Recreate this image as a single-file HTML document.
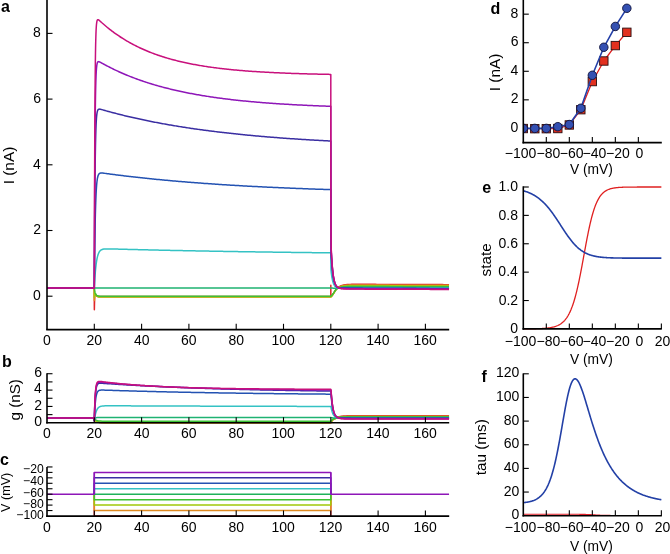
<!DOCTYPE html>
<html><head><meta charset="utf-8"><style>
html,body{margin:0;padding:0;background:#fff;width:670px;height:554px;overflow:hidden}
svg{display:block;will-change:transform}
text{font-family:"Liberation Sans", sans-serif;fill:#000}
</style></head><body>
<svg width="670" height="554" viewBox="0 0 670 554">
<rect width="670" height="554" fill="#fff"/>
<polyline points="47,287.99 94.3,287.99 94.3,287.99 94.32,306.18 94.35,309.67 94.37,309.4 94.42,306.94 94.49,303.47 94.61,299.46 94.72,296.98 94.84,295.5 94.96,294.66 95.07,294.23 95.19,294.06 95.31,294.04 95.43,294.12 95.54,294.26 95.66,294.42 95.78,294.6 95.89,294.77 96.01,294.94 96.13,295.09 96.24,295.24 96.36,295.37 96.48,295.5 96.6,295.61 96.71,295.71 96.83,295.8 96.95,295.88 97.06,295.95 97.18,296.02 97.3,296.08 97.42,296.13 97.53,296.18 97.65,296.22 97.77,296.26 97.88,296.3 98,296.33 98.12,296.36 98.23,296.38 98.35,296.4 98.47,296.42 98.59,296.44 98.7,296.46 98.82,296.47 98.94,296.48 99.05,296.5 99.17,296.51 99.29,296.51 99.41,296.52 99.52,296.53 99.64,296.54 99.76,296.54 99.87,296.55 99.99,296.55 100.11,296.56 100.22,296.56 100.34,296.56 100.46,296.57 100.58,296.57 100.69,296.57 100.81,296.58 100.93,296.58 101.04,296.58 101.16,296.58 101.28,296.58 101.4,296.58 101.63,296.59 102.78,296.59 103.93,296.59 105.09,296.59 106.24,296.59 107.39,296.59 108.54,296.59 109.69,296.59 110.84,296.59 112,296.59 113.15,296.59 114.3,296.59 115.45,296.59 116.6,296.59 117.75,296.59 118.91,296.59 120.06,296.59 121.21,296.59 122.36,296.59 123.51,296.59 124.66,296.59 125.82,296.59 126.97,296.59 128.12,296.59 129.27,296.59 130.42,296.59 131.57,296.59 132.72,296.59 133.88,296.59 135.03,296.59 136.18,296.59 137.33,296.59 138.48,296.59 139.63,296.59 140.79,296.59 141.94,296.59 143.09,296.59 144.24,296.59 145.39,296.59 146.54,296.59 147.7,296.59 148.85,296.59 150,296.59 151.15,296.59 152.3,296.59 153.45,296.59 154.61,296.59 155.76,296.59 156.91,296.59 158.06,296.59 159.21,296.59 160.36,296.59 161.51,296.59 162.67,296.59 163.82,296.59 164.97,296.59 166.12,296.59 167.27,296.59 168.42,296.59 169.58,296.59 170.73,296.59 171.88,296.59 173.03,296.59 174.18,296.59 175.33,296.59 176.49,296.59 177.64,296.59 178.79,296.59 179.94,296.59 181.09,296.59 182.24,296.59 183.4,296.59 184.55,296.59 185.7,296.59 186.85,296.59 188,296.59 189.15,296.59 190.3,296.59 191.46,296.59 192.61,296.59 193.76,296.59 194.91,296.59 196.06,296.59 197.21,296.59 198.37,296.59 199.52,296.59 200.67,296.59 201.82,296.59 202.97,296.59 204.12,296.59 205.28,296.59 206.43,296.59 207.58,296.59 208.73,296.59 209.88,296.59 211.03,296.59 212.19,296.59 213.34,296.59 214.49,296.59 215.64,296.59 216.79,296.59 217.94,296.59 219.09,296.59 220.25,296.59 221.4,296.59 222.55,296.59 223.7,296.59 224.85,296.59 226,296.59 227.16,296.59 228.31,296.59 229.46,296.59 230.61,296.59 231.76,296.59 232.91,296.59 234.07,296.59 235.22,296.59 236.37,296.59 237.52,296.59 238.67,296.59 239.82,296.59 240.98,296.59 242.13,296.59 243.28,296.59 244.43,296.59 245.58,296.59 246.73,296.59 247.88,296.59 249.04,296.59 250.19,296.59 251.34,296.59 252.49,296.59 253.64,296.59 254.79,296.59 255.95,296.59 257.1,296.59 258.25,296.59 259.4,296.59 260.55,296.59 261.7,296.59 262.86,296.59 264.01,296.59 265.16,296.59 266.31,296.59 267.46,296.59 268.61,296.59 269.77,296.59 270.92,296.59 272.07,296.59 273.22,296.59 274.37,296.59 275.52,296.59 276.67,296.59 277.83,296.59 278.98,296.59 280.13,296.59 281.28,296.59 282.43,296.59 283.58,296.59 284.74,296.59 285.89,296.59 287.04,296.59 288.19,296.59 289.34,296.59 290.49,296.59 291.65,296.59 292.8,296.59 293.95,296.59 295.1,296.59 296.25,296.59 297.4,296.59 298.56,296.59 299.71,296.59 300.86,296.59 302.01,296.59 303.16,296.59 304.31,296.59 305.46,296.59 306.62,296.59 307.77,296.59 308.92,296.59 310.07,296.59 311.22,296.59 312.37,296.59 313.53,296.59 314.68,296.59 315.83,296.59 316.98,296.59 318.13,296.59 319.28,296.59 320.44,296.59 321.59,296.59 322.74,296.59 323.89,296.59 325.04,296.59 326.19,296.59 327.35,296.59 328.5,296.59 329.65,296.59 330.8,296.59 330.8,296.59 330.82,285.36 330.85,296.56 330.87,296.55 330.92,296.52 331.04,296.43 331.15,296.33 331.27,296.23 331.39,296.12 331.51,296.01 331.63,295.88 331.75,295.76 331.86,295.62 331.98,295.48 332.1,295.34 332.22,295.19 332.34,295.03 332.46,294.87 332.57,294.71 332.69,294.54 332.81,294.37 332.93,294.2 333.05,294.02 333.17,293.84 333.28,293.66 333.4,293.48 333.52,293.3 333.64,293.11 333.76,292.92 333.87,292.74 333.99,292.55 334.11,292.36 334.23,292.18 334.35,291.99 334.47,291.8 334.58,291.62 334.7,291.44 334.82,291.26 334.94,291.08 335.06,290.9 335.18,290.73 335.29,290.56 335.41,290.39 335.53,290.23 335.65,290.07 335.77,289.91 335.88,289.76 336,289.62 336.12,289.48 336.24,289.34 336.36,289.21 336.48,289.09 336.59,288.98 336.71,288.87 336.83,288.76 336.95,288.67 337.07,288.58 337.19,288.5 337.3,288.37 337.42,288.25 337.54,288.12 337.66,288 337.78,287.89 337.9,287.78 338.01,287.67 338.13,287.56 338.25,287.46 338.37,287.36 338.49,287.26 338.6,287.17 338.72,287.08 338.84,286.99 338.96,286.91 339.08,286.83 339.2,286.75 339.31,286.67 339.43,286.6 339.55,286.52 339.67,286.45 339.79,286.39 339.91,286.32 340.02,286.26 340.14,286.2 340.26,286.14 340.38,286.08 340.5,286.02 340.61,285.97 340.73,285.91 340.85,285.86 340.97,285.81 341.09,285.77 341.21,285.72 341.32,285.67 341.44,285.63 341.56,285.59 341.68,285.55 341.8,285.51 341.92,285.47 342.03,285.43 342.15,285.4 342.27,285.36 342.39,285.33 342.51,285.29 342.62,285.26 342.74,285.23 342.86,285.2 342.98,285.17 343.1,285.14 343.22,285.12 343.33,285.09 343.45,285.07 343.57,285.04 343.69,285.02 343.81,284.99 343.93,284.97 344.04,284.95 344.16,284.93 344.28,284.91 344.4,284.89 344.52,284.87 344.64,284.85 344.75,284.83 344.87,284.81 344.99,284.8 345.11,284.78 345.23,284.77 345.34,284.75 345.46,284.74 345.58,284.72 345.7,284.71 345.82,284.69 345.94,284.68 346.05,284.67 346.17,284.66 346.29,284.64 346.41,284.63 346.53,284.62 346.65,284.61 346.76,284.6 346.88,284.59 347,284.58 347.12,284.57 347.24,284.56 347.36,284.55 347.47,284.55 347.59,284.54 347.71,284.53 347.83,284.52 347.95,284.51 348.06,284.51 348.18,284.5 348.3,284.49 348.42,284.49 348.54,284.48 348.66,284.47 348.77,284.47 348.89,284.46 349.01,284.46 349.13,284.45 349.25,284.45 349.37,284.44 349.48,284.44 349.6,284.43 349.72,284.43 350.19,284.41 351.87,284.37 353.54,284.34 355.22,284.33 356.9,284.32 358.57,284.32 360.25,284.32 361.92,284.32 363.6,284.33 365.27,284.33 366.95,284.34 368.62,284.34 370.3,284.35 371.98,284.36 373.65,284.36 375.33,284.37 377,284.38 378.68,284.38 380.35,284.39 382.03,284.39 383.7,284.4 385.38,284.41 387.05,284.41 388.73,284.42 390.41,284.43 392.08,284.43 393.76,284.44 395.43,284.45 397.11,284.45 398.78,284.46 400.46,284.47 402.13,284.47 403.81,284.48 405.49,284.48 407.16,284.49 408.84,284.5 410.51,284.5 412.19,284.51 413.86,284.52 415.54,284.52 417.21,284.53 418.89,284.54 420.57,284.54 422.24,284.55 423.92,284.55 425.59,284.56 427.27,284.57 428.94,284.57 430.62,284.58 432.29,284.59 433.97,284.59 435.65,284.6 437.32,284.61 439,284.61 440.67,284.62 442.35,284.62 444.02,284.63 445.7,284.64 447.37,284.64 449.05,284.65" fill="none" stroke="#e0262a" stroke-width="1.5" stroke-linejoin="round" />
<polyline points="47,287.99 94.3,287.99 94.3,287.99 94.32,298.4 94.35,300.47 94.37,300.4 94.42,299.18 94.49,297.45 94.61,295.54 94.72,294.46 94.84,293.92 94.96,293.7 95.07,293.69 95.19,293.8 95.31,293.98 95.43,294.2 95.54,294.43 95.66,294.66 95.78,294.88 95.89,295.08 96.01,295.27 96.13,295.45 96.24,295.61 96.36,295.76 96.48,295.89 96.6,296.01 96.71,296.12 96.83,296.21 96.95,296.3 97.06,296.38 97.18,296.45 97.3,296.51 97.42,296.57 97.53,296.62 97.65,296.66 97.77,296.71 97.88,296.74 98,296.77 98.12,296.8 98.23,296.83 98.35,296.85 98.47,296.87 98.59,296.89 98.7,296.91 98.82,296.92 98.94,296.94 99.05,296.95 99.17,296.96 99.29,296.97 99.41,296.98 99.52,296.99 99.64,296.99 99.76,297 99.87,297.01 99.99,297.01 100.11,297.02 100.22,297.02 100.34,297.02 100.46,297.03 100.58,297.03 100.69,297.03 100.81,297.03 100.93,297.04 101.04,297.04 101.16,297.04 101.28,297.04 101.4,297.04 101.63,297.04 102.78,297.05 103.93,297.05 105.09,297.05 106.24,297.05 107.39,297.05 108.54,297.05 109.69,297.05 110.84,297.05 112,297.05 113.15,297.05 114.3,297.05 115.45,297.05 116.6,297.05 117.75,297.05 118.91,297.05 120.06,297.05 121.21,297.05 122.36,297.05 123.51,297.05 124.66,297.05 125.82,297.05 126.97,297.05 128.12,297.05 129.27,297.05 130.42,297.05 131.57,297.05 132.72,297.05 133.88,297.05 135.03,297.05 136.18,297.05 137.33,297.05 138.48,297.05 139.63,297.05 140.79,297.05 141.94,297.05 143.09,297.05 144.24,297.05 145.39,297.05 146.54,297.05 147.7,297.05 148.85,297.05 150,297.05 151.15,297.05 152.3,297.05 153.45,297.05 154.61,297.05 155.76,297.05 156.91,297.05 158.06,297.05 159.21,297.05 160.36,297.05 161.51,297.05 162.67,297.05 163.82,297.05 164.97,297.05 166.12,297.05 167.27,297.05 168.42,297.05 169.58,297.05 170.73,297.05 171.88,297.05 173.03,297.05 174.18,297.05 175.33,297.05 176.49,297.05 177.64,297.05 178.79,297.05 179.94,297.05 181.09,297.05 182.24,297.05 183.4,297.05 184.55,297.05 185.7,297.05 186.85,297.05 188,297.05 189.15,297.05 190.3,297.05 191.46,297.05 192.61,297.05 193.76,297.05 194.91,297.05 196.06,297.05 197.21,297.05 198.37,297.05 199.52,297.05 200.67,297.05 201.82,297.05 202.97,297.05 204.12,297.05 205.28,297.05 206.43,297.05 207.58,297.05 208.73,297.05 209.88,297.05 211.03,297.05 212.19,297.05 213.34,297.05 214.49,297.05 215.64,297.05 216.79,297.05 217.94,297.05 219.09,297.05 220.25,297.05 221.4,297.05 222.55,297.05 223.7,297.05 224.85,297.05 226,297.05 227.16,297.05 228.31,297.05 229.46,297.05 230.61,297.05 231.76,297.05 232.91,297.05 234.07,297.05 235.22,297.05 236.37,297.05 237.52,297.05 238.67,297.05 239.82,297.05 240.98,297.05 242.13,297.05 243.28,297.05 244.43,297.05 245.58,297.05 246.73,297.05 247.88,297.05 249.04,297.05 250.19,297.05 251.34,297.05 252.49,297.05 253.64,297.05 254.79,297.05 255.95,297.05 257.1,297.05 258.25,297.05 259.4,297.05 260.55,297.05 261.7,297.05 262.86,297.05 264.01,297.05 265.16,297.05 266.31,297.05 267.46,297.05 268.61,297.05 269.77,297.05 270.92,297.05 272.07,297.05 273.22,297.05 274.37,297.05 275.52,297.05 276.67,297.05 277.83,297.05 278.98,297.05 280.13,297.05 281.28,297.05 282.43,297.05 283.58,297.05 284.74,297.05 285.89,297.05 287.04,297.05 288.19,297.05 289.34,297.05 290.49,297.05 291.65,297.05 292.8,297.05 293.95,297.05 295.1,297.05 296.25,297.05 297.4,297.05 298.56,297.05 299.71,297.05 300.86,297.05 302.01,297.05 303.16,297.05 304.31,297.05 305.46,297.05 306.62,297.05 307.77,297.05 308.92,297.05 310.07,297.05 311.22,297.05 312.37,297.05 313.53,297.05 314.68,297.05 315.83,297.05 316.98,297.05 318.13,297.05 319.28,297.05 320.44,297.05 321.59,297.05 322.74,297.05 323.89,297.05 325.04,297.05 326.19,297.05 327.35,297.05 328.5,297.05 329.65,297.05 330.8,297.05 330.8,297.05 330.82,297.04 330.85,297.02 330.87,297.01 330.92,296.97 331.04,296.88 331.15,296.78 331.27,296.67 331.39,296.56 331.51,296.43 331.63,296.3 331.75,296.17 331.86,296.03 331.98,295.88 332.1,295.72 332.22,295.57 332.34,295.4 332.46,295.23 332.57,295.06 332.69,294.89 332.81,294.71 332.93,294.52 333.05,294.34 333.17,294.15 333.28,293.96 333.4,293.76 333.52,293.57 333.64,293.37 333.76,293.17 333.87,292.98 333.99,292.78 334.11,292.58 334.23,292.38 334.35,292.19 334.47,291.99 334.58,291.8 334.7,291.6 334.82,291.41 334.94,291.22 335.06,291.04 335.18,290.85 335.29,290.67 335.41,290.5 335.53,290.32 335.65,290.16 335.77,289.99 335.88,289.83 336,289.68 336.12,289.53 336.24,289.39 336.36,289.25 336.48,289.13 336.59,289 336.71,288.89 336.83,288.78 336.95,288.68 337.07,288.59 337.19,288.5 337.3,288.39 337.42,288.29 337.54,288.19 337.66,288.09 337.78,287.99 337.9,287.9 338.01,287.8 338.13,287.72 338.25,287.63 338.37,287.55 338.49,287.47 338.6,287.39 338.72,287.32 338.84,287.24 338.96,287.17 339.08,287.1 339.2,287.04 339.31,286.97 339.43,286.91 339.55,286.85 339.67,286.79 339.79,286.73 339.91,286.68 340.02,286.63 340.14,286.57 340.26,286.52 340.38,286.48 340.5,286.43 340.61,286.38 340.73,286.34 340.85,286.3 340.97,286.26 341.09,286.22 341.21,286.18 341.32,286.14 341.44,286.1 341.56,286.07 341.68,286.03 341.8,286 341.92,285.97 342.03,285.94 342.15,285.91 342.27,285.88 342.39,285.85 342.51,285.82 342.62,285.8 342.74,285.77 342.86,285.74 342.98,285.72 343.1,285.7 343.22,285.67 343.33,285.65 343.45,285.63 343.57,285.61 343.69,285.59 343.81,285.57 343.93,285.55 344.04,285.53 344.16,285.52 344.28,285.5 344.4,285.48 344.52,285.47 344.64,285.45 344.75,285.44 344.87,285.42 344.99,285.41 345.11,285.4 345.23,285.38 345.34,285.37 345.46,285.36 345.58,285.35 345.7,285.33 345.82,285.32 345.94,285.31 346.05,285.3 346.17,285.29 346.29,285.28 346.41,285.27 346.53,285.26 346.65,285.25 346.76,285.25 346.88,285.24 347,285.23 347.12,285.22 347.24,285.21 347.36,285.21 347.47,285.2 347.59,285.19 347.71,285.19 347.83,285.18 347.95,285.17 348.06,285.17 348.18,285.16 348.3,285.16 348.42,285.15 348.54,285.15 348.66,285.14 348.77,285.14 348.89,285.13 349.01,285.13 349.13,285.12 349.25,285.12 349.37,285.11 349.48,285.11 349.6,285.11 349.72,285.1 350.19,285.09 351.87,285.05 353.54,285.03 355.22,285.02 356.9,285.02 358.57,285.02 360.25,285.02 361.92,285.02 363.6,285.03 365.27,285.03 366.95,285.04 368.62,285.04 370.3,285.05 371.98,285.06 373.65,285.06 375.33,285.07 377,285.08 378.68,285.08 380.35,285.09 382.03,285.09 383.7,285.1 385.38,285.11 387.05,285.11 388.73,285.12 390.41,285.13 392.08,285.13 393.76,285.14 395.43,285.15 397.11,285.15 398.78,285.16 400.46,285.17 402.13,285.17 403.81,285.18 405.49,285.18 407.16,285.19 408.84,285.2 410.51,285.2 412.19,285.21 413.86,285.22 415.54,285.22 417.21,285.23 418.89,285.24 420.57,285.24 422.24,285.25 423.92,285.25 425.59,285.26 427.27,285.27 428.94,285.27 430.62,285.28 432.29,285.29 433.97,285.29 435.65,285.3 437.32,285.31 439,285.31 440.67,285.32 442.35,285.32 444.02,285.33 445.7,285.34 447.37,285.34 449.05,285.35" fill="none" stroke="#e08a22" stroke-width="1.5" stroke-linejoin="round" />
<polyline points="47,287.99 94.3,287.99 94.3,287.99 94.32,295.91 94.35,297.51 94.37,297.51 94.42,296.66 94.49,295.47 94.61,294.2 94.72,293.55 94.84,293.27 94.96,293.24 95.07,293.34 95.19,293.53 95.31,293.76 95.43,294 95.54,294.25 95.66,294.48 95.78,294.71 95.89,294.92 96.01,295.11 96.13,295.28 96.24,295.44 96.36,295.59 96.48,295.72 96.6,295.84 96.71,295.94 96.83,296.04 96.95,296.12 97.06,296.2 97.18,296.27 97.3,296.33 97.42,296.38 97.53,296.43 97.65,296.48 97.77,296.52 97.88,296.55 98,296.58 98.12,296.61 98.23,296.64 98.35,296.66 98.47,296.68 98.59,296.7 98.7,296.72 98.82,296.73 98.94,296.74 99.05,296.76 99.17,296.77 99.29,296.78 99.41,296.78 99.52,296.79 99.64,296.8 99.76,296.8 99.87,296.81 99.99,296.81 100.11,296.82 100.22,296.82 100.34,296.83 100.46,296.83 100.58,296.83 100.69,296.84 100.81,296.84 100.93,296.84 101.04,296.84 101.16,296.84 101.28,296.84 101.4,296.85 101.63,296.85 102.78,296.85 103.93,296.86 105.09,296.86 106.24,296.86 107.39,296.86 108.54,296.86 109.69,296.86 110.84,296.86 112,296.86 113.15,296.86 114.3,296.86 115.45,296.86 116.6,296.86 117.75,296.86 118.91,296.86 120.06,296.86 121.21,296.86 122.36,296.86 123.51,296.86 124.66,296.86 125.82,296.86 126.97,296.86 128.12,296.86 129.27,296.86 130.42,296.86 131.57,296.86 132.72,296.86 133.88,296.86 135.03,296.86 136.18,296.86 137.33,296.86 138.48,296.86 139.63,296.86 140.79,296.86 141.94,296.86 143.09,296.86 144.24,296.86 145.39,296.86 146.54,296.86 147.7,296.86 148.85,296.86 150,296.86 151.15,296.86 152.3,296.86 153.45,296.86 154.61,296.86 155.76,296.86 156.91,296.86 158.06,296.86 159.21,296.86 160.36,296.86 161.51,296.86 162.67,296.86 163.82,296.86 164.97,296.86 166.12,296.86 167.27,296.86 168.42,296.86 169.58,296.86 170.73,296.86 171.88,296.86 173.03,296.86 174.18,296.86 175.33,296.86 176.49,296.86 177.64,296.86 178.79,296.86 179.94,296.86 181.09,296.86 182.24,296.86 183.4,296.86 184.55,296.86 185.7,296.86 186.85,296.86 188,296.86 189.15,296.86 190.3,296.86 191.46,296.86 192.61,296.86 193.76,296.86 194.91,296.86 196.06,296.86 197.21,296.86 198.37,296.86 199.52,296.86 200.67,296.86 201.82,296.86 202.97,296.86 204.12,296.86 205.28,296.86 206.43,296.86 207.58,296.86 208.73,296.86 209.88,296.86 211.03,296.86 212.19,296.86 213.34,296.86 214.49,296.86 215.64,296.86 216.79,296.86 217.94,296.86 219.09,296.86 220.25,296.86 221.4,296.86 222.55,296.86 223.7,296.86 224.85,296.86 226,296.86 227.16,296.86 228.31,296.86 229.46,296.86 230.61,296.86 231.76,296.86 232.91,296.86 234.07,296.86 235.22,296.86 236.37,296.86 237.52,296.86 238.67,296.86 239.82,296.86 240.98,296.86 242.13,296.86 243.28,296.86 244.43,296.86 245.58,296.86 246.73,296.86 247.88,296.86 249.04,296.86 250.19,296.86 251.34,296.86 252.49,296.86 253.64,296.86 254.79,296.86 255.95,296.86 257.1,296.86 258.25,296.86 259.4,296.86 260.55,296.86 261.7,296.86 262.86,296.86 264.01,296.86 265.16,296.86 266.31,296.86 267.46,296.86 268.61,296.86 269.77,296.86 270.92,296.86 272.07,296.86 273.22,296.86 274.37,296.86 275.52,296.86 276.67,296.86 277.83,296.86 278.98,296.86 280.13,296.86 281.28,296.86 282.43,296.86 283.58,296.86 284.74,296.86 285.89,296.86 287.04,296.86 288.19,296.86 289.34,296.86 290.49,296.86 291.65,296.86 292.8,296.86 293.95,296.86 295.1,296.86 296.25,296.86 297.4,296.86 298.56,296.86 299.71,296.86 300.86,296.86 302.01,296.86 303.16,296.86 304.31,296.86 305.46,296.86 306.62,296.86 307.77,296.86 308.92,296.86 310.07,296.86 311.22,296.86 312.37,296.86 313.53,296.86 314.68,296.86 315.83,296.86 316.98,296.86 318.13,296.86 319.28,296.86 320.44,296.86 321.59,296.86 322.74,296.86 323.89,296.86 325.04,296.86 326.19,296.86 327.35,296.86 328.5,296.86 329.65,296.86 330.8,296.86 330.8,296.86 330.82,296.84 330.85,296.83 330.87,296.81 330.92,296.78 331.04,296.69 331.15,296.59 331.27,296.48 331.39,296.37 331.51,296.25 331.63,296.12 331.75,295.99 331.86,295.85 331.98,295.71 332.1,295.56 332.22,295.4 332.34,295.24 332.46,295.08 332.57,294.91 332.69,294.74 332.81,294.56 332.93,294.38 333.05,294.2 333.17,294.02 333.28,293.83 333.4,293.64 333.52,293.45 333.64,293.26 333.76,293.07 333.87,292.87 333.99,292.68 334.11,292.49 334.23,292.29 334.35,292.1 334.47,291.91 334.58,291.72 334.7,291.53 334.82,291.34 334.94,291.16 335.06,290.98 335.18,290.8 335.29,290.62 335.41,290.45 335.53,290.28 335.65,290.12 335.77,289.96 335.88,289.8 336,289.65 336.12,289.51 336.24,289.37 336.36,289.24 336.48,289.11 336.59,288.99 336.71,288.88 336.83,288.77 336.95,288.68 337.07,288.59 337.19,288.5 337.3,288.42 337.42,288.33 337.54,288.25 337.66,288.17 337.78,288.09 337.9,288.01 338.01,287.94 338.13,287.87 338.25,287.8 338.37,287.74 338.49,287.67 338.6,287.61 338.72,287.55 338.84,287.49 338.96,287.43 339.08,287.38 339.2,287.33 339.31,287.27 339.43,287.22 339.55,287.17 339.67,287.13 339.79,287.08 339.91,287.04 340.02,287 340.14,286.95 340.26,286.91 340.38,286.88 340.5,286.84 340.61,286.8 340.73,286.77 340.85,286.73 340.97,286.7 341.09,286.67 341.21,286.63 341.32,286.6 341.44,286.58 341.56,286.55 341.68,286.52 341.8,286.49 341.92,286.47 342.03,286.44 342.15,286.42 342.27,286.4 342.39,286.37 342.51,286.35 342.62,286.33 342.74,286.31 342.86,286.29 342.98,286.27 343.1,286.25 343.22,286.23 343.33,286.21 343.45,286.2 343.57,286.18 343.69,286.17 343.81,286.15 343.93,286.14 344.04,286.12 344.16,286.11 344.28,286.09 344.4,286.08 344.52,286.07 344.64,286.05 344.75,286.04 344.87,286.03 344.99,286.02 345.11,286.01 345.23,286 345.34,285.99 345.46,285.98 345.58,285.97 345.7,285.96 345.82,285.95 345.94,285.94 346.05,285.93 346.17,285.93 346.29,285.92 346.41,285.91 346.53,285.9 346.65,285.9 346.76,285.89 346.88,285.88 347,285.88 347.12,285.87 347.24,285.86 347.36,285.86 347.47,285.85 347.59,285.85 347.71,285.84 347.83,285.84 347.95,285.83 348.06,285.83 348.18,285.82 348.3,285.82 348.42,285.82 348.54,285.81 348.66,285.81 348.77,285.8 348.89,285.8 349.01,285.8 349.13,285.79 349.25,285.79 349.37,285.79 349.48,285.78 349.6,285.78 349.72,285.78 350.19,285.77 351.87,285.74 353.54,285.72 355.22,285.72 356.9,285.72 358.57,285.72 360.25,285.72 361.92,285.72 363.6,285.73 365.27,285.73 366.95,285.74 368.62,285.74 370.3,285.75 371.98,285.76 373.65,285.76 375.33,285.77 377,285.78 378.68,285.78 380.35,285.79 382.03,285.79 383.7,285.8 385.38,285.81 387.05,285.81 388.73,285.82 390.41,285.83 392.08,285.83 393.76,285.84 395.43,285.85 397.11,285.85 398.78,285.86 400.46,285.87 402.13,285.87 403.81,285.88 405.49,285.88 407.16,285.89 408.84,285.9 410.51,285.9 412.19,285.91 413.86,285.92 415.54,285.92 417.21,285.93 418.89,285.94 420.57,285.94 422.24,285.95 423.92,285.95 425.59,285.96 427.27,285.97 428.94,285.97 430.62,285.98 432.29,285.99 433.97,285.99 435.65,286 437.32,286.01 439,286.01 440.67,286.02 442.35,286.02 444.02,286.03 445.7,286.04 447.37,286.04 449.05,286.05" fill="none" stroke="#a2c80a" stroke-width="1.5" stroke-linejoin="round" />
<polyline points="47,287.99 94.3,287.99 94.3,287.99 94.32,288.17 94.35,288.34 94.37,288.52 94.42,288.85 94.49,289.33 94.61,290.04 94.72,290.68 94.84,291.26 94.96,291.77 95.07,292.23 95.19,292.65 95.31,293.02 95.43,293.35 95.54,293.65 95.66,293.91 95.78,294.15 95.89,294.36 96.01,294.55 96.13,294.73 96.24,294.88 96.36,295.02 96.48,295.14 96.6,295.25 96.71,295.35 96.83,295.44 96.95,295.52 97.06,295.59 97.18,295.65 97.3,295.71 97.42,295.76 97.53,295.81 97.65,295.85 97.77,295.88 97.88,295.92 98,295.95 98.12,295.97 98.23,296 98.35,296.02 98.47,296.04 98.59,296.05 98.7,296.07 98.82,296.08 98.94,296.09 99.05,296.11 99.17,296.12 99.29,296.12 99.41,296.13 99.52,296.14 99.64,296.15 99.76,296.15 99.87,296.16 99.99,296.16 100.11,296.16 100.22,296.17 100.34,296.17 100.46,296.17 100.58,296.18 100.69,296.18 100.81,296.18 100.93,296.18 101.04,296.19 101.16,296.19 101.28,296.19 101.4,296.19 101.63,296.19 102.78,296.2 103.93,296.2 105.09,296.2 106.24,296.2 107.39,296.2 108.54,296.2 109.69,296.2 110.84,296.2 112,296.2 113.15,296.2 114.3,296.2 115.45,296.2 116.6,296.2 117.75,296.2 118.91,296.2 120.06,296.2 121.21,296.2 122.36,296.2 123.51,296.2 124.66,296.2 125.82,296.2 126.97,296.2 128.12,296.2 129.27,296.2 130.42,296.2 131.57,296.2 132.72,296.2 133.88,296.2 135.03,296.2 136.18,296.2 137.33,296.2 138.48,296.2 139.63,296.2 140.79,296.2 141.94,296.2 143.09,296.2 144.24,296.2 145.39,296.2 146.54,296.2 147.7,296.2 148.85,296.2 150,296.2 151.15,296.2 152.3,296.2 153.45,296.2 154.61,296.2 155.76,296.2 156.91,296.2 158.06,296.2 159.21,296.2 160.36,296.2 161.51,296.2 162.67,296.2 163.82,296.2 164.97,296.2 166.12,296.2 167.27,296.2 168.42,296.2 169.58,296.2 170.73,296.2 171.88,296.2 173.03,296.2 174.18,296.2 175.33,296.2 176.49,296.2 177.64,296.2 178.79,296.2 179.94,296.2 181.09,296.2 182.24,296.2 183.4,296.2 184.55,296.2 185.7,296.2 186.85,296.2 188,296.2 189.15,296.2 190.3,296.2 191.46,296.2 192.61,296.2 193.76,296.2 194.91,296.2 196.06,296.2 197.21,296.2 198.37,296.2 199.52,296.2 200.67,296.2 201.82,296.2 202.97,296.2 204.12,296.2 205.28,296.2 206.43,296.2 207.58,296.2 208.73,296.2 209.88,296.2 211.03,296.2 212.19,296.2 213.34,296.2 214.49,296.2 215.64,296.2 216.79,296.2 217.94,296.2 219.09,296.2 220.25,296.2 221.4,296.2 222.55,296.2 223.7,296.2 224.85,296.2 226,296.2 227.16,296.2 228.31,296.2 229.46,296.2 230.61,296.2 231.76,296.2 232.91,296.2 234.07,296.2 235.22,296.2 236.37,296.2 237.52,296.2 238.67,296.2 239.82,296.2 240.98,296.2 242.13,296.2 243.28,296.2 244.43,296.2 245.58,296.2 246.73,296.2 247.88,296.2 249.04,296.2 250.19,296.2 251.34,296.2 252.49,296.2 253.64,296.2 254.79,296.2 255.95,296.2 257.1,296.2 258.25,296.2 259.4,296.2 260.55,296.2 261.7,296.2 262.86,296.2 264.01,296.2 265.16,296.2 266.31,296.2 267.46,296.2 268.61,296.2 269.77,296.2 270.92,296.2 272.07,296.2 273.22,296.2 274.37,296.2 275.52,296.2 276.67,296.2 277.83,296.2 278.98,296.2 280.13,296.2 281.28,296.2 282.43,296.2 283.58,296.2 284.74,296.2 285.89,296.2 287.04,296.2 288.19,296.2 289.34,296.2 290.49,296.2 291.65,296.2 292.8,296.2 293.95,296.2 295.1,296.2 296.25,296.2 297.4,296.2 298.56,296.2 299.71,296.2 300.86,296.2 302.01,296.2 303.16,296.2 304.31,296.2 305.46,296.2 306.62,296.2 307.77,296.2 308.92,296.2 310.07,296.2 311.22,296.2 312.37,296.2 313.53,296.2 314.68,296.2 315.83,296.2 316.98,296.2 318.13,296.2 319.28,296.2 320.44,296.2 321.59,296.2 322.74,296.2 323.89,296.2 325.04,296.2 326.19,296.2 327.35,296.2 328.5,296.2 329.65,296.2 330.8,296.2 330.8,296.2 330.82,296.19 330.85,296.17 330.87,296.16 330.92,296.13 331.04,296.04 331.15,295.95 331.27,295.86 331.39,295.75 331.51,295.64 331.63,295.53 331.75,295.4 331.86,295.27 331.98,295.14 332.1,295 332.22,294.86 332.34,294.71 332.46,294.56 332.57,294.41 332.69,294.25 332.81,294.09 332.93,293.92 333.05,293.75 333.17,293.58 333.28,293.41 333.4,293.24 333.52,293.06 333.64,292.89 333.76,292.71 333.87,292.53 333.99,292.35 334.11,292.17 334.23,292 334.35,291.82 334.47,291.64 334.58,291.47 334.7,291.29 334.82,291.12 334.94,290.95 335.06,290.78 335.18,290.62 335.29,290.46 335.41,290.3 335.53,290.14 335.65,289.99 335.77,289.84 335.88,289.7 336,289.56 336.12,289.43 336.24,289.3 336.36,289.18 336.48,289.06 336.59,288.95 336.71,288.85 336.83,288.75 336.95,288.66 337.07,288.58 337.19,288.5 337.3,288.44 337.42,288.38 337.54,288.32 337.66,288.26 337.78,288.21 337.9,288.15 338.01,288.1 338.13,288.05 338.25,288 338.37,287.95 338.49,287.9 338.6,287.86 338.72,287.82 338.84,287.77 338.96,287.73 339.08,287.69 339.2,287.65 339.31,287.62 339.43,287.58 339.55,287.55 339.67,287.51 339.79,287.48 339.91,287.45 340.02,287.42 340.14,287.39 340.26,287.36 340.38,287.33 340.5,287.3 340.61,287.28 340.73,287.25 340.85,287.23 340.97,287.2 341.09,287.18 341.21,287.16 341.32,287.14 341.44,287.12 341.56,287.1 341.68,287.08 341.8,287.06 341.92,287.04 342.03,287.02 342.15,287 342.27,286.99 342.39,286.97 342.51,286.95 342.62,286.94 342.74,286.92 342.86,286.91 342.98,286.9 343.1,286.88 343.22,286.87 343.33,286.86 343.45,286.85 343.57,286.83 343.69,286.82 343.81,286.81 343.93,286.8 344.04,286.79 344.16,286.78 344.28,286.77 344.4,286.76 344.52,286.75 344.64,286.74 344.75,286.73 344.87,286.73 344.99,286.72 345.11,286.71 345.23,286.7 345.34,286.7 345.46,286.69 345.58,286.68 345.7,286.68 345.82,286.67 345.94,286.66 346.05,286.66 346.17,286.65 346.29,286.65 346.41,286.64 346.53,286.64 346.65,286.63 346.76,286.63 346.88,286.62 347,286.62 347.12,286.61 347.24,286.61 347.36,286.6 347.47,286.6 347.59,286.6 347.71,286.59 347.83,286.59 347.95,286.59 348.06,286.58 348.18,286.58 348.3,286.58 348.42,286.57 348.54,286.57 348.66,286.57 348.77,286.57 348.89,286.56 349.01,286.56 349.13,286.56 349.25,286.56 349.37,286.55 349.48,286.55 349.6,286.55 349.72,286.55 350.19,286.54 351.87,286.52 353.54,286.51 355.22,286.51 356.9,286.51 358.57,286.51 360.25,286.52 361.92,286.52 363.6,286.53 365.27,286.53 366.95,286.54 368.62,286.54 370.3,286.55 371.98,286.56 373.65,286.56 375.33,286.57 377,286.58 378.68,286.58 380.35,286.59 382.03,286.59 383.7,286.6 385.38,286.61 387.05,286.61 388.73,286.62 390.41,286.63 392.08,286.63 393.76,286.64 395.43,286.65 397.11,286.65 398.78,286.66 400.46,286.67 402.13,286.67 403.81,286.68 405.49,286.68 407.16,286.69 408.84,286.7 410.51,286.7 412.19,286.71 413.86,286.72 415.54,286.72 417.21,286.73 418.89,286.74 420.57,286.74 422.24,286.75 423.92,286.75 425.59,286.76 427.27,286.77 428.94,286.77 430.62,286.78 432.29,286.79 433.97,286.79 435.65,286.8 437.32,286.81 439,286.81 440.67,286.82 442.35,286.82 444.02,286.83 445.7,286.84 447.37,286.84 449.05,286.85" fill="none" stroke="#3cc234" stroke-width="1.5" stroke-linejoin="round" />
<polyline points="47,287.99 94.3,287.99 94.3,287.99 94.42,287.99 94.54,287.99 94.65,287.99 94.77,287.99 94.89,287.99 95.01,287.99 95.13,287.99 95.25,287.99 95.36,287.99 95.48,287.99 95.6,287.99 95.72,287.99 95.84,287.99 95.96,287.99 96.07,287.99 96.19,287.99 96.31,287.99 96.43,287.99 96.55,287.99 96.67,287.99 96.78,287.99 96.9,287.99 97.02,287.99 97.14,287.99 97.26,287.99 97.37,287.99 97.49,287.99 97.61,287.99 97.73,287.99 97.85,287.99 97.97,287.99 98.08,287.99 98.2,287.99 98.32,287.99 98.44,287.99 98.56,287.99 98.68,287.99 98.79,287.99 98.91,287.99 99.03,287.99 99.15,287.99 99.27,287.99 99.38,287.99 99.5,287.99 99.62,287.99 99.74,287.99 99.86,287.99 99.98,287.99 100.09,287.99 100.21,287.99 100.33,287.99 100.45,287.99 100.57,287.99 100.69,287.99 100.8,287.99 100.92,287.99 101.04,287.99 101.16,287.99 101.28,287.99 101.4,287.99 101.63,287.99 102.78,287.99 103.93,287.99 105.09,287.99 106.24,287.99 107.39,287.99 108.54,287.99 109.69,287.99 110.84,287.99 112,287.99 113.15,287.99 114.3,287.99 115.45,287.99 116.6,287.99 117.75,287.99 118.91,287.99 120.06,287.99 121.21,287.99 122.36,287.99 123.51,287.99 124.66,287.99 125.82,287.99 126.97,287.99 128.12,287.99 129.27,287.99 130.42,287.99 131.57,287.99 132.72,287.99 133.88,287.99 135.03,287.99 136.18,287.99 137.33,287.99 138.48,287.99 139.63,287.99 140.79,287.99 141.94,287.99 143.09,287.99 144.24,287.99 145.39,287.99 146.54,287.99 147.7,287.99 148.85,287.99 150,287.99 151.15,287.99 152.3,287.99 153.45,287.99 154.61,287.99 155.76,287.99 156.91,287.99 158.06,287.99 159.21,287.99 160.36,287.99 161.51,287.99 162.67,287.99 163.82,287.99 164.97,287.99 166.12,287.99 167.27,287.99 168.42,287.99 169.58,287.99 170.73,287.99 171.88,287.99 173.03,287.99 174.18,287.99 175.33,287.99 176.49,287.99 177.64,287.99 178.79,287.99 179.94,287.99 181.09,287.99 182.24,287.99 183.4,287.99 184.55,287.99 185.7,287.99 186.85,287.99 188,287.99 189.15,287.99 190.3,287.99 191.46,287.99 192.61,287.99 193.76,287.99 194.91,287.99 196.06,287.99 197.21,287.99 198.37,287.99 199.52,287.99 200.67,287.99 201.82,287.99 202.97,287.99 204.12,287.99 205.28,287.99 206.43,287.99 207.58,287.99 208.73,287.99 209.88,287.99 211.03,287.99 212.19,287.99 213.34,287.99 214.49,287.99 215.64,287.99 216.79,287.99 217.94,287.99 219.09,287.99 220.25,287.99 221.4,287.99 222.55,287.99 223.7,287.99 224.85,287.99 226,287.99 227.16,287.99 228.31,287.99 229.46,287.99 230.61,287.99 231.76,287.99 232.91,287.99 234.07,287.99 235.22,287.99 236.37,287.99 237.52,287.99 238.67,287.99 239.82,287.99 240.98,287.99 242.13,287.99 243.28,287.99 244.43,287.99 245.58,287.99 246.73,287.99 247.88,287.99 249.04,287.99 250.19,287.99 251.34,287.99 252.49,287.99 253.64,287.99 254.79,287.99 255.95,287.99 257.1,287.99 258.25,287.99 259.4,287.99 260.55,287.99 261.7,287.99 262.86,287.99 264.01,287.99 265.16,287.99 266.31,287.99 267.46,287.99 268.61,287.99 269.77,287.99 270.92,287.99 272.07,287.99 273.22,287.99 274.37,287.99 275.52,287.99 276.67,287.99 277.83,287.99 278.98,287.99 280.13,287.99 281.28,287.99 282.43,287.99 283.58,287.99 284.74,287.99 285.89,287.99 287.04,287.99 288.19,287.99 289.34,287.99 290.49,287.99 291.65,287.99 292.8,287.99 293.95,287.99 295.1,287.99 296.25,287.99 297.4,287.99 298.56,287.99 299.71,287.99 300.86,287.99 302.01,287.99 303.16,287.99 304.31,287.99 305.46,287.99 306.62,287.99 307.77,287.99 308.92,287.99 310.07,287.99 311.22,287.99 312.37,287.99 313.53,287.99 314.68,287.99 315.83,287.99 316.98,287.99 318.13,287.99 319.28,287.99 320.44,287.99 321.59,287.99 322.74,287.99 323.89,287.99 325.04,287.99 326.19,287.99 327.35,287.99 328.5,287.99 329.65,287.99 330.8,287.99 330.8,287.99 330.82,287.99 330.85,287.99 330.87,287.99 330.92,287.99 331.04,288 331.15,288 331.27,288.01 331.39,288.02 331.51,288.03 331.63,288.03 331.75,288.04 331.86,288.05 331.98,288.06 332.1,288.07 332.22,288.08 332.34,288.09 332.46,288.1 332.57,288.11 332.69,288.12 332.81,288.13 332.93,288.14 333.05,288.15 333.17,288.16 333.28,288.18 333.4,288.19 333.52,288.2 333.64,288.21 333.76,288.22 333.87,288.23 333.99,288.25 334.11,288.26 334.23,288.27 334.35,288.28 334.47,288.29 334.58,288.3 334.7,288.32 334.82,288.33 334.94,288.34 335.06,288.35 335.18,288.36 335.29,288.37 335.41,288.38 335.53,288.39 335.65,288.4 335.77,288.41 335.88,288.42 336,288.43 336.12,288.44 336.24,288.45 336.36,288.46 336.48,288.47 336.59,288.47 336.71,288.48 336.83,288.49 336.95,288.49 337.07,288.5 337.19,288.5 337.3,288.46 337.42,288.42 337.54,288.38 337.66,288.34 337.78,288.31 337.9,288.27 338.01,288.24 338.13,288.2 338.25,288.17 338.37,288.14 338.49,288.11 338.6,288.08 338.72,288.05 338.84,288.02 338.96,287.99 339.08,287.97 339.2,287.94 339.31,287.92 339.43,287.9 339.55,287.87 339.67,287.85 339.79,287.83 339.91,287.81 340.02,287.79 340.14,287.77 340.26,287.75 340.38,287.73 340.5,287.71 340.61,287.7 340.73,287.68 340.85,287.66 340.97,287.65 341.09,287.63 341.21,287.62 341.32,287.6 341.44,287.59 341.56,287.58 341.68,287.56 341.8,287.55 341.92,287.54 342.03,287.53 342.15,287.51 342.27,287.5 342.39,287.49 342.51,287.48 342.62,287.47 342.74,287.46 342.86,287.45 342.98,287.44 343.1,287.44 343.22,287.43 343.33,287.42 343.45,287.41 343.57,287.4 343.69,287.4 343.81,287.39 343.93,287.38 344.04,287.38 344.16,287.37 344.28,287.36 344.4,287.36 344.52,287.35 344.64,287.35 344.75,287.34 344.87,287.33 344.99,287.33 345.11,287.32 345.23,287.32 345.34,287.32 345.46,287.31 345.58,287.31 345.7,287.3 345.82,287.3 345.94,287.29 346.05,287.29 346.17,287.29 346.29,287.28 346.41,287.28 346.53,287.28 346.65,287.27 346.76,287.27 346.88,287.27 347,287.26 347.12,287.26 347.24,287.26 347.36,287.26 347.47,287.25 347.59,287.25 347.71,287.25 347.83,287.25 347.95,287.25 348.06,287.24 348.18,287.24 348.3,287.24 348.42,287.24 348.54,287.24 348.66,287.23 348.77,287.23 348.89,287.23 349.01,287.23 349.13,287.23 349.25,287.23 349.37,287.23 349.48,287.22 349.6,287.22 349.72,287.22 350.19,287.22 351.87,287.21 353.54,287.2 355.22,287.2 356.9,287.21 358.57,287.21 360.25,287.22 361.92,287.22 363.6,287.23 365.27,287.23 366.95,287.24 368.62,287.24 370.3,287.25 371.98,287.26 373.65,287.26 375.33,287.27 377,287.28 378.68,287.28 380.35,287.29 382.03,287.29 383.7,287.3 385.38,287.31 387.05,287.31 388.73,287.32 390.41,287.33 392.08,287.33 393.76,287.34 395.43,287.35 397.11,287.35 398.78,287.36 400.46,287.37 402.13,287.37 403.81,287.38 405.49,287.38 407.16,287.39 408.84,287.4 410.51,287.4 412.19,287.41 413.86,287.42 415.54,287.42 417.21,287.43 418.89,287.44 420.57,287.44 422.24,287.45 423.92,287.45 425.59,287.46 427.27,287.47 428.94,287.47 430.62,287.48 432.29,287.49 433.97,287.49 435.65,287.5 437.32,287.51 439,287.51 440.67,287.52 442.35,287.52 444.02,287.53 445.7,287.54 447.37,287.54 449.05,287.55" fill="none" stroke="#1fb272" stroke-width="1.5" stroke-linejoin="round" />
<polyline points="47,287.99 94.3,287.99 94.3,287.99 94.42,285.73 94.54,283.6 94.65,281.6 94.77,279.7 94.89,277.92 95.01,276.24 95.13,274.66 95.25,273.16 95.36,271.75 95.48,270.43 95.6,269.18 95.72,268 95.84,266.89 95.96,265.84 96.07,264.85 96.19,263.92 96.31,263.04 96.43,262.21 96.55,261.44 96.67,260.7 96.78,260.01 96.9,259.35 97.02,258.74 97.14,258.16 97.26,257.61 97.37,257.1 97.49,256.61 97.61,256.16 97.73,255.72 97.85,255.32 97.97,254.94 98.08,254.58 98.2,254.24 98.32,253.91 98.44,253.61 98.56,253.33 98.68,253.06 98.79,252.81 98.91,252.57 99.03,252.35 99.15,252.14 99.27,251.94 99.38,251.75 99.5,251.57 99.62,251.41 99.74,251.25 99.86,251.11 99.98,250.97 100.09,250.84 100.21,250.71 100.33,250.6 100.45,250.49 100.57,250.39 100.69,250.29 100.8,250.2 100.92,250.12 101.04,250.04 101.16,249.96 101.28,249.89 101.4,249.82 101.63,249.7 102.78,249.29 103.93,249.07 105.09,248.96 106.24,248.91 107.39,248.9 108.54,248.9 109.69,248.92 110.84,248.94 112,248.97 113.15,249 114.3,249.03 115.45,249.06 116.6,249.09 117.75,249.12 118.91,249.15 120.06,249.18 121.21,249.21 122.36,249.24 123.51,249.27 124.66,249.3 125.82,249.33 126.97,249.36 128.12,249.39 129.27,249.42 130.42,249.45 131.57,249.47 132.72,249.5 133.88,249.53 135.03,249.56 136.18,249.59 137.33,249.62 138.48,249.64 139.63,249.67 140.79,249.7 141.94,249.73 143.09,249.75 144.24,249.78 145.39,249.81 146.54,249.84 147.7,249.86 148.85,249.89 150,249.92 151.15,249.94 152.3,249.97 153.45,250 154.61,250.02 155.76,250.05 156.91,250.07 158.06,250.1 159.21,250.13 160.36,250.15 161.51,250.18 162.67,250.2 163.82,250.23 164.97,250.25 166.12,250.28 167.27,250.3 168.42,250.33 169.58,250.35 170.73,250.38 171.88,250.4 173.03,250.42 174.18,250.45 175.33,250.47 176.49,250.5 177.64,250.52 178.79,250.54 179.94,250.57 181.09,250.59 182.24,250.61 183.4,250.64 184.55,250.66 185.7,250.68 186.85,250.71 188,250.73 189.15,250.75 190.3,250.77 191.46,250.8 192.61,250.82 193.76,250.84 194.91,250.86 196.06,250.88 197.21,250.91 198.37,250.93 199.52,250.95 200.67,250.97 201.82,250.99 202.97,251.01 204.12,251.03 205.28,251.06 206.43,251.08 207.58,251.1 208.73,251.12 209.88,251.14 211.03,251.16 212.19,251.18 213.34,251.2 214.49,251.22 215.64,251.24 216.79,251.26 217.94,251.28 219.09,251.3 220.25,251.32 221.4,251.34 222.55,251.36 223.7,251.38 224.85,251.4 226,251.42 227.16,251.44 228.31,251.46 229.46,251.48 230.61,251.5 231.76,251.51 232.91,251.53 234.07,251.55 235.22,251.57 236.37,251.59 237.52,251.61 238.67,251.63 239.82,251.64 240.98,251.66 242.13,251.68 243.28,251.7 244.43,251.72 245.58,251.73 246.73,251.75 247.88,251.77 249.04,251.79 250.19,251.8 251.34,251.82 252.49,251.84 253.64,251.86 254.79,251.87 255.95,251.89 257.1,251.91 258.25,251.92 259.4,251.94 260.55,251.96 261.7,251.97 262.86,251.99 264.01,252.01 265.16,252.02 266.31,252.04 267.46,252.06 268.61,252.07 269.77,252.09 270.92,252.1 272.07,252.12 273.22,252.14 274.37,252.15 275.52,252.17 276.67,252.18 277.83,252.2 278.98,252.21 280.13,252.23 281.28,252.25 282.43,252.26 283.58,252.28 284.74,252.29 285.89,252.31 287.04,252.32 288.19,252.34 289.34,252.35 290.49,252.37 291.65,252.38 292.8,252.39 293.95,252.41 295.1,252.42 296.25,252.44 297.4,252.45 298.56,252.47 299.71,252.48 300.86,252.49 302.01,252.51 303.16,252.52 304.31,252.54 305.46,252.55 306.62,252.56 307.77,252.58 308.92,252.59 310.07,252.6 311.22,252.62 312.37,252.63 313.53,252.65 314.68,252.66 315.83,252.67 316.98,252.68 318.13,252.7 319.28,252.71 320.44,252.72 321.59,252.74 322.74,252.75 323.89,252.76 325.04,252.78 326.19,252.79 327.35,252.8 328.5,252.81 329.65,252.83 330.8,252.84 330.8,252.84 330.82,257.42 330.85,260.77 330.87,263.24 330.92,266.46 331.04,269.96 331.15,271.49 331.27,272.6 331.39,273.58 331.51,274.48 331.63,275.33 331.75,276.13 331.86,276.88 331.98,277.58 332.1,278.24 332.22,278.86 332.34,279.45 332.46,280 332.57,280.51 332.69,280.99 332.81,281.45 332.93,281.88 333.05,282.28 333.17,282.65 333.28,283.01 333.4,283.34 333.52,283.65 333.64,283.95 333.76,284.22 333.87,284.48 333.99,284.72 334.11,284.95 334.23,285.17 334.35,285.37 334.47,285.56 334.58,285.74 334.7,285.91 334.82,286.06 334.94,286.21 335.06,286.35 335.18,286.48 335.29,286.6 335.41,286.72 335.53,286.83 335.65,286.93 335.77,287.02 335.88,287.11 336,287.2 336.12,287.28 336.24,287.35 336.36,287.42 336.48,287.49 336.59,287.55 336.71,287.61 336.83,287.66 336.95,287.71 337.07,287.76 337.19,287.81 337.3,287.82 337.42,287.84 337.54,287.85 337.66,287.86 337.78,287.87 337.9,287.88 338.01,287.88 338.13,287.89 338.25,287.9 338.37,287.9 338.49,287.9 338.6,287.91 338.72,287.91 338.84,287.91 338.96,287.91 339.08,287.91 339.2,287.91 339.31,287.91 339.43,287.91 339.55,287.9 339.67,287.9 339.79,287.9 339.91,287.9 340.02,287.9 340.14,287.89 340.26,287.89 340.38,287.89 340.5,287.88 340.61,287.88 340.73,287.88 340.85,287.87 340.97,287.87 341.09,287.86 341.21,287.86 341.32,287.86 341.44,287.85 341.56,287.85 341.68,287.85 341.8,287.84 341.92,287.84 342.03,287.83 342.15,287.83 342.27,287.83 342.39,287.82 342.51,287.82 342.62,287.81 342.74,287.81 342.86,287.81 342.98,287.8 343.1,287.8 343.22,287.8 343.33,287.79 343.45,287.79 343.57,287.79 343.69,287.78 343.81,287.78 343.93,287.78 344.04,287.78 344.16,287.77 344.28,287.77 344.4,287.77 344.52,287.76 344.64,287.76 344.75,287.76 344.87,287.76 344.99,287.75 345.11,287.75 345.23,287.75 345.34,287.75 345.46,287.75 345.58,287.74 345.7,287.74 345.82,287.74 345.94,287.74 346.05,287.74 346.17,287.73 346.29,287.73 346.41,287.73 346.53,287.73 346.65,287.73 346.76,287.73 346.88,287.72 347,287.72 347.12,287.72 347.24,287.72 347.36,287.72 347.47,287.72 347.59,287.72 347.71,287.72 347.83,287.72 347.95,287.71 348.06,287.71 348.18,287.71 348.3,287.71 348.42,287.71 348.54,287.71 348.66,287.71 348.77,287.71 348.89,287.71 349.01,287.71 349.13,287.71 349.25,287.71 349.37,287.7 349.48,287.7 349.6,287.7 349.72,287.7 350.19,287.7 351.87,287.7 353.54,287.7 355.22,287.7 356.9,287.7 358.57,287.71 360.25,287.71 361.92,287.72 363.6,287.73 365.27,287.73 366.95,287.74 368.62,287.74 370.3,287.75 371.98,287.76 373.65,287.76 375.33,287.77 377,287.78 378.68,287.78 380.35,287.79 382.03,287.79 383.7,287.8 385.38,287.81 387.05,287.81 388.73,287.82 390.41,287.83 392.08,287.83 393.76,287.84 395.43,287.85 397.11,287.85 398.78,287.86 400.46,287.87 402.13,287.87 403.81,287.88 405.49,287.88 407.16,287.89 408.84,287.9 410.51,287.9 412.19,287.91 413.86,287.92 415.54,287.92 417.21,287.93 418.89,287.94 420.57,287.94 422.24,287.95 423.92,287.95 425.59,287.96 427.27,287.97 428.94,287.97 430.62,287.98 432.29,287.99 433.97,287.99 435.65,288 437.32,288.01 439,288.01 440.67,288.02 442.35,288.02 444.02,288.03 445.7,288.04 447.37,288.04 449.05,288.05" fill="none" stroke="#34c2c4" stroke-width="1.5" stroke-linejoin="round" />
<polyline points="47,287.99 94.3,287.99 94.3,287.99 94.42,275.78 94.54,264.85 94.65,255.08 94.77,246.34 94.89,238.52 95.01,231.53 95.13,225.27 95.25,219.68 95.36,214.67 95.48,210.2 95.6,206.2 95.72,202.62 95.84,199.42 95.96,196.55 96.07,194 96.19,191.71 96.31,189.66 96.43,187.84 96.55,186.2 96.67,184.74 96.78,183.44 96.9,182.27 97.02,181.23 97.14,180.3 97.26,179.47 97.37,178.73 97.49,178.07 97.61,177.48 97.73,176.96 97.85,176.49 97.97,176.07 98.08,175.7 98.2,175.37 98.32,175.08 98.44,174.81 98.56,174.58 98.68,174.38 98.79,174.19 98.91,174.03 99.03,173.89 99.15,173.76 99.27,173.65 99.38,173.55 99.5,173.47 99.62,173.39 99.74,173.33 99.86,173.27 99.98,173.22 100.09,173.18 100.21,173.15 100.33,173.12 100.45,173.09 100.57,173.07 100.69,173.05 100.8,173.04 100.92,173.03 101.04,173.02 101.16,173.02 101.28,173.01 101.4,173.01 101.63,173.02 102.78,173.1 103.93,173.23 105.09,173.38 106.24,173.53 107.39,173.69 108.54,173.84 109.69,174 110.84,174.15 112,174.3 113.15,174.45 114.3,174.6 115.45,174.74 116.6,174.89 117.75,175.04 118.91,175.18 120.06,175.32 121.21,175.47 122.36,175.61 123.51,175.75 124.66,175.89 125.82,176.02 126.97,176.16 128.12,176.3 129.27,176.43 130.42,176.57 131.57,176.7 132.72,176.83 133.88,176.96 135.03,177.09 136.18,177.22 137.33,177.35 138.48,177.48 139.63,177.6 140.79,177.73 141.94,177.85 143.09,177.98 144.24,178.1 145.39,178.22 146.54,178.34 147.7,178.46 148.85,178.58 150,178.7 151.15,178.82 152.3,178.93 153.45,179.05 154.61,179.16 155.76,179.28 156.91,179.39 158.06,179.5 159.21,179.61 160.36,179.73 161.51,179.84 162.67,179.94 163.82,180.05 164.97,180.16 166.12,180.27 167.27,180.37 168.42,180.48 169.58,180.58 170.73,180.68 171.88,180.79 173.03,180.89 174.18,180.99 175.33,181.09 176.49,181.19 177.64,181.29 178.79,181.39 179.94,181.49 181.09,181.58 182.24,181.68 183.4,181.77 184.55,181.87 185.7,181.96 186.85,182.06 188,182.15 189.15,182.24 190.3,182.33 191.46,182.42 192.61,182.51 193.76,182.6 194.91,182.69 196.06,182.78 197.21,182.86 198.37,182.95 199.52,183.04 200.67,183.12 201.82,183.21 202.97,183.29 204.12,183.38 205.28,183.46 206.43,183.54 207.58,183.62 208.73,183.7 209.88,183.78 211.03,183.86 212.19,183.94 213.34,184.02 214.49,184.1 215.64,184.18 216.79,184.25 217.94,184.33 219.09,184.41 220.25,184.48 221.4,184.56 222.55,184.63 223.7,184.7 224.85,184.78 226,184.85 227.16,184.92 228.31,184.99 229.46,185.06 230.61,185.13 231.76,185.2 232.91,185.27 234.07,185.34 235.22,185.41 236.37,185.48 237.52,185.55 238.67,185.61 239.82,185.68 240.98,185.75 242.13,185.81 243.28,185.88 244.43,185.94 245.58,186 246.73,186.07 247.88,186.13 249.04,186.19 250.19,186.25 251.34,186.32 252.49,186.38 253.64,186.44 254.79,186.5 255.95,186.56 257.1,186.62 258.25,186.68 259.4,186.74 260.55,186.79 261.7,186.85 262.86,186.91 264.01,186.97 265.16,187.02 266.31,187.08 267.46,187.13 268.61,187.19 269.77,187.24 270.92,187.3 272.07,187.35 273.22,187.4 274.37,187.46 275.52,187.51 276.67,187.56 277.83,187.62 278.98,187.67 280.13,187.72 281.28,187.77 282.43,187.82 283.58,187.87 284.74,187.92 285.89,187.97 287.04,188.02 288.19,188.07 289.34,188.11 290.49,188.16 291.65,188.21 292.8,188.26 293.95,188.3 295.1,188.35 296.25,188.4 297.4,188.44 298.56,188.49 299.71,188.53 300.86,188.58 302.01,188.62 303.16,188.67 304.31,188.71 305.46,188.75 306.62,188.8 307.77,188.84 308.92,188.88 310.07,188.93 311.22,188.97 312.37,189.01 313.53,189.05 314.68,189.09 315.83,189.13 316.98,189.17 318.13,189.21 319.28,189.25 320.44,189.29 321.59,189.33 322.74,189.37 323.89,189.41 325.04,189.45 326.19,189.48 327.35,189.52 328.5,189.56 329.65,189.6 330.8,189.63 330.8,189.63 330.82,206.79 330.85,219.22 330.87,228.26 330.92,239.73 331.04,251.02 331.15,254.86 331.27,257.2 331.39,259.15 331.51,260.94 331.63,262.61 331.75,264.18 331.86,265.65 331.98,267.03 332.1,268.33 332.22,269.55 332.34,270.7 332.46,271.78 332.57,272.79 332.69,273.74 332.81,274.64 332.93,275.48 333.05,276.27 333.17,277.01 333.28,277.7 333.4,278.36 333.52,278.97 333.64,279.55 333.76,280.09 333.87,280.6 333.99,281.08 334.11,281.53 334.23,281.95 334.35,282.35 334.47,282.72 334.58,283.07 334.7,283.4 334.82,283.71 334.94,284 335.06,284.27 335.18,284.53 335.29,284.77 335.41,285 335.53,285.21 335.65,285.41 335.77,285.6 335.88,285.77 336,285.94 336.12,286.09 336.24,286.24 336.36,286.38 336.48,286.51 336.59,286.63 336.71,286.74 336.83,286.85 336.95,286.95 337.07,287.04 337.19,287.13 337.3,287.2 337.42,287.27 337.54,287.33 337.66,287.38 337.78,287.43 337.9,287.48 338.01,287.53 338.13,287.57 338.25,287.61 338.37,287.65 338.49,287.68 338.6,287.71 338.72,287.74 338.84,287.77 338.96,287.79 339.08,287.82 339.2,287.84 339.31,287.86 339.43,287.88 339.55,287.9 339.67,287.91 339.79,287.93 339.91,287.94 340.02,287.96 340.14,287.97 340.26,287.98 340.38,287.99 340.5,288 340.61,288.01 340.73,288.02 340.85,288.02 340.97,288.03 341.09,288.04 341.21,288.04 341.32,288.05 341.44,288.05 341.56,288.06 341.68,288.06 341.8,288.06 341.92,288.07 342.03,288.07 342.15,288.07 342.27,288.08 342.39,288.08 342.51,288.08 342.62,288.08 342.74,288.08 342.86,288.08 342.98,288.09 343.1,288.09 343.22,288.09 343.33,288.09 343.45,288.09 343.57,288.09 343.69,288.09 343.81,288.09 343.93,288.09 344.04,288.09 344.16,288.09 344.28,288.09 344.4,288.09 344.52,288.09 344.64,288.09 344.75,288.09 344.87,288.09 344.99,288.09 345.11,288.09 345.23,288.09 345.34,288.09 345.46,288.09 345.58,288.09 345.7,288.09 345.82,288.09 345.94,288.09 346.05,288.09 346.17,288.09 346.29,288.09 346.41,288.09 346.53,288.09 346.65,288.09 346.76,288.09 346.88,288.09 347,288.09 347.12,288.09 347.24,288.09 347.36,288.09 347.47,288.09 347.59,288.09 347.71,288.09 347.83,288.09 347.95,288.09 348.06,288.09 348.18,288.09 348.3,288.09 348.42,288.09 348.54,288.09 348.66,288.09 348.77,288.09 348.89,288.09 349.01,288.09 349.13,288.09 349.25,288.09 349.37,288.09 349.48,288.09 349.6,288.09 349.72,288.09 350.19,288.09 351.87,288.09 353.54,288.09 355.22,288.1 356.9,288.1 358.57,288.11 360.25,288.11 361.92,288.12 363.6,288.13 365.27,288.13 366.95,288.14 368.62,288.14 370.3,288.15 371.98,288.16 373.65,288.16 375.33,288.17 377,288.18 378.68,288.18 380.35,288.19 382.03,288.19 383.7,288.2 385.38,288.21 387.05,288.21 388.73,288.22 390.41,288.23 392.08,288.23 393.76,288.24 395.43,288.25 397.11,288.25 398.78,288.26 400.46,288.27 402.13,288.27 403.81,288.28 405.49,288.28 407.16,288.29 408.84,288.3 410.51,288.3 412.19,288.31 413.86,288.32 415.54,288.32 417.21,288.33 418.89,288.34 420.57,288.34 422.24,288.35 423.92,288.35 425.59,288.36 427.27,288.37 428.94,288.37 430.62,288.38 432.29,288.39 433.97,288.39 435.65,288.4 437.32,288.41 439,288.41 440.67,288.42 442.35,288.42 444.02,288.43 445.7,288.44 447.37,288.44 449.05,288.45" fill="none" stroke="#2352b2" stroke-width="1.5" stroke-linejoin="round" />
<polyline points="47,287.99 94.3,287.99 94.3,287.99 94.42,261.87 94.54,239.54 94.65,220.44 94.77,204.12 94.89,190.17 95.01,178.24 95.13,168.05 95.25,159.33 95.36,151.89 95.48,145.52 95.6,140.09 95.72,135.44 95.84,131.48 95.96,128.09 96.07,125.2 96.19,122.73 96.31,120.63 96.43,118.83 96.55,117.3 96.67,116 96.78,114.89 96.9,113.95 97.02,113.15 97.14,112.47 97.26,111.89 97.37,111.4 97.49,110.99 97.61,110.64 97.73,110.35 97.85,110.1 97.97,109.9 98.08,109.73 98.2,109.59 98.32,109.47 98.44,109.38 98.56,109.31 98.68,109.25 98.79,109.2 98.91,109.17 99.03,109.14 99.15,109.13 99.27,109.12 99.38,109.12 99.5,109.12 99.62,109.13 99.74,109.14 99.86,109.16 99.98,109.17 100.09,109.2 100.21,109.22 100.33,109.24 100.45,109.27 100.57,109.29 100.69,109.32 100.8,109.35 100.92,109.38 101.04,109.41 101.16,109.44 101.28,109.47 101.4,109.5 101.63,109.57 102.78,109.89 103.93,110.22 105.09,110.54 106.24,110.86 107.39,111.18 108.54,111.5 109.69,111.81 110.84,112.12 112,112.43 113.15,112.74 114.3,113.04 115.45,113.34 116.6,113.64 117.75,113.93 118.91,114.23 120.06,114.52 121.21,114.81 122.36,115.09 123.51,115.37 124.66,115.65 125.82,115.93 126.97,116.21 128.12,116.48 129.27,116.75 130.42,117.02 131.57,117.29 132.72,117.55 133.88,117.81 135.03,118.07 136.18,118.33 137.33,118.58 138.48,118.84 139.63,119.09 140.79,119.34 141.94,119.58 143.09,119.83 144.24,120.07 145.39,120.31 146.54,120.55 147.7,120.78 148.85,121.02 150,121.25 151.15,121.48 152.3,121.71 153.45,121.93 154.61,122.16 155.76,122.38 156.91,122.6 158.06,122.82 159.21,123.03 160.36,123.25 161.51,123.46 162.67,123.67 163.82,123.88 164.97,124.09 166.12,124.29 167.27,124.49 168.42,124.7 169.58,124.9 170.73,125.09 171.88,125.29 173.03,125.49 174.18,125.68 175.33,125.87 176.49,126.06 177.64,126.25 178.79,126.44 179.94,126.62 181.09,126.8 182.24,126.99 183.4,127.17 184.55,127.34 185.7,127.52 186.85,127.7 188,127.87 189.15,128.04 190.3,128.22 191.46,128.39 192.61,128.55 193.76,128.72 194.91,128.89 196.06,129.05 197.21,129.21 198.37,129.37 199.52,129.53 200.67,129.69 201.82,129.85 202.97,130 204.12,130.16 205.28,130.31 206.43,130.46 207.58,130.61 208.73,130.76 209.88,130.91 211.03,131.06 212.19,131.2 213.34,131.34 214.49,131.49 215.64,131.63 216.79,131.77 217.94,131.91 219.09,132.05 220.25,132.18 221.4,132.32 222.55,132.45 223.7,132.59 224.85,132.72 226,132.85 227.16,132.98 228.31,133.11 229.46,133.23 230.61,133.36 231.76,133.49 232.91,133.61 234.07,133.73 235.22,133.86 236.37,133.98 237.52,134.1 238.67,134.22 239.82,134.33 240.98,134.45 242.13,134.57 243.28,134.68 244.43,134.79 245.58,134.91 246.73,135.02 247.88,135.13 249.04,135.24 250.19,135.35 251.34,135.46 252.49,135.56 253.64,135.67 254.79,135.78 255.95,135.88 257.1,135.98 258.25,136.09 259.4,136.19 260.55,136.29 261.7,136.39 262.86,136.49 264.01,136.59 265.16,136.68 266.31,136.78 267.46,136.88 268.61,136.97 269.77,137.07 270.92,137.16 272.07,137.25 273.22,137.34 274.37,137.43 275.52,137.52 276.67,137.61 277.83,137.7 278.98,137.79 280.13,137.88 281.28,137.96 282.43,138.05 283.58,138.13 284.74,138.22 285.89,138.3 287.04,138.38 288.19,138.47 289.34,138.55 290.49,138.63 291.65,138.71 292.8,138.79 293.95,138.87 295.1,138.94 296.25,139.02 297.4,139.1 298.56,139.17 299.71,139.25 300.86,139.32 302.01,139.4 303.16,139.47 304.31,139.54 305.46,139.61 306.62,139.69 307.77,139.76 308.92,139.83 310.07,139.9 311.22,139.96 312.37,140.03 313.53,140.1 314.68,140.17 315.83,140.23 316.98,140.3 318.13,140.37 319.28,140.43 320.44,140.5 321.59,140.56 322.74,140.62 323.89,140.68 325.04,140.75 326.19,140.81 327.35,140.87 328.5,140.93 329.65,140.99 330.8,141.05 330.8,141.05 330.82,170.29 330.85,191.39 330.87,206.67 330.92,225.87 331.04,244 331.15,249.4 331.27,252.28 331.39,254.57 331.51,256.64 331.63,258.58 331.75,260.39 331.86,262.09 331.98,263.69 332.1,265.19 332.22,266.61 332.34,267.93 332.46,269.18 332.57,270.35 332.69,271.45 332.81,272.48 332.93,273.45 333.05,274.36 333.17,275.22 333.28,276.02 333.4,276.78 333.52,277.49 333.64,278.16 333.76,278.78 333.87,279.37 333.99,279.92 334.11,280.44 334.23,280.93 334.35,281.39 334.47,281.82 334.58,282.23 334.7,282.61 334.82,282.96 334.94,283.3 335.06,283.61 335.18,283.91 335.29,284.19 335.41,284.45 335.53,284.7 335.65,284.93 335.77,285.14 335.88,285.35 336,285.54 336.12,285.72 336.24,285.89 336.36,286.05 336.48,286.2 336.59,286.34 336.71,286.47 336.83,286.59 336.95,286.71 337.07,286.82 337.19,286.92 337.3,287.01 337.42,287.1 337.54,287.18 337.66,287.25 337.78,287.32 337.9,287.39 338.01,287.45 338.13,287.51 338.25,287.56 338.37,287.61 338.49,287.66 338.6,287.7 338.72,287.75 338.84,287.79 338.96,287.82 339.08,287.86 339.2,287.89 339.31,287.92 339.43,287.95 339.55,287.98 339.67,288 339.79,288.02 339.91,288.05 340.02,288.07 340.14,288.09 340.26,288.1 340.38,288.12 340.5,288.14 340.61,288.15 340.73,288.17 340.85,288.18 340.97,288.19 341.09,288.2 341.21,288.21 341.32,288.22 341.44,288.23 341.56,288.24 341.68,288.25 341.8,288.26 341.92,288.26 342.03,288.27 342.15,288.28 342.27,288.28 342.39,288.29 342.51,288.29 342.62,288.3 342.74,288.3 342.86,288.31 342.98,288.31 343.1,288.31 343.22,288.32 343.33,288.32 343.45,288.32 343.57,288.33 343.69,288.33 343.81,288.33 343.93,288.34 344.04,288.34 344.16,288.34 344.28,288.34 344.4,288.34 344.52,288.35 344.64,288.35 344.75,288.35 344.87,288.35 344.99,288.35 345.11,288.35 345.23,288.35 345.34,288.35 345.46,288.36 345.58,288.36 345.7,288.36 345.82,288.36 345.94,288.36 346.05,288.36 346.17,288.36 346.29,288.36 346.41,288.36 346.53,288.36 346.65,288.36 346.76,288.37 346.88,288.37 347,288.37 347.12,288.37 347.24,288.37 347.36,288.37 347.47,288.37 347.59,288.37 347.71,288.37 347.83,288.37 347.95,288.37 348.06,288.37 348.18,288.37 348.3,288.37 348.42,288.37 348.54,288.37 348.66,288.37 348.77,288.37 348.89,288.37 349.01,288.37 349.13,288.37 349.25,288.37 349.37,288.38 349.48,288.38 349.6,288.38 349.72,288.38 350.19,288.38 351.87,288.38 353.54,288.39 355.22,288.39 356.9,288.4 358.57,288.41 360.25,288.41 361.92,288.42 363.6,288.42 365.27,288.43 366.95,288.44 368.62,288.44 370.3,288.45 371.98,288.46 373.65,288.46 375.33,288.47 377,288.48 378.68,288.48 380.35,288.49 382.03,288.49 383.7,288.5 385.38,288.51 387.05,288.51 388.73,288.52 390.41,288.53 392.08,288.53 393.76,288.54 395.43,288.55 397.11,288.55 398.78,288.56 400.46,288.57 402.13,288.57 403.81,288.58 405.49,288.58 407.16,288.59 408.84,288.6 410.51,288.6 412.19,288.61 413.86,288.62 415.54,288.62 417.21,288.63 418.89,288.64 420.57,288.64 422.24,288.65 423.92,288.65 425.59,288.66 427.27,288.67 428.94,288.67 430.62,288.68 432.29,288.69 433.97,288.69 435.65,288.7 437.32,288.71 439,288.71 440.67,288.72 442.35,288.72 444.02,288.73 445.7,288.74 447.37,288.74 449.05,288.75" fill="none" stroke="#3a2ea2" stroke-width="1.5" stroke-linejoin="round" />
<polyline points="47,287.99 94.3,287.99 94.3,287.99 94.42,250.51 94.54,219.18 94.65,192.99 94.77,171.1 94.89,152.81 95.01,137.53 95.13,124.77 95.25,114.1 95.36,105.2 95.48,97.76 95.6,91.55 95.72,86.38 95.84,82.06 95.96,78.46 96.07,75.46 96.19,72.96 96.31,70.89 96.43,69.16 96.55,67.73 96.67,66.55 96.78,65.57 96.9,64.76 97.02,64.1 97.14,63.56 97.26,63.11 97.37,62.75 97.49,62.46 97.61,62.23 97.73,62.05 97.85,61.91 97.97,61.8 98.08,61.73 98.2,61.67 98.32,61.64 98.44,61.62 98.56,61.62 98.68,61.63 98.79,61.65 98.91,61.67 99.03,61.7 99.15,61.74 99.27,61.79 99.38,61.83 99.5,61.89 99.62,61.94 99.74,61.99 99.86,62.05 99.98,62.11 100.09,62.17 100.21,62.23 100.33,62.29 100.45,62.36 100.57,62.42 100.69,62.48 100.8,62.55 100.92,62.61 101.04,62.68 101.16,62.74 101.28,62.81 101.4,62.87 101.63,63.01 102.78,63.64 103.93,64.27 105.09,64.89 106.24,65.5 107.39,66.11 108.54,66.7 109.69,67.29 110.84,67.87 112,68.44 113.15,69.01 114.3,69.56 115.45,70.11 116.6,70.65 117.75,71.18 118.91,71.71 120.06,72.23 121.21,72.74 122.36,73.24 123.51,73.74 124.66,74.23 125.82,74.71 126.97,75.19 128.12,75.66 129.27,76.12 130.42,76.58 131.57,77.03 132.72,77.48 133.88,77.92 135.03,78.35 136.18,78.78 137.33,79.2 138.48,79.61 139.63,80.02 140.79,80.42 141.94,80.82 143.09,81.21 144.24,81.6 145.39,81.98 146.54,82.36 147.7,82.73 148.85,83.1 150,83.46 151.15,83.81 152.3,84.16 153.45,84.51 154.61,84.85 155.76,85.19 156.91,85.52 158.06,85.85 159.21,86.17 160.36,86.49 161.51,86.8 162.67,87.11 163.82,87.42 164.97,87.72 166.12,88.02 167.27,88.31 168.42,88.6 169.58,88.89 170.73,89.17 171.88,89.44 173.03,89.72 174.18,89.99 175.33,90.25 176.49,90.51 177.64,90.77 178.79,91.03 179.94,91.28 181.09,91.53 182.24,91.77 183.4,92.01 184.55,92.25 185.7,92.49 186.85,92.72 188,92.94 189.15,93.17 190.3,93.39 191.46,93.61 192.61,93.83 193.76,94.04 194.91,94.25 196.06,94.46 197.21,94.66 198.37,94.86 199.52,95.06 200.67,95.26 201.82,95.45 202.97,95.64 204.12,95.83 205.28,96.01 206.43,96.19 207.58,96.37 208.73,96.55 209.88,96.73 211.03,96.9 212.19,97.07 213.34,97.24 214.49,97.4 215.64,97.57 216.79,97.73 217.94,97.89 219.09,98.04 220.25,98.2 221.4,98.35 222.55,98.5 223.7,98.65 224.85,98.8 226,98.94 227.16,99.08 228.31,99.22 229.46,99.36 230.61,99.5 231.76,99.63 232.91,99.76 234.07,99.89 235.22,100.02 236.37,100.15 237.52,100.28 238.67,100.4 239.82,100.52 240.98,100.64 242.13,100.76 243.28,100.88 244.43,100.99 245.58,101.11 246.73,101.22 247.88,101.33 249.04,101.44 250.19,101.55 251.34,101.65 252.49,101.76 253.64,101.86 254.79,101.96 255.95,102.06 257.1,102.16 258.25,102.26 259.4,102.36 260.55,102.45 261.7,102.54 262.86,102.64 264.01,102.73 265.16,102.82 266.31,102.91 267.46,102.99 268.61,103.08 269.77,103.16 270.92,103.25 272.07,103.33 273.22,103.41 274.37,103.49 275.52,103.57 276.67,103.65 277.83,103.73 278.98,103.8 280.13,103.88 281.28,103.95 282.43,104.02 283.58,104.1 284.74,104.17 285.89,104.24 287.04,104.31 288.19,104.37 289.34,104.44 290.49,104.51 291.65,104.57 292.8,104.64 293.95,104.7 295.1,104.76 296.25,104.82 297.4,104.89 298.56,104.95 299.71,105 300.86,105.06 302.01,105.12 303.16,105.18 304.31,105.23 305.46,105.29 306.62,105.34 307.77,105.4 308.92,105.45 310.07,105.5 311.22,105.55 312.37,105.6 313.53,105.65 314.68,105.7 315.83,105.75 316.98,105.8 318.13,105.85 319.28,105.89 320.44,105.94 321.59,105.99 322.74,106.03 323.89,106.07 325.04,106.12 326.19,106.16 327.35,106.2 328.5,106.25 329.65,106.29 330.8,106.33 330.8,106.33 330.82,144.96 330.85,172.81 330.87,192.92 330.92,218.08 331.04,241.37 331.15,247.82 331.27,250.96 331.39,253.36 331.51,255.51 331.63,257.52 331.75,259.39 331.86,261.16 331.98,262.81 332.1,264.37 332.22,265.83 332.34,267.2 332.46,268.49 332.57,269.71 332.69,270.84 332.81,271.91 332.93,272.92 333.05,273.86 333.17,274.75 333.28,275.58 333.4,276.36 333.52,277.1 333.64,277.79 333.76,278.44 333.87,279.05 333.99,279.62 334.11,280.16 334.23,280.66 334.35,281.14 334.47,281.58 334.58,282 334.7,282.4 334.82,282.77 334.94,283.11 335.06,283.44 335.18,283.75 335.29,284.04 335.41,284.31 335.53,284.56 335.65,284.8 335.77,285.02 335.88,285.24 336,285.43 336.12,285.62 336.24,285.8 336.36,285.96 336.48,286.11 336.59,286.26 336.71,286.4 336.83,286.52 336.95,286.64 337.07,286.76 337.19,286.86 337.3,286.97 337.42,287.06 337.54,287.16 337.66,287.24 337.78,287.32 337.9,287.4 338.01,287.47 338.13,287.54 338.25,287.6 338.37,287.66 338.49,287.72 338.6,287.77 338.72,287.82 338.84,287.87 338.96,287.91 339.08,287.96 339.2,287.99 339.31,288.03 339.43,288.07 339.55,288.1 339.67,288.13 339.79,288.16 339.91,288.19 340.02,288.21 340.14,288.24 340.26,288.26 340.38,288.28 340.5,288.3 340.61,288.32 340.73,288.34 340.85,288.36 340.97,288.37 341.09,288.39 341.21,288.4 341.32,288.42 341.44,288.43 341.56,288.44 341.68,288.45 341.8,288.46 341.92,288.47 342.03,288.48 342.15,288.49 342.27,288.5 342.39,288.51 342.51,288.52 342.62,288.52 342.74,288.53 342.86,288.54 342.98,288.54 343.1,288.55 343.22,288.56 343.33,288.56 343.45,288.57 343.57,288.57 343.69,288.57 343.81,288.58 343.93,288.58 344.04,288.59 344.16,288.59 344.28,288.59 344.4,288.6 344.52,288.6 344.64,288.6 344.75,288.61 344.87,288.61 344.99,288.61 345.11,288.61 345.23,288.62 345.34,288.62 345.46,288.62 345.58,288.62 345.7,288.63 345.82,288.63 345.94,288.63 346.05,288.63 346.17,288.63 346.29,288.63 346.41,288.64 346.53,288.64 346.65,288.64 346.76,288.64 346.88,288.64 347,288.64 347.12,288.64 347.24,288.65 347.36,288.65 347.47,288.65 347.59,288.65 347.71,288.65 347.83,288.65 347.95,288.65 348.06,288.65 348.18,288.65 348.3,288.66 348.42,288.66 348.54,288.66 348.66,288.66 348.77,288.66 348.89,288.66 349.01,288.66 349.13,288.66 349.25,288.66 349.37,288.66 349.48,288.66 349.6,288.66 349.72,288.67 350.19,288.67 351.87,288.68 353.54,288.68 355.22,288.69 356.9,288.7 358.57,288.71 360.25,288.71 361.92,288.72 363.6,288.72 365.27,288.73 366.95,288.74 368.62,288.74 370.3,288.75 371.98,288.76 373.65,288.76 375.33,288.77 377,288.78 378.68,288.78 380.35,288.79 382.03,288.79 383.7,288.8 385.38,288.81 387.05,288.81 388.73,288.82 390.41,288.83 392.08,288.83 393.76,288.84 395.43,288.85 397.11,288.85 398.78,288.86 400.46,288.87 402.13,288.87 403.81,288.88 405.49,288.88 407.16,288.89 408.84,288.9 410.51,288.9 412.19,288.91 413.86,288.92 415.54,288.92 417.21,288.93 418.89,288.94 420.57,288.94 422.24,288.95 423.92,288.95 425.59,288.96 427.27,288.97 428.94,288.97 430.62,288.98 432.29,288.99 433.97,288.99 435.65,289 437.32,289.01 439,289.01 440.67,289.02 442.35,289.02 444.02,289.03 445.7,289.04 447.37,289.04 449.05,289.05" fill="none" stroke="#8e16b8" stroke-width="1.5" stroke-linejoin="round" />
<polyline points="47,287.99 94.3,287.99 94.3,287.99 94.42,238.62 94.54,198.23 94.65,165.21 94.77,138.2 94.89,116.12 95.01,98.08 95.13,83.33 95.25,71.28 95.36,61.44 95.48,53.41 95.6,46.86 95.72,41.52 95.84,37.17 95.96,33.64 96.07,30.76 96.19,28.43 96.31,26.54 96.43,25.02 96.55,23.79 96.67,22.81 96.78,22.03 96.9,21.41 97.02,20.92 97.14,20.54 97.26,20.26 97.37,20.04 97.49,19.89 97.61,19.78 97.73,19.71 97.85,19.68 97.97,19.67 98.08,19.68 98.2,19.71 98.32,19.76 98.44,19.82 98.56,19.89 98.68,19.96 98.79,20.04 98.91,20.13 99.03,20.22 99.15,20.32 99.27,20.41 99.38,20.51 99.5,20.62 99.62,20.72 99.74,20.82 99.86,20.93 99.98,21.03 100.09,21.14 100.21,21.25 100.33,21.35 100.45,21.46 100.57,21.57 100.69,21.67 100.8,21.78 100.92,21.89 101.04,21.99 101.16,22.1 101.28,22.21 101.4,22.31 101.63,22.53 102.78,23.55 103.93,24.56 105.09,25.54 106.24,26.51 107.39,27.46 108.54,28.39 109.69,29.3 110.84,30.19 112,31.07 113.15,31.93 114.3,32.77 115.45,33.6 116.6,34.41 117.75,35.21 118.91,35.99 120.06,36.75 121.21,37.5 122.36,38.24 123.51,38.96 124.66,39.67 125.82,40.36 126.97,41.04 128.12,41.71 129.27,42.36 130.42,43 131.57,43.63 132.72,44.25 133.88,44.85 135.03,45.44 136.18,46.03 137.33,46.6 138.48,47.16 139.63,47.7 140.79,48.24 141.94,48.77 143.09,49.29 144.24,49.79 145.39,50.29 146.54,50.78 147.7,51.26 148.85,51.73 150,52.19 151.15,52.64 152.3,53.08 153.45,53.51 154.61,53.94 155.76,54.36 156.91,54.77 158.06,55.17 159.21,55.56 160.36,55.95 161.51,56.32 162.67,56.69 163.82,57.06 164.97,57.41 166.12,57.76 167.27,58.11 168.42,58.44 169.58,58.77 170.73,59.1 171.88,59.41 173.03,59.73 174.18,60.03 175.33,60.33 176.49,60.62 177.64,60.91 178.79,61.19 179.94,61.47 181.09,61.74 182.24,62.01 183.4,62.27 184.55,62.52 185.7,62.77 186.85,63.02 188,63.26 189.15,63.5 190.3,63.73 191.46,63.96 192.61,64.18 193.76,64.4 194.91,64.61 196.06,64.82 197.21,65.03 198.37,65.23 199.52,65.43 200.67,65.63 201.82,65.82 202.97,66 204.12,66.19 205.28,66.37 206.43,66.54 207.58,66.72 208.73,66.89 209.88,67.05 211.03,67.22 212.19,67.38 213.34,67.53 214.49,67.69 215.64,67.84 216.79,67.99 217.94,68.13 219.09,68.27 220.25,68.41 221.4,68.55 222.55,68.68 223.7,68.82 224.85,68.94 226,69.07 227.16,69.19 228.31,69.32 229.46,69.44 230.61,69.55 231.76,69.67 232.91,69.78 234.07,69.89 235.22,70 236.37,70.1 237.52,70.21 238.67,70.31 239.82,70.41 240.98,70.51 242.13,70.61 243.28,70.7 244.43,70.79 245.58,70.88 246.73,70.97 247.88,71.06 249.04,71.14 250.19,71.23 251.34,71.31 252.49,71.39 253.64,71.47 254.79,71.55 255.95,71.62 257.1,71.7 258.25,71.77 259.4,71.84 260.55,71.91 261.7,71.98 262.86,72.05 264.01,72.12 265.16,72.18 266.31,72.25 267.46,72.31 268.61,72.37 269.77,72.43 270.92,72.49 272.07,72.55 273.22,72.6 274.37,72.66 275.52,72.71 276.67,72.77 277.83,72.82 278.98,72.87 280.13,72.92 281.28,72.97 282.43,73.02 283.58,73.07 284.74,73.11 285.89,73.16 287.04,73.21 288.19,73.25 289.34,73.29 290.49,73.33 291.65,73.38 292.8,73.42 293.95,73.46 295.1,73.5 296.25,73.53 297.4,73.57 298.56,73.61 299.71,73.64 300.86,73.68 302.01,73.72 303.16,73.75 304.31,73.78 305.46,73.82 306.62,73.85 307.77,73.88 308.92,73.91 310.07,73.94 311.22,73.97 312.37,74 313.53,74.03 314.68,74.06 315.83,74.08 316.98,74.11 318.13,74.14 319.28,74.16 320.44,74.19 321.59,74.21 322.74,74.24 323.89,74.26 325.04,74.29 326.19,74.31 327.35,74.33 328.5,74.35 329.65,74.38 330.8,74.4 330.8,74.4 330.82,121.73 330.85,155.81 330.87,180.39 330.92,211.06 331.04,239.12 331.15,246.52 331.27,249.9 331.39,252.39 331.51,254.61 331.63,256.67 331.75,258.6 331.86,260.41 331.98,262.11 332.1,263.71 332.22,265.21 332.34,266.62 332.46,267.95 332.57,269.19 332.69,270.36 332.81,271.46 332.93,272.49 333.05,273.46 333.17,274.37 333.28,275.23 333.4,276.03 333.52,276.79 333.64,277.5 333.76,278.16 333.87,278.79 333.99,279.38 334.11,279.93 334.23,280.45 334.35,280.94 334.47,281.4 334.58,281.83 334.7,282.23 334.82,282.61 334.94,282.97 335.06,283.3 335.18,283.62 335.29,283.91 335.41,284.19 335.53,284.45 335.65,284.7 335.77,284.93 335.88,285.15 336,285.35 336.12,285.54 336.24,285.72 336.36,285.89 336.48,286.05 336.59,286.2 336.71,286.34 336.83,286.47 336.95,286.59 337.07,286.71 337.19,286.82 337.3,286.94 337.42,287.05 337.54,287.15 337.66,287.25 337.78,287.35 337.9,287.44 338.01,287.52 338.13,287.6 338.25,287.68 338.37,287.75 338.49,287.81 338.6,287.88 338.72,287.94 338.84,287.99 338.96,288.05 339.08,288.1 339.2,288.14 339.31,288.19 339.43,288.23 339.55,288.27 339.67,288.31 339.79,288.35 339.91,288.38 340.02,288.41 340.14,288.44 340.26,288.47 340.38,288.5 340.5,288.53 340.61,288.55 340.73,288.58 340.85,288.6 340.97,288.62 341.09,288.64 341.21,288.66 341.32,288.68 341.44,288.69 341.56,288.71 341.68,288.73 341.8,288.74 341.92,288.75 342.03,288.77 342.15,288.78 342.27,288.79 342.39,288.8 342.51,288.82 342.62,288.83 342.74,288.84 342.86,288.85 342.98,288.86 343.1,288.86 343.22,288.87 343.33,288.88 343.45,288.89 343.57,288.89 343.69,288.9 343.81,288.91 343.93,288.91 344.04,288.92 344.16,288.93 344.28,288.93 344.4,288.94 344.52,288.94 344.64,288.95 344.75,288.95 344.87,288.96 344.99,288.96 345.11,288.96 345.23,288.97 345.34,288.97 345.46,288.98 345.58,288.98 345.7,288.98 345.82,288.99 345.94,288.99 346.05,288.99 346.17,289 346.29,289 346.41,289 346.53,289 346.65,289.01 346.76,289.01 346.88,289.01 347,289.01 347.12,289.02 347.24,289.02 347.36,289.02 347.47,289.02 347.59,289.02 347.71,289.03 347.83,289.03 347.95,289.03 348.06,289.03 348.18,289.03 348.3,289.03 348.42,289.04 348.54,289.04 348.66,289.04 348.77,289.04 348.89,289.04 349.01,289.04 349.13,289.04 349.25,289.05 349.37,289.05 349.48,289.05 349.6,289.05 349.72,289.05 350.19,289.06 351.87,289.07 353.54,289.08 355.22,289.09 356.9,289.1 358.57,289.1 360.25,289.11 361.92,289.12 363.6,289.12 365.27,289.13 366.95,289.14 368.62,289.14 370.3,289.15 371.98,289.16 373.65,289.16 375.33,289.17 377,289.18 378.68,289.18 380.35,289.19 382.03,289.19 383.7,289.2 385.38,289.21 387.05,289.21 388.73,289.22 390.41,289.23 392.08,289.23 393.76,289.24 395.43,289.25 397.11,289.25 398.78,289.26 400.46,289.27 402.13,289.27 403.81,289.28 405.49,289.28 407.16,289.29 408.84,289.3 410.51,289.3 412.19,289.31 413.86,289.32 415.54,289.32 417.21,289.33 418.89,289.34 420.57,289.34 422.24,289.35 423.92,289.35 425.59,289.36 427.27,289.37 428.94,289.37 430.62,289.38 432.29,289.39 433.97,289.39 435.65,289.4 437.32,289.41 439,289.41 440.67,289.42 442.35,289.42 444.02,289.43 445.7,289.44 447.37,289.44 449.05,289.45" fill="none" stroke="#c8107c" stroke-width="1.5" stroke-linejoin="round" />
<line x1="47" y1="0" x2="47" y2="329.8" stroke="#000" stroke-width="1.6" stroke-linecap="butt"/>
<line x1="46.2" y1="329.6" x2="449.2" y2="329.6" stroke="#000" stroke-width="1.6" stroke-linecap="butt"/>
<line x1="47" y1="296.2" x2="52.5" y2="296.2" stroke="#000" stroke-width="1.1" stroke-linecap="butt"/>
<text x="33.06" y="300.02" font-size="14" font-weight="normal">0</text>
<line x1="47" y1="230.5" x2="52.5" y2="230.5" stroke="#000" stroke-width="1.1" stroke-linecap="butt"/>
<text x="33.22" y="234.39" font-size="14" font-weight="normal">2</text>
<line x1="47" y1="164.8" x2="52.5" y2="164.8" stroke="#000" stroke-width="1.1" stroke-linecap="butt"/>
<text x="32.92" y="168.62" font-size="14" font-weight="normal">4</text>
<line x1="47" y1="99.1" x2="52.5" y2="99.1" stroke="#000" stroke-width="1.1" stroke-linecap="butt"/>
<text x="33.13" y="102.92" font-size="14" font-weight="normal">6</text>
<line x1="47" y1="33.4" x2="52.5" y2="33.4" stroke="#000" stroke-width="1.1" stroke-linecap="butt"/>
<text x="33.12" y="37.22" font-size="14" font-weight="normal">8</text>
<text x="43.11" y="344.77" font-size="14" font-weight="normal">0</text>
<line x1="94.3" y1="329.6" x2="94.3" y2="323.8" stroke="#000" stroke-width="1.1" stroke-linecap="butt"/>
<text x="86.44" y="344.77" font-size="14" font-weight="normal">20</text>
<line x1="141.6" y1="329.6" x2="141.6" y2="323.8" stroke="#000" stroke-width="1.1" stroke-linecap="butt"/>
<text x="133.93" y="344.77" font-size="14" font-weight="normal">40</text>
<line x1="188.9" y1="329.6" x2="188.9" y2="323.8" stroke="#000" stroke-width="1.1" stroke-linecap="butt"/>
<text x="181.03" y="344.77" font-size="14" font-weight="normal">60</text>
<line x1="236.2" y1="329.6" x2="236.2" y2="323.8" stroke="#000" stroke-width="1.1" stroke-linecap="butt"/>
<text x="228.38" y="344.77" font-size="14" font-weight="normal">80</text>
<line x1="283.5" y1="329.6" x2="283.5" y2="323.8" stroke="#000" stroke-width="1.1" stroke-linecap="butt"/>
<text x="271.56" y="344.77" font-size="14" font-weight="normal">100</text>
<line x1="330.8" y1="329.6" x2="330.8" y2="323.8" stroke="#000" stroke-width="1.1" stroke-linecap="butt"/>
<text x="318.86" y="344.77" font-size="14" font-weight="normal">120</text>
<line x1="378.1" y1="329.6" x2="378.1" y2="323.8" stroke="#000" stroke-width="1.1" stroke-linecap="butt"/>
<text x="366.16" y="344.77" font-size="14" font-weight="normal">140</text>
<line x1="425.4" y1="329.6" x2="425.4" y2="323.8" stroke="#000" stroke-width="1.1" stroke-linecap="butt"/>
<text x="413.46" y="344.77" font-size="14" font-weight="normal">160</text>
<text x="0" y="0" font-size="15.4" font-weight="normal" transform="translate(13.89,184.36) rotate(-90)">I (nA)</text>
<text x="1.12" y="11.93" font-size="16" font-weight="bold">a</text>
<polyline points="47,418.06 94.3,418.06 94.3,418.06 94.42,418.38 94.54,418.68 94.65,418.95 94.77,419.21 94.89,419.46 95.01,419.68 95.13,419.89 95.25,420.09 95.36,420.27 95.48,420.44 95.6,420.59 95.72,420.74 95.84,420.88 95.96,421 96.07,421.12 96.19,421.23 96.31,421.33 96.43,421.43 96.55,421.52 96.67,421.6 96.78,421.68 96.9,421.75 97.02,421.82 97.14,421.88 97.26,421.94 97.37,421.99 97.49,422.04 97.61,422.09 97.73,422.13 97.85,422.17 97.97,422.21 98.08,422.24 98.2,422.28 98.32,422.31 98.44,422.34 98.56,422.36 98.68,422.39 98.79,422.41 98.91,422.43 99.03,422.45 99.15,422.47 99.27,422.49 99.38,422.5 99.5,422.52 99.62,422.53 99.74,422.54 99.86,422.56 99.98,422.57 100.09,422.58 100.21,422.59 100.33,422.6 100.45,422.6 100.57,422.61 100.69,422.62 100.8,422.63 100.92,422.63 101.04,422.64 101.16,422.64 101.28,422.65 101.4,422.65 101.63,422.66 102.78,422.69 103.93,422.7 105.09,422.71 106.24,422.71 107.39,422.72 108.54,422.72 109.69,422.72 110.84,422.72 112,422.72 113.15,422.72 114.3,422.72 115.45,422.72 116.6,422.72 117.75,422.72 118.91,422.72 120.06,422.72 121.21,422.72 122.36,422.72 123.51,422.72 124.66,422.72 125.82,422.72 126.97,422.72 128.12,422.72 129.27,422.72 130.42,422.72 131.57,422.72 132.72,422.72 133.88,422.72 135.03,422.72 136.18,422.72 137.33,422.72 138.48,422.72 139.63,422.72 140.79,422.72 141.94,422.72 143.09,422.72 144.24,422.72 145.39,422.72 146.54,422.72 147.7,422.72 148.85,422.72 150,422.72 151.15,422.72 152.3,422.72 153.45,422.72 154.61,422.72 155.76,422.72 156.91,422.72 158.06,422.72 159.21,422.72 160.36,422.72 161.51,422.72 162.67,422.72 163.82,422.72 164.97,422.72 166.12,422.72 167.27,422.72 168.42,422.72 169.58,422.72 170.73,422.72 171.88,422.72 173.03,422.72 174.18,422.72 175.33,422.72 176.49,422.72 177.64,422.72 178.79,422.72 179.94,422.72 181.09,422.72 182.24,422.72 183.4,422.72 184.55,422.72 185.7,422.72 186.85,422.72 188,422.72 189.15,422.72 190.3,422.72 191.46,422.72 192.61,422.72 193.76,422.72 194.91,422.72 196.06,422.72 197.21,422.72 198.37,422.72 199.52,422.72 200.67,422.72 201.82,422.72 202.97,422.72 204.12,422.72 205.28,422.72 206.43,422.72 207.58,422.72 208.73,422.72 209.88,422.72 211.03,422.72 212.19,422.72 213.34,422.72 214.49,422.72 215.64,422.72 216.79,422.72 217.94,422.72 219.09,422.72 220.25,422.72 221.4,422.72 222.55,422.72 223.7,422.72 224.85,422.72 226,422.72 227.16,422.72 228.31,422.72 229.46,422.72 230.61,422.72 231.76,422.72 232.91,422.72 234.07,422.72 235.22,422.72 236.37,422.72 237.52,422.72 238.67,422.72 239.82,422.72 240.98,422.72 242.13,422.72 243.28,422.72 244.43,422.72 245.58,422.72 246.73,422.72 247.88,422.72 249.04,422.72 250.19,422.72 251.34,422.72 252.49,422.72 253.64,422.72 254.79,422.72 255.95,422.72 257.1,422.72 258.25,422.72 259.4,422.72 260.55,422.72 261.7,422.72 262.86,422.72 264.01,422.72 265.16,422.72 266.31,422.72 267.46,422.72 268.61,422.72 269.77,422.72 270.92,422.72 272.07,422.72 273.22,422.72 274.37,422.72 275.52,422.72 276.67,422.72 277.83,422.72 278.98,422.72 280.13,422.72 281.28,422.72 282.43,422.72 283.58,422.72 284.74,422.72 285.89,422.72 287.04,422.72 288.19,422.72 289.34,422.72 290.49,422.72 291.65,422.72 292.8,422.72 293.95,422.72 295.1,422.72 296.25,422.72 297.4,422.72 298.56,422.72 299.71,422.72 300.86,422.72 302.01,422.72 303.16,422.72 304.31,422.72 305.46,422.72 306.62,422.72 307.77,422.72 308.92,422.72 310.07,422.72 311.22,422.72 312.37,422.72 313.53,422.72 314.68,422.72 315.83,422.72 316.98,422.72 318.13,422.72 319.28,422.72 320.44,422.72 321.59,422.72 322.74,422.72 323.89,422.72 325.04,422.72 326.19,422.72 327.35,422.72 328.5,422.72 329.65,422.72 330.8,422.72 330.8,422.72 331.04,422.6 331.27,422.07 331.51,421.6 331.75,421.18 331.98,420.81 332.22,420.49 332.46,420.2 332.69,419.95 332.93,419.73 333.17,419.53 333.4,419.36 333.64,419.21 333.87,419.07 334.11,418.95 334.35,418.85 334.58,418.75 334.82,418.67 335.06,418.6 335.29,418.53 335.53,418.48 335.77,418.29 336,418.12 336.24,417.95 336.48,417.81 336.71,417.67 336.95,417.54 337.19,417.42 337.42,417.31 337.66,417.21 337.9,417.11 338.13,417.02 338.37,416.94 338.6,416.86 338.84,416.79 339.08,416.73 339.31,416.67 339.55,416.61 339.79,416.55 340.02,416.5 340.26,416.46 340.5,416.41 340.73,416.37 340.97,416.33 341.21,416.3 341.44,416.26 341.68,416.23 341.92,416.2 342.15,416.18 342.39,416.15 342.62,416.13 342.86,416.1 343.1,416.08 343.33,416.06 343.57,416.04 343.81,416.03 344.04,416.01 344.28,416 344.52,415.98 344.75,415.97 344.99,415.96 345.46,415.93 347.58,415.86 349.69,415.82 351.81,415.8 353.92,415.78 356.03,415.78 358.15,415.77 360.26,415.77 362.38,415.77 364.49,415.77 366.6,415.77 368.72,415.77 370.83,415.77 372.95,415.77 375.06,415.77 377.17,415.77 379.29,415.77 381.4,415.77 383.52,415.77 385.63,415.77 387.74,415.77 389.86,415.77 391.97,415.77 394.09,415.77 396.2,415.77 398.31,415.77 400.43,415.77 402.54,415.77 404.66,415.77 406.77,415.77 408.88,415.77 411,415.77 413.11,415.77 415.23,415.77 417.34,415.77 419.45,415.77 421.57,415.77 423.68,415.77 425.8,415.77 427.91,415.77 430.02,415.77 432.14,415.77 434.25,415.77 436.37,415.77 438.48,415.77 440.59,415.77 442.71,415.77 444.82,415.77 446.94,415.77 449.05,415.77" fill="none" stroke="#e0262a" stroke-width="1.5" stroke-linejoin="round" />
<polyline points="47,418.06 94.3,418.06 94.3,418.06 94.42,418.37 94.54,418.67 94.65,418.94 94.77,419.19 94.89,419.43 95.01,419.65 95.13,419.86 95.25,420.05 95.36,420.23 95.48,420.39 95.6,420.55 95.72,420.69 95.84,420.83 95.96,420.95 96.07,421.07 96.19,421.18 96.31,421.28 96.43,421.37 96.55,421.46 96.67,421.54 96.78,421.61 96.9,421.68 97.02,421.75 97.14,421.81 97.26,421.87 97.37,421.92 97.49,421.97 97.61,422.02 97.73,422.06 97.85,422.1 97.97,422.14 98.08,422.17 98.2,422.2 98.32,422.23 98.44,422.26 98.56,422.29 98.68,422.31 98.79,422.33 98.91,422.35 99.03,422.37 99.15,422.39 99.27,422.41 99.38,422.42 99.5,422.44 99.62,422.45 99.74,422.47 99.86,422.48 99.98,422.49 100.09,422.5 100.21,422.51 100.33,422.52 100.45,422.52 100.57,422.53 100.69,422.54 100.8,422.55 100.92,422.55 101.04,422.56 101.16,422.56 101.28,422.57 101.4,422.57 101.63,422.58 102.78,422.61 103.93,422.62 105.09,422.63 106.24,422.63 107.39,422.63 108.54,422.64 109.69,422.64 110.84,422.64 112,422.64 113.15,422.64 114.3,422.64 115.45,422.64 116.6,422.64 117.75,422.64 118.91,422.64 120.06,422.64 121.21,422.64 122.36,422.64 123.51,422.64 124.66,422.64 125.82,422.64 126.97,422.64 128.12,422.64 129.27,422.64 130.42,422.64 131.57,422.64 132.72,422.64 133.88,422.64 135.03,422.64 136.18,422.64 137.33,422.64 138.48,422.64 139.63,422.64 140.79,422.64 141.94,422.64 143.09,422.64 144.24,422.64 145.39,422.64 146.54,422.64 147.7,422.64 148.85,422.64 150,422.64 151.15,422.64 152.3,422.64 153.45,422.64 154.61,422.64 155.76,422.64 156.91,422.64 158.06,422.64 159.21,422.64 160.36,422.64 161.51,422.64 162.67,422.64 163.82,422.64 164.97,422.64 166.12,422.64 167.27,422.64 168.42,422.64 169.58,422.64 170.73,422.64 171.88,422.64 173.03,422.64 174.18,422.64 175.33,422.64 176.49,422.64 177.64,422.64 178.79,422.64 179.94,422.64 181.09,422.64 182.24,422.64 183.4,422.64 184.55,422.64 185.7,422.64 186.85,422.64 188,422.64 189.15,422.64 190.3,422.64 191.46,422.64 192.61,422.64 193.76,422.64 194.91,422.64 196.06,422.64 197.21,422.64 198.37,422.64 199.52,422.64 200.67,422.64 201.82,422.64 202.97,422.64 204.12,422.64 205.28,422.64 206.43,422.64 207.58,422.64 208.73,422.64 209.88,422.64 211.03,422.64 212.19,422.64 213.34,422.64 214.49,422.64 215.64,422.64 216.79,422.64 217.94,422.64 219.09,422.64 220.25,422.64 221.4,422.64 222.55,422.64 223.7,422.64 224.85,422.64 226,422.64 227.16,422.64 228.31,422.64 229.46,422.64 230.61,422.64 231.76,422.64 232.91,422.64 234.07,422.64 235.22,422.64 236.37,422.64 237.52,422.64 238.67,422.64 239.82,422.64 240.98,422.64 242.13,422.64 243.28,422.64 244.43,422.64 245.58,422.64 246.73,422.64 247.88,422.64 249.04,422.64 250.19,422.64 251.34,422.64 252.49,422.64 253.64,422.64 254.79,422.64 255.95,422.64 257.1,422.64 258.25,422.64 259.4,422.64 260.55,422.64 261.7,422.64 262.86,422.64 264.01,422.64 265.16,422.64 266.31,422.64 267.46,422.64 268.61,422.64 269.77,422.64 270.92,422.64 272.07,422.64 273.22,422.64 274.37,422.64 275.52,422.64 276.67,422.64 277.83,422.64 278.98,422.64 280.13,422.64 281.28,422.64 282.43,422.64 283.58,422.64 284.74,422.64 285.89,422.64 287.04,422.64 288.19,422.64 289.34,422.64 290.49,422.64 291.65,422.64 292.8,422.64 293.95,422.64 295.1,422.64 296.25,422.64 297.4,422.64 298.56,422.64 299.71,422.64 300.86,422.64 302.01,422.64 303.16,422.64 304.31,422.64 305.46,422.64 306.62,422.64 307.77,422.64 308.92,422.64 310.07,422.64 311.22,422.64 312.37,422.64 313.53,422.64 314.68,422.64 315.83,422.64 316.98,422.64 318.13,422.64 319.28,422.64 320.44,422.64 321.59,422.64 322.74,422.64 323.89,422.64 325.04,422.64 326.19,422.64 327.35,422.64 328.5,422.64 329.65,422.64 330.8,422.64 330.8,422.64 331.04,422.52 331.27,422 331.51,421.54 331.75,421.13 331.98,420.77 332.22,420.45 332.46,420.17 332.69,419.92 332.93,419.7 333.17,419.51 333.4,419.34 333.64,419.19 333.87,419.05 334.11,418.94 334.35,418.83 334.58,418.74 334.82,418.66 335.06,418.59 335.29,418.53 335.53,418.47 335.77,418.31 336,418.17 336.24,418.03 336.48,417.91 336.71,417.8 336.95,417.69 337.19,417.59 337.42,417.5 337.66,417.42 337.9,417.34 338.13,417.27 338.37,417.2 338.6,417.14 338.84,417.08 339.08,417.02 339.31,416.97 339.55,416.93 339.79,416.88 340.02,416.84 340.26,416.81 340.5,416.77 340.73,416.74 340.97,416.71 341.21,416.68 341.44,416.65 341.68,416.63 341.92,416.6 342.15,416.58 342.39,416.56 342.62,416.54 342.86,416.52 343.1,416.51 343.33,416.49 343.57,416.48 343.81,416.46 344.04,416.45 344.28,416.44 344.52,416.43 344.75,416.42 344.99,416.41 345.46,416.39 347.58,416.33 349.69,416.3 351.81,416.28 353.92,416.27 356.03,416.26 358.15,416.26 360.26,416.26 362.38,416.26 364.49,416.26 366.6,416.26 368.72,416.26 370.83,416.26 372.95,416.26 375.06,416.26 377.17,416.26 379.29,416.26 381.4,416.26 383.52,416.26 385.63,416.26 387.74,416.26 389.86,416.26 391.97,416.26 394.09,416.26 396.2,416.26 398.31,416.26 400.43,416.26 402.54,416.26 404.66,416.26 406.77,416.26 408.88,416.26 411,416.26 413.11,416.26 415.23,416.26 417.34,416.26 419.45,416.26 421.57,416.26 423.68,416.26 425.8,416.26 427.91,416.26 430.02,416.26 432.14,416.26 434.25,416.26 436.37,416.26 438.48,416.26 440.59,416.26 442.71,416.26 444.82,416.26 446.94,416.26 449.05,416.26" fill="none" stroke="#e08a22" stroke-width="1.5" stroke-linejoin="round" />
<polyline points="47,418.06 94.3,418.06 94.3,418.06 94.42,418.35 94.54,418.63 94.65,418.89 94.77,419.13 94.89,419.36 95.01,419.57 95.13,419.76 95.25,419.94 95.36,420.11 95.48,420.27 95.6,420.41 95.72,420.55 95.84,420.68 95.96,420.8 96.07,420.91 96.19,421.01 96.31,421.1 96.43,421.19 96.55,421.28 96.67,421.35 96.78,421.42 96.9,421.49 97.02,421.55 97.14,421.61 97.26,421.66 97.37,421.71 97.49,421.76 97.61,421.8 97.73,421.84 97.85,421.88 97.97,421.92 98.08,421.95 98.2,421.98 98.32,422.01 98.44,422.04 98.56,422.06 98.68,422.08 98.79,422.1 98.91,422.12 99.03,422.14 99.15,422.16 99.27,422.18 99.38,422.19 99.5,422.2 99.62,422.22 99.74,422.23 99.86,422.24 99.98,422.25 100.09,422.26 100.21,422.27 100.33,422.28 100.45,422.29 100.57,422.29 100.69,422.3 100.8,422.31 100.92,422.31 101.04,422.32 101.16,422.32 101.28,422.33 101.4,422.33 101.63,422.34 102.78,422.37 103.93,422.38 105.09,422.38 106.24,422.39 107.39,422.39 108.54,422.39 109.69,422.39 110.84,422.39 112,422.39 113.15,422.39 114.3,422.39 115.45,422.39 116.6,422.39 117.75,422.39 118.91,422.39 120.06,422.39 121.21,422.39 122.36,422.39 123.51,422.39 124.66,422.39 125.82,422.39 126.97,422.39 128.12,422.39 129.27,422.39 130.42,422.39 131.57,422.39 132.72,422.39 133.88,422.39 135.03,422.39 136.18,422.39 137.33,422.39 138.48,422.39 139.63,422.39 140.79,422.39 141.94,422.39 143.09,422.39 144.24,422.39 145.39,422.39 146.54,422.39 147.7,422.39 148.85,422.39 150,422.39 151.15,422.39 152.3,422.39 153.45,422.39 154.61,422.39 155.76,422.39 156.91,422.39 158.06,422.39 159.21,422.39 160.36,422.39 161.51,422.39 162.67,422.39 163.82,422.39 164.97,422.39 166.12,422.39 167.27,422.39 168.42,422.39 169.58,422.39 170.73,422.39 171.88,422.39 173.03,422.39 174.18,422.39 175.33,422.39 176.49,422.39 177.64,422.39 178.79,422.39 179.94,422.39 181.09,422.39 182.24,422.39 183.4,422.39 184.55,422.39 185.7,422.39 186.85,422.39 188,422.39 189.15,422.39 190.3,422.39 191.46,422.39 192.61,422.39 193.76,422.39 194.91,422.39 196.06,422.39 197.21,422.39 198.37,422.39 199.52,422.39 200.67,422.39 201.82,422.39 202.97,422.39 204.12,422.39 205.28,422.39 206.43,422.39 207.58,422.39 208.73,422.39 209.88,422.39 211.03,422.39 212.19,422.39 213.34,422.39 214.49,422.39 215.64,422.39 216.79,422.39 217.94,422.39 219.09,422.39 220.25,422.39 221.4,422.39 222.55,422.39 223.7,422.39 224.85,422.39 226,422.39 227.16,422.39 228.31,422.39 229.46,422.39 230.61,422.39 231.76,422.39 232.91,422.39 234.07,422.39 235.22,422.39 236.37,422.39 237.52,422.39 238.67,422.39 239.82,422.39 240.98,422.39 242.13,422.39 243.28,422.39 244.43,422.39 245.58,422.39 246.73,422.39 247.88,422.39 249.04,422.39 250.19,422.39 251.34,422.39 252.49,422.39 253.64,422.39 254.79,422.39 255.95,422.39 257.1,422.39 258.25,422.39 259.4,422.39 260.55,422.39 261.7,422.39 262.86,422.39 264.01,422.39 265.16,422.39 266.31,422.39 267.46,422.39 268.61,422.39 269.77,422.39 270.92,422.39 272.07,422.39 273.22,422.39 274.37,422.39 275.52,422.39 276.67,422.39 277.83,422.39 278.98,422.39 280.13,422.39 281.28,422.39 282.43,422.39 283.58,422.39 284.74,422.39 285.89,422.39 287.04,422.39 288.19,422.39 289.34,422.39 290.49,422.39 291.65,422.39 292.8,422.39 293.95,422.39 295.1,422.39 296.25,422.39 297.4,422.39 298.56,422.39 299.71,422.39 300.86,422.39 302.01,422.39 303.16,422.39 304.31,422.39 305.46,422.39 306.62,422.39 307.77,422.39 308.92,422.39 310.07,422.39 311.22,422.39 312.37,422.39 313.53,422.39 314.68,422.39 315.83,422.39 316.98,422.39 318.13,422.39 319.28,422.39 320.44,422.39 321.59,422.39 322.74,422.39 323.89,422.39 325.04,422.39 326.19,422.39 327.35,422.39 328.5,422.39 329.65,422.39 330.8,422.39 330.8,422.39 331.04,422.28 331.27,421.79 331.51,421.35 331.75,420.96 331.98,420.62 332.22,420.32 332.46,420.05 332.69,419.82 332.93,419.61 333.17,419.43 333.4,419.27 333.64,419.12 333.87,419 334.11,418.89 334.35,418.79 334.58,418.7 334.82,418.63 335.06,418.56 335.29,418.5 335.53,418.45 335.77,418.32 336,418.2 336.24,418.09 336.48,417.99 336.71,417.89 336.95,417.81 337.19,417.73 337.42,417.65 337.66,417.59 337.9,417.52 338.13,417.46 338.37,417.41 338.6,417.36 338.84,417.31 339.08,417.27 339.31,417.23 339.55,417.19 339.79,417.16 340.02,417.13 340.26,417.1 340.5,417.07 340.73,417.04 340.97,417.02 341.21,416.99 341.44,416.97 341.68,416.95 341.92,416.94 342.15,416.92 342.39,416.9 342.62,416.89 342.86,416.87 343.1,416.86 343.33,416.85 343.57,416.84 343.81,416.83 344.04,416.82 344.28,416.81 344.52,416.8 344.75,416.79 344.99,416.78 345.46,416.77 347.58,416.72 349.69,416.7 351.81,416.68 353.92,416.68 356.03,416.67 358.15,416.67 360.26,416.67 362.38,416.67 364.49,416.67 366.6,416.67 368.72,416.67 370.83,416.67 372.95,416.67 375.06,416.67 377.17,416.67 379.29,416.67 381.4,416.67 383.52,416.67 385.63,416.67 387.74,416.67 389.86,416.67 391.97,416.67 394.09,416.67 396.2,416.67 398.31,416.67 400.43,416.67 402.54,416.67 404.66,416.67 406.77,416.67 408.88,416.67 411,416.67 413.11,416.67 415.23,416.67 417.34,416.67 419.45,416.67 421.57,416.67 423.68,416.67 425.8,416.67 427.91,416.67 430.02,416.67 432.14,416.67 434.25,416.67 436.37,416.67 438.48,416.67 440.59,416.67 442.71,416.67 444.82,416.67 446.94,416.67 449.05,416.67" fill="none" stroke="#a2c80a" stroke-width="1.5" stroke-linejoin="round" />
<polyline points="47,418.06 94.3,418.06 94.3,418.06 94.42,418.27 94.54,418.47 94.65,418.66 94.77,418.83 94.89,418.99 95.01,419.14 95.13,419.28 95.25,419.41 95.36,419.53 95.48,419.64 95.6,419.75 95.72,419.84 95.84,419.94 95.96,420.02 96.07,420.1 96.19,420.17 96.31,420.24 96.43,420.3 96.55,420.36 96.67,420.42 96.78,420.47 96.9,420.52 97.02,420.56 97.14,420.6 97.26,420.64 97.37,420.68 97.49,420.71 97.61,420.74 97.73,420.77 97.85,420.8 97.97,420.82 98.08,420.85 98.2,420.87 98.32,420.89 98.44,420.91 98.56,420.93 98.68,420.94 98.79,420.96 98.91,420.97 99.03,420.99 99.15,421 99.27,421.01 99.38,421.02 99.5,421.03 99.62,421.04 99.74,421.05 99.86,421.06 99.98,421.06 100.09,421.07 100.21,421.08 100.33,421.08 100.45,421.09 100.57,421.09 100.69,421.1 100.8,421.1 100.92,421.11 101.04,421.11 101.16,421.11 101.28,421.12 101.4,421.12 101.63,421.13 102.78,421.15 103.93,421.15 105.09,421.16 106.24,421.16 107.39,421.16 108.54,421.16 109.69,421.16 110.84,421.16 112,421.16 113.15,421.16 114.3,421.16 115.45,421.16 116.6,421.16 117.75,421.16 118.91,421.16 120.06,421.16 121.21,421.16 122.36,421.16 123.51,421.16 124.66,421.16 125.82,421.16 126.97,421.16 128.12,421.16 129.27,421.16 130.42,421.16 131.57,421.16 132.72,421.16 133.88,421.16 135.03,421.16 136.18,421.16 137.33,421.16 138.48,421.16 139.63,421.16 140.79,421.16 141.94,421.16 143.09,421.16 144.24,421.16 145.39,421.16 146.54,421.16 147.7,421.16 148.85,421.16 150,421.16 151.15,421.16 152.3,421.16 153.45,421.16 154.61,421.16 155.76,421.16 156.91,421.16 158.06,421.16 159.21,421.16 160.36,421.16 161.51,421.16 162.67,421.16 163.82,421.16 164.97,421.16 166.12,421.16 167.27,421.16 168.42,421.16 169.58,421.16 170.73,421.16 171.88,421.16 173.03,421.16 174.18,421.16 175.33,421.16 176.49,421.16 177.64,421.16 178.79,421.16 179.94,421.16 181.09,421.16 182.24,421.16 183.4,421.16 184.55,421.16 185.7,421.16 186.85,421.16 188,421.16 189.15,421.16 190.3,421.16 191.46,421.16 192.61,421.16 193.76,421.16 194.91,421.16 196.06,421.16 197.21,421.16 198.37,421.16 199.52,421.16 200.67,421.16 201.82,421.16 202.97,421.16 204.12,421.16 205.28,421.16 206.43,421.16 207.58,421.16 208.73,421.16 209.88,421.16 211.03,421.16 212.19,421.16 213.34,421.16 214.49,421.16 215.64,421.16 216.79,421.16 217.94,421.16 219.09,421.16 220.25,421.16 221.4,421.16 222.55,421.16 223.7,421.16 224.85,421.16 226,421.16 227.16,421.16 228.31,421.16 229.46,421.16 230.61,421.16 231.76,421.16 232.91,421.16 234.07,421.16 235.22,421.16 236.37,421.16 237.52,421.16 238.67,421.16 239.82,421.16 240.98,421.16 242.13,421.16 243.28,421.16 244.43,421.16 245.58,421.16 246.73,421.16 247.88,421.16 249.04,421.16 250.19,421.16 251.34,421.16 252.49,421.16 253.64,421.16 254.79,421.16 255.95,421.16 257.1,421.16 258.25,421.16 259.4,421.16 260.55,421.16 261.7,421.16 262.86,421.16 264.01,421.16 265.16,421.16 266.31,421.16 267.46,421.16 268.61,421.16 269.77,421.16 270.92,421.16 272.07,421.16 273.22,421.16 274.37,421.16 275.52,421.16 276.67,421.16 277.83,421.16 278.98,421.16 280.13,421.16 281.28,421.16 282.43,421.16 283.58,421.16 284.74,421.16 285.89,421.16 287.04,421.16 288.19,421.16 289.34,421.16 290.49,421.16 291.65,421.16 292.8,421.16 293.95,421.16 295.1,421.16 296.25,421.16 297.4,421.16 298.56,421.16 299.71,421.16 300.86,421.16 302.01,421.16 303.16,421.16 304.31,421.16 305.46,421.16 306.62,421.16 307.77,421.16 308.92,421.16 310.07,421.16 311.22,421.16 312.37,421.16 313.53,421.16 314.68,421.16 315.83,421.16 316.98,421.16 318.13,421.16 319.28,421.16 320.44,421.16 321.59,421.16 322.74,421.16 323.89,421.16 325.04,421.16 326.19,421.16 327.35,421.16 328.5,421.16 329.65,421.16 330.8,421.16 330.8,421.16 331.04,421.09 331.27,420.73 331.51,420.42 331.75,420.14 331.98,419.89 332.22,419.68 332.46,419.49 332.69,419.32 332.93,419.17 333.17,419.04 333.4,418.92 333.64,418.82 333.87,418.73 334.11,418.65 334.35,418.58 334.58,418.52 334.82,418.47 335.06,418.42 335.29,418.38 335.53,418.34 335.77,418.24 336,418.16 336.24,418.08 336.48,418.01 336.71,417.94 336.95,417.88 337.19,417.83 337.42,417.77 337.66,417.72 337.9,417.68 338.13,417.64 338.37,417.6 338.6,417.57 338.84,417.53 339.08,417.5 339.31,417.47 339.55,417.45 339.79,417.42 340.02,417.4 340.26,417.38 340.5,417.36 340.73,417.34 340.97,417.32 341.21,417.31 341.44,417.29 341.68,417.28 341.92,417.27 342.15,417.25 342.39,417.24 342.62,417.23 342.86,417.22 343.1,417.21 343.33,417.2 343.57,417.2 343.81,417.19 344.04,417.18 344.28,417.17 344.52,417.17 344.75,417.16 344.99,417.16 345.46,417.15 347.58,417.12 349.69,417.1 351.81,417.09 353.92,417.08 356.03,417.08 358.15,417.08 360.26,417.08 362.38,417.07 364.49,417.07 366.6,417.07 368.72,417.07 370.83,417.07 372.95,417.07 375.06,417.07 377.17,417.07 379.29,417.07 381.4,417.07 383.52,417.07 385.63,417.07 387.74,417.07 389.86,417.07 391.97,417.07 394.09,417.07 396.2,417.07 398.31,417.07 400.43,417.07 402.54,417.07 404.66,417.07 406.77,417.07 408.88,417.07 411,417.07 413.11,417.07 415.23,417.07 417.34,417.07 419.45,417.07 421.57,417.07 423.68,417.07 425.8,417.07 427.91,417.07 430.02,417.07 432.14,417.07 434.25,417.07 436.37,417.07 438.48,417.07 440.59,417.07 442.71,417.07 444.82,417.07 446.94,417.07 449.05,417.07" fill="none" stroke="#3cc234" stroke-width="1.5" stroke-linejoin="round" />
<polyline points="47,418.06 94.3,418.06 94.3,418.06 94.42,418.01 94.54,417.97 94.65,417.93 94.77,417.89 94.89,417.86 95.01,417.83 95.13,417.81 95.25,417.79 95.36,417.76 95.48,417.75 95.6,417.73 95.72,417.71 95.84,417.7 95.96,417.69 96.07,417.67 96.19,417.66 96.31,417.65 96.43,417.65 96.55,417.64 96.67,417.63 96.78,417.62 96.9,417.62 97.02,417.61 97.14,417.61 97.26,417.61 97.37,417.6 97.49,417.6 97.61,417.59 97.73,417.59 97.85,417.59 97.97,417.59 98.08,417.58 98.2,417.58 98.32,417.58 98.44,417.58 98.56,417.58 98.68,417.58 98.79,417.58 98.91,417.57 99.03,417.57 99.15,417.57 99.27,417.57 99.38,417.57 99.5,417.57 99.62,417.57 99.74,417.57 99.86,417.57 99.98,417.57 100.09,417.57 100.21,417.57 100.33,417.57 100.45,417.57 100.57,417.57 100.69,417.57 100.8,417.57 100.92,417.57 101.04,417.57 101.16,417.57 101.28,417.57 101.4,417.57 101.63,417.57 102.78,417.57 103.93,417.56 105.09,417.56 106.24,417.56 107.39,417.56 108.54,417.56 109.69,417.56 110.84,417.56 112,417.56 113.15,417.56 114.3,417.56 115.45,417.56 116.6,417.56 117.75,417.56 118.91,417.56 120.06,417.56 121.21,417.56 122.36,417.56 123.51,417.56 124.66,417.56 125.82,417.56 126.97,417.56 128.12,417.56 129.27,417.56 130.42,417.56 131.57,417.56 132.72,417.56 133.88,417.56 135.03,417.56 136.18,417.56 137.33,417.56 138.48,417.56 139.63,417.56 140.79,417.56 141.94,417.56 143.09,417.56 144.24,417.56 145.39,417.56 146.54,417.56 147.7,417.56 148.85,417.56 150,417.56 151.15,417.56 152.3,417.56 153.45,417.56 154.61,417.56 155.76,417.56 156.91,417.56 158.06,417.56 159.21,417.56 160.36,417.56 161.51,417.56 162.67,417.56 163.82,417.56 164.97,417.56 166.12,417.56 167.27,417.56 168.42,417.56 169.58,417.56 170.73,417.56 171.88,417.56 173.03,417.56 174.18,417.56 175.33,417.56 176.49,417.56 177.64,417.56 178.79,417.56 179.94,417.56 181.09,417.56 182.24,417.56 183.4,417.56 184.55,417.56 185.7,417.56 186.85,417.56 188,417.56 189.15,417.56 190.3,417.56 191.46,417.56 192.61,417.56 193.76,417.56 194.91,417.56 196.06,417.56 197.21,417.56 198.37,417.56 199.52,417.56 200.67,417.56 201.82,417.56 202.97,417.56 204.12,417.56 205.28,417.56 206.43,417.56 207.58,417.56 208.73,417.56 209.88,417.56 211.03,417.56 212.19,417.56 213.34,417.56 214.49,417.56 215.64,417.56 216.79,417.56 217.94,417.56 219.09,417.56 220.25,417.56 221.4,417.56 222.55,417.56 223.7,417.56 224.85,417.56 226,417.56 227.16,417.56 228.31,417.56 229.46,417.56 230.61,417.56 231.76,417.56 232.91,417.56 234.07,417.56 235.22,417.56 236.37,417.56 237.52,417.56 238.67,417.56 239.82,417.56 240.98,417.56 242.13,417.56 243.28,417.56 244.43,417.56 245.58,417.56 246.73,417.56 247.88,417.56 249.04,417.56 250.19,417.56 251.34,417.56 252.49,417.56 253.64,417.56 254.79,417.56 255.95,417.56 257.1,417.56 258.25,417.56 259.4,417.56 260.55,417.56 261.7,417.56 262.86,417.56 264.01,417.56 265.16,417.56 266.31,417.56 267.46,417.56 268.61,417.56 269.77,417.56 270.92,417.56 272.07,417.56 273.22,417.56 274.37,417.56 275.52,417.56 276.67,417.56 277.83,417.56 278.98,417.56 280.13,417.56 281.28,417.56 282.43,417.56 283.58,417.56 284.74,417.56 285.89,417.56 287.04,417.56 288.19,417.56 289.34,417.56 290.49,417.56 291.65,417.56 292.8,417.56 293.95,417.56 295.1,417.56 296.25,417.56 297.4,417.56 298.56,417.56 299.71,417.56 300.86,417.56 302.01,417.56 303.16,417.56 304.31,417.56 305.46,417.56 306.62,417.56 307.77,417.56 308.92,417.56 310.07,417.56 311.22,417.56 312.37,417.56 313.53,417.56 314.68,417.56 315.83,417.56 316.98,417.56 318.13,417.56 319.28,417.56 320.44,417.56 321.59,417.56 322.74,417.56 323.89,417.56 325.04,417.56 326.19,417.56 327.35,417.56 328.5,417.56 329.65,417.56 330.8,417.56 330.8,417.56 331.04,417.58 331.27,417.63 331.51,417.68 331.75,417.73 331.98,417.77 332.22,417.8 332.46,417.83 332.69,417.86 332.93,417.88 333.17,417.9 333.4,417.92 333.64,417.93 333.87,417.95 334.11,417.96 334.35,417.97 334.58,417.98 334.82,417.99 335.06,418 335.29,418.01 335.53,418.01 335.77,417.98 336,417.94 336.24,417.91 336.48,417.88 336.71,417.86 336.95,417.83 337.19,417.81 337.42,417.78 337.66,417.76 337.9,417.74 338.13,417.72 338.37,417.7 338.6,417.68 338.84,417.67 339.08,417.65 339.31,417.64 339.55,417.62 339.79,417.61 340.02,417.6 340.26,417.59 340.5,417.57 340.73,417.56 340.97,417.55 341.21,417.54 341.44,417.54 341.68,417.53 341.92,417.52 342.15,417.51 342.39,417.51 342.62,417.5 342.86,417.49 343.1,417.49 343.33,417.48 343.57,417.48 343.81,417.47 344.04,417.47 344.28,417.47 344.52,417.46 344.75,417.46 344.99,417.45 345.46,417.45 347.58,417.43 349.69,417.42 351.81,417.41 353.92,417.41 356.03,417.4 358.15,417.4 360.26,417.4 362.38,417.4 364.49,417.4 366.6,417.4 368.72,417.4 370.83,417.4 372.95,417.4 375.06,417.4 377.17,417.4 379.29,417.4 381.4,417.4 383.52,417.4 385.63,417.4 387.74,417.4 389.86,417.4 391.97,417.4 394.09,417.4 396.2,417.4 398.31,417.4 400.43,417.4 402.54,417.4 404.66,417.4 406.77,417.4 408.88,417.4 411,417.4 413.11,417.4 415.23,417.4 417.34,417.4 419.45,417.4 421.57,417.4 423.68,417.4 425.8,417.4 427.91,417.4 430.02,417.4 432.14,417.4 434.25,417.4 436.37,417.4 438.48,417.4 440.59,417.4 442.71,417.4 444.82,417.4 446.94,417.4 449.05,417.4" fill="none" stroke="#1fb272" stroke-width="1.5" stroke-linejoin="round" />
<polyline points="47,418.06 94.3,418.06 94.3,420.75 94.42,419.9 94.54,419.09 94.65,418.32 94.77,417.6 94.89,416.92 95.01,416.28 95.13,415.68 95.25,415.11 95.36,414.57 95.48,414.07 95.6,413.59 95.72,413.14 95.84,412.72 95.96,412.32 96.07,411.94 96.19,411.58 96.31,411.25 96.43,410.93 96.55,410.64 96.67,410.36 96.78,410.09 96.9,409.84 97.02,409.61 97.14,409.39 97.26,409.18 97.37,408.98 97.49,408.79 97.61,408.62 97.73,408.45 97.85,408.3 97.97,408.15 98.08,408.01 98.2,407.88 98.32,407.76 98.44,407.65 98.56,407.54 98.68,407.43 98.79,407.34 98.91,407.25 99.03,407.16 99.15,407.08 99.27,407 99.38,406.93 99.5,406.86 99.62,406.8 99.74,406.74 99.86,406.68 99.98,406.63 100.09,406.58 100.21,406.53 100.33,406.48 100.45,406.44 100.57,406.4 100.69,406.37 100.8,406.33 100.92,406.3 101.04,406.27 101.16,406.24 101.28,406.21 101.4,406.18 101.63,406.13 102.78,405.97 103.93,405.88 105.09,405.83 106.24,405.8 107.39,405.79 108.54,405.79 109.69,405.79 110.84,405.79 112,405.79 113.15,405.8 114.3,405.8 115.45,405.81 116.6,405.81 117.75,405.82 118.91,405.82 120.06,405.83 121.21,405.83 122.36,405.84 123.51,405.84 124.66,405.85 125.82,405.85 126.97,405.86 128.12,405.86 129.27,405.87 130.42,405.87 131.57,405.88 132.72,405.88 133.88,405.89 135.03,405.89 136.18,405.9 137.33,405.9 138.48,405.91 139.63,405.91 140.79,405.91 141.94,405.92 143.09,405.92 144.24,405.93 145.39,405.93 146.54,405.94 147.7,405.94 148.85,405.95 150,405.95 151.15,405.96 152.3,405.96 153.45,405.96 154.61,405.97 155.76,405.97 156.91,405.98 158.06,405.98 159.21,405.99 160.36,405.99 161.51,405.99 162.67,406 163.82,406 164.97,406.01 166.12,406.01 167.27,406.02 168.42,406.02 169.58,406.02 170.73,406.03 171.88,406.03 173.03,406.04 174.18,406.04 175.33,406.04 176.49,406.05 177.64,406.05 178.79,406.06 179.94,406.06 181.09,406.06 182.24,406.07 183.4,406.07 184.55,406.08 185.7,406.08 186.85,406.08 188,406.09 189.15,406.09 190.3,406.09 191.46,406.1 192.61,406.1 193.76,406.11 194.91,406.11 196.06,406.11 197.21,406.12 198.37,406.12 199.52,406.12 200.67,406.13 201.82,406.13 202.97,406.13 204.12,406.14 205.28,406.14 206.43,406.15 207.58,406.15 208.73,406.15 209.88,406.16 211.03,406.16 212.19,406.16 213.34,406.17 214.49,406.17 215.64,406.17 216.79,406.18 217.94,406.18 219.09,406.18 220.25,406.19 221.4,406.19 222.55,406.19 223.7,406.2 224.85,406.2 226,406.2 227.16,406.21 228.31,406.21 229.46,406.21 230.61,406.22 231.76,406.22 232.91,406.22 234.07,406.22 235.22,406.23 236.37,406.23 237.52,406.23 238.67,406.24 239.82,406.24 240.98,406.24 242.13,406.25 243.28,406.25 244.43,406.25 245.58,406.26 246.73,406.26 247.88,406.26 249.04,406.26 250.19,406.27 251.34,406.27 252.49,406.27 253.64,406.28 254.79,406.28 255.95,406.28 257.1,406.28 258.25,406.29 259.4,406.29 260.55,406.29 261.7,406.3 262.86,406.3 264.01,406.3 265.16,406.3 266.31,406.31 267.46,406.31 268.61,406.31 269.77,406.31 270.92,406.32 272.07,406.32 273.22,406.32 274.37,406.33 275.52,406.33 276.67,406.33 277.83,406.33 278.98,406.34 280.13,406.34 281.28,406.34 282.43,406.34 283.58,406.35 284.74,406.35 285.89,406.35 287.04,406.35 288.19,406.36 289.34,406.36 290.49,406.36 291.65,406.36 292.8,406.37 293.95,406.37 295.1,406.37 296.25,406.37 297.4,406.38 298.56,406.38 299.71,406.38 300.86,406.38 302.01,406.38 303.16,406.39 304.31,406.39 305.46,406.39 306.62,406.39 307.77,406.4 308.92,406.4 310.07,406.4 311.22,406.4 312.37,406.41 313.53,406.41 314.68,406.41 315.83,406.41 316.98,406.41 318.13,406.42 319.28,406.42 320.44,406.42 321.59,406.42 322.74,406.43 323.89,406.43 325.04,406.43 326.19,406.43 327.35,406.43 328.5,406.44 329.65,406.44 330.8,406.44 330.8,406.44 331.04,406.73 331.27,408.06 331.51,409.23 331.75,410.27 331.98,411.18 332.22,411.99 332.46,412.7 332.69,413.33 332.93,413.89 333.17,414.38 333.4,414.81 333.64,415.19 333.87,415.53 334.11,415.82 334.35,416.09 334.58,416.32 334.82,416.52 335.06,416.7 335.29,416.86 335.53,417 335.77,417.11 336,417.2 336.24,417.28 336.48,417.34 336.71,417.4 336.95,417.46 337.19,417.5 337.42,417.54 337.66,417.57 337.9,417.6 338.13,417.63 338.37,417.65 338.6,417.67 338.84,417.68 339.08,417.69 339.31,417.71 339.55,417.72 339.79,417.72 340.02,417.73 340.26,417.74 340.5,417.74 340.73,417.74 340.97,417.75 341.21,417.75 341.44,417.75 341.68,417.75 341.92,417.75 342.15,417.75 342.39,417.75 342.62,417.75 342.86,417.75 343.1,417.75 343.33,417.75 343.57,417.75 343.81,417.75 344.04,417.75 344.28,417.75 344.52,417.75 344.75,417.75 344.99,417.75 345.46,417.75 347.58,417.74 349.69,417.74 351.81,417.73 353.92,417.73 356.03,417.73 358.15,417.73 360.26,417.73 362.38,417.73 364.49,417.73 366.6,417.73 368.72,417.73 370.83,417.73 372.95,417.73 375.06,417.73 377.17,417.73 379.29,417.73 381.4,417.73 383.52,417.73 385.63,417.73 387.74,417.73 389.86,417.73 391.97,417.73 394.09,417.73 396.2,417.73 398.31,417.73 400.43,417.73 402.54,417.73 404.66,417.73 406.77,417.73 408.88,417.73 411,417.73 413.11,417.73 415.23,417.73 417.34,417.73 419.45,417.73 421.57,417.73 423.68,417.73 425.8,417.73 427.91,417.73 430.02,417.73 432.14,417.73 434.25,417.73 436.37,417.73 438.48,417.73 440.59,417.73 442.71,417.73 444.82,417.73 446.94,417.73 449.05,417.73" fill="none" stroke="#34c2c4" stroke-width="1.5" stroke-linejoin="round" />
<polyline points="47,418.06 94.3,418.06 94.3,420.75 94.42,417.81 94.54,415.14 94.65,412.73 94.77,410.54 94.89,408.57 95.01,406.78 95.13,405.17 95.25,403.71 95.36,402.39 95.48,401.19 95.6,400.11 95.72,399.14 95.84,398.25 95.96,397.45 96.07,396.73 96.19,396.08 96.31,395.49 96.43,394.95 96.55,394.47 96.67,394.03 96.78,393.64 96.9,393.28 97.02,392.96 97.14,392.67 97.26,392.41 97.37,392.17 97.49,391.96 97.61,391.76 97.73,391.59 97.85,391.43 97.97,391.29 98.08,391.16 98.2,391.04 98.32,390.94 98.44,390.85 98.56,390.76 98.68,390.68 98.79,390.62 98.91,390.55 99.03,390.5 99.15,390.45 99.27,390.41 99.38,390.37 99.5,390.33 99.62,390.3 99.74,390.27 99.86,390.24 99.98,390.22 100.09,390.2 100.21,390.18 100.33,390.17 100.45,390.15 100.57,390.14 100.69,390.13 100.8,390.12 100.92,390.11 101.04,390.11 101.16,390.1 101.28,390.1 101.4,390.09 101.63,390.09 102.78,390.09 103.93,390.11 105.09,390.15 106.24,390.18 107.39,390.22 108.54,390.26 109.69,390.3 110.84,390.33 112,390.37 113.15,390.41 114.3,390.45 115.45,390.48 116.6,390.52 117.75,390.55 118.91,390.59 120.06,390.63 121.21,390.66 122.36,390.7 123.51,390.73 124.66,390.77 125.82,390.8 126.97,390.83 128.12,390.87 129.27,390.9 130.42,390.93 131.57,390.97 132.72,391 133.88,391.03 135.03,391.06 136.18,391.1 137.33,391.13 138.48,391.16 139.63,391.19 140.79,391.22 141.94,391.25 143.09,391.28 144.24,391.31 145.39,391.34 146.54,391.37 147.7,391.4 148.85,391.43 150,391.46 151.15,391.49 152.3,391.52 153.45,391.55 154.61,391.58 155.76,391.61 156.91,391.63 158.06,391.66 159.21,391.69 160.36,391.72 161.51,391.74 162.67,391.77 163.82,391.8 164.97,391.82 166.12,391.85 167.27,391.88 168.42,391.9 169.58,391.93 170.73,391.95 171.88,391.98 173.03,392 174.18,392.03 175.33,392.05 176.49,392.08 177.64,392.1 178.79,392.13 179.94,392.15 181.09,392.18 182.24,392.2 183.4,392.22 184.55,392.25 185.7,392.27 186.85,392.29 188,392.32 189.15,392.34 190.3,392.36 191.46,392.38 192.61,392.41 193.76,392.43 194.91,392.45 196.06,392.47 197.21,392.49 198.37,392.52 199.52,392.54 200.67,392.56 201.82,392.58 202.97,392.6 204.12,392.62 205.28,392.64 206.43,392.66 207.58,392.68 208.73,392.7 209.88,392.72 211.03,392.74 212.19,392.76 213.34,392.78 214.49,392.8 215.64,392.82 216.79,392.84 217.94,392.86 219.09,392.88 220.25,392.89 221.4,392.91 222.55,392.93 223.7,392.95 224.85,392.97 226,392.99 227.16,393 228.31,393.02 229.46,393.04 230.61,393.06 231.76,393.07 232.91,393.09 234.07,393.11 235.22,393.12 236.37,393.14 237.52,393.16 238.67,393.17 239.82,393.19 240.98,393.21 242.13,393.22 243.28,393.24 244.43,393.26 245.58,393.27 246.73,393.29 247.88,393.3 249.04,393.32 250.19,393.33 251.34,393.35 252.49,393.36 253.64,393.38 254.79,393.39 255.95,393.41 257.1,393.42 258.25,393.44 259.4,393.45 260.55,393.47 261.7,393.48 262.86,393.49 264.01,393.51 265.16,393.52 266.31,393.54 267.46,393.55 268.61,393.56 269.77,393.58 270.92,393.59 272.07,393.6 273.22,393.62 274.37,393.63 275.52,393.64 276.67,393.66 277.83,393.67 278.98,393.68 280.13,393.7 281.28,393.71 282.43,393.72 283.58,393.73 284.74,393.75 285.89,393.76 287.04,393.77 288.19,393.78 289.34,393.79 290.49,393.81 291.65,393.82 292.8,393.83 293.95,393.84 295.1,393.85 296.25,393.86 297.4,393.87 298.56,393.89 299.71,393.9 300.86,393.91 302.01,393.92 303.16,393.93 304.31,393.94 305.46,393.95 306.62,393.96 307.77,393.97 308.92,393.98 310.07,393.99 311.22,394 312.37,394.01 313.53,394.03 314.68,394.04 315.83,394.05 316.98,394.06 318.13,394.07 319.28,394.08 320.44,394.09 321.59,394.09 322.74,394.1 323.89,394.11 325.04,394.12 326.19,394.13 327.35,394.14 328.5,394.15 329.65,394.16 330.8,394.17 330.8,394.17 331.04,394.76 331.27,397.5 331.51,399.91 331.75,402.04 331.98,403.93 332.22,405.59 332.46,407.05 332.69,408.34 332.93,409.49 333.17,410.49 333.4,411.38 333.64,412.17 333.87,412.86 334.11,413.47 334.35,414.01 334.58,414.48 334.82,414.9 335.06,415.27 335.29,415.6 335.53,415.89 335.77,416.14 336,416.37 336.24,416.57 336.48,416.74 336.71,416.9 336.95,417.03 337.19,417.15 337.42,417.26 337.66,417.35 337.9,417.43 338.13,417.51 338.37,417.57 338.6,417.63 338.84,417.68 339.08,417.72 339.31,417.76 339.55,417.8 339.79,417.83 340.02,417.85 340.26,417.88 340.5,417.9 340.73,417.92 340.97,417.93 341.21,417.95 341.44,417.96 341.68,417.97 341.92,417.98 342.15,417.99 342.39,418 342.62,418 342.86,418.01 343.1,418.02 343.33,418.02 343.57,418.02 343.81,418.03 344.04,418.03 344.28,418.03 344.52,418.04 344.75,418.04 344.99,418.04 345.46,418.04 347.58,418.05 349.69,418.05 351.81,418.06 353.92,418.06 356.03,418.06 358.15,418.06 360.26,418.06 362.38,418.06 364.49,418.06 366.6,418.06 368.72,418.06 370.83,418.06 372.95,418.06 375.06,418.06 377.17,418.06 379.29,418.06 381.4,418.06 383.52,418.06 385.63,418.06 387.74,418.06 389.86,418.06 391.97,418.06 394.09,418.06 396.2,418.06 398.31,418.06 400.43,418.06 402.54,418.06 404.66,418.06 406.77,418.06 408.88,418.06 411,418.06 413.11,418.06 415.23,418.06 417.34,418.06 419.45,418.06 421.57,418.06 423.68,418.06 425.8,418.06 427.91,418.06 430.02,418.06 432.14,418.06 434.25,418.06 436.37,418.06 438.48,418.06 440.59,418.06 442.71,418.06 444.82,418.06 446.94,418.06 449.05,418.06" fill="none" stroke="#2352b2" stroke-width="1.5" stroke-linejoin="round" />
<polyline points="47,418.06 94.3,418.06 94.3,420.75 94.42,416.48 94.54,412.69 94.65,409.33 94.77,406.34 94.89,403.7 95.01,401.35 95.13,399.26 95.25,397.41 95.36,395.78 95.48,394.32 95.6,393.03 95.72,391.89 95.84,390.87 95.96,389.97 96.07,389.18 96.19,388.47 96.31,387.84 96.43,387.29 96.55,386.8 96.67,386.36 96.78,385.98 96.9,385.64 97.02,385.34 97.14,385.07 97.26,384.83 97.37,384.62 97.49,384.44 97.61,384.28 97.73,384.14 97.85,384.01 97.97,383.9 98.08,383.8 98.2,383.72 98.32,383.64 98.44,383.58 98.56,383.52 98.68,383.47 98.79,383.43 98.91,383.39 99.03,383.36 99.15,383.33 99.27,383.31 99.38,383.29 99.5,383.27 99.62,383.25 99.74,383.24 99.86,383.23 99.98,383.23 100.09,383.22 100.21,383.22 100.33,383.22 100.45,383.21 100.57,383.21 100.69,383.22 100.8,383.22 100.92,383.22 101.04,383.22 101.16,383.23 101.28,383.23 101.4,383.24 101.63,383.25 102.78,383.31 103.93,383.39 105.09,383.47 106.24,383.55 107.39,383.63 108.54,383.71 109.69,383.78 110.84,383.86 112,383.94 113.15,384.01 114.3,384.09 115.45,384.16 116.6,384.24 117.75,384.31 118.91,384.39 120.06,384.46 121.21,384.53 122.36,384.6 123.51,384.67 124.66,384.74 125.82,384.81 126.97,384.88 128.12,384.95 129.27,385.01 130.42,385.08 131.57,385.15 132.72,385.21 133.88,385.28 135.03,385.34 136.18,385.41 137.33,385.47 138.48,385.53 139.63,385.59 140.79,385.66 141.94,385.72 143.09,385.78 144.24,385.84 145.39,385.9 146.54,385.96 147.7,386.02 148.85,386.07 150,386.13 151.15,386.19 152.3,386.25 153.45,386.3 154.61,386.36 155.76,386.41 156.91,386.47 158.06,386.52 159.21,386.58 160.36,386.63 161.51,386.68 162.67,386.74 163.82,386.79 164.97,386.84 166.12,386.89 167.27,386.94 168.42,386.99 169.58,387.04 170.73,387.09 171.88,387.14 173.03,387.19 174.18,387.24 175.33,387.28 176.49,387.33 177.64,387.38 178.79,387.42 179.94,387.47 181.09,387.52 182.24,387.56 183.4,387.61 184.55,387.65 185.7,387.69 186.85,387.74 188,387.78 189.15,387.82 190.3,387.87 191.46,387.91 192.61,387.95 193.76,387.99 194.91,388.03 196.06,388.07 197.21,388.12 198.37,388.16 199.52,388.19 200.67,388.23 201.82,388.27 202.97,388.31 204.12,388.35 205.28,388.39 206.43,388.43 207.58,388.46 208.73,388.5 209.88,388.54 211.03,388.57 212.19,388.61 213.34,388.65 214.49,388.68 215.64,388.72 216.79,388.75 217.94,388.79 219.09,388.82 220.25,388.85 221.4,388.89 222.55,388.92 223.7,388.95 224.85,388.99 226,389.02 227.16,389.05 228.31,389.08 229.46,389.12 230.61,389.15 231.76,389.18 232.91,389.21 234.07,389.24 235.22,389.27 236.37,389.3 237.52,389.33 238.67,389.36 239.82,389.39 240.98,389.42 242.13,389.45 243.28,389.48 244.43,389.5 245.58,389.53 246.73,389.56 247.88,389.59 249.04,389.62 250.19,389.64 251.34,389.67 252.49,389.7 253.64,389.72 254.79,389.75 255.95,389.78 257.1,389.8 258.25,389.83 259.4,389.85 260.55,389.88 261.7,389.9 262.86,389.93 264.01,389.95 265.16,389.98 266.31,390 267.46,390.02 268.61,390.05 269.77,390.07 270.92,390.09 272.07,390.12 273.22,390.14 274.37,390.16 275.52,390.18 276.67,390.21 277.83,390.23 278.98,390.25 280.13,390.27 281.28,390.29 282.43,390.31 283.58,390.34 284.74,390.36 285.89,390.38 287.04,390.4 288.19,390.42 289.34,390.44 290.49,390.46 291.65,390.48 292.8,390.5 293.95,390.52 295.1,390.54 296.25,390.56 297.4,390.58 298.56,390.59 299.71,390.61 300.86,390.63 302.01,390.65 303.16,390.67 304.31,390.69 305.46,390.7 306.62,390.72 307.77,390.74 308.92,390.76 310.07,390.77 311.22,390.79 312.37,390.81 313.53,390.83 314.68,390.84 315.83,390.86 316.98,390.88 318.13,390.89 319.28,390.91 320.44,390.92 321.59,390.94 322.74,390.96 323.89,390.97 325.04,390.99 326.19,391 327.35,391.02 328.5,391.03 329.65,391.05 330.8,391.06 330.8,391.06 331.04,391.73 331.27,394.82 331.51,397.55 331.75,399.96 331.98,402.09 332.22,403.96 332.46,405.62 332.69,407.08 332.93,408.37 333.17,409.51 333.4,410.51 333.64,411.4 333.87,412.18 334.11,412.87 334.35,413.48 334.58,414.02 334.82,414.49 335.06,414.91 335.29,415.28 335.53,415.61 335.77,415.91 336,416.19 336.24,416.43 336.48,416.64 336.71,416.83 336.95,417 337.19,417.15 337.42,417.28 337.66,417.4 337.9,417.51 338.13,417.6 338.37,417.68 338.6,417.76 338.84,417.82 339.08,417.88 339.31,417.93 339.55,417.98 339.79,418.02 340.02,418.06 340.26,418.09 340.5,418.12 340.73,418.14 340.97,418.17 341.21,418.19 341.44,418.21 341.68,418.22 341.92,418.24 342.15,418.25 342.39,418.26 342.62,418.28 342.86,418.28 343.1,418.29 343.33,418.3 343.57,418.31 343.81,418.32 344.04,418.32 344.28,418.33 344.52,418.33 344.75,418.34 344.99,418.34 345.46,418.35 347.58,418.37 349.69,418.37 351.81,418.38 353.92,418.38 356.03,418.38 358.15,418.38 360.26,418.38 362.38,418.38 364.49,418.38 366.6,418.38 368.72,418.38 370.83,418.38 372.95,418.38 375.06,418.38 377.17,418.38 379.29,418.38 381.4,418.38 383.52,418.38 385.63,418.38 387.74,418.38 389.86,418.38 391.97,418.38 394.09,418.38 396.2,418.38 398.31,418.38 400.43,418.38 402.54,418.38 404.66,418.38 406.77,418.38 408.88,418.38 411,418.38 413.11,418.38 415.23,418.38 417.34,418.38 419.45,418.38 421.57,418.38 423.68,418.38 425.8,418.38 427.91,418.38 430.02,418.38 432.14,418.38 434.25,418.38 436.37,418.38 438.48,418.38 440.59,418.38 442.71,418.38 444.82,418.38 446.94,418.38 449.05,418.38" fill="none" stroke="#3a2ea2" stroke-width="1.5" stroke-linejoin="round" />
<polyline points="47,418.06 94.3,418.06 94.3,420.75 94.42,416.14 94.54,412.07 94.65,408.48 94.77,405.31 94.89,402.52 95.01,400.06 95.13,397.89 95.25,395.98 95.36,394.29 95.48,392.8 95.6,391.49 95.72,390.34 95.84,389.32 95.96,388.43 96.07,387.64 96.19,386.95 96.31,386.34 96.43,385.8 96.55,385.33 96.67,384.91 96.78,384.55 96.9,384.23 97.02,383.95 97.14,383.7 97.26,383.48 97.37,383.29 97.49,383.13 97.61,382.98 97.73,382.86 97.85,382.75 97.97,382.65 98.08,382.57 98.2,382.5 98.32,382.44 98.44,382.39 98.56,382.34 98.68,382.3 98.79,382.27 98.91,382.24 99.03,382.22 99.15,382.2 99.27,382.19 99.38,382.17 99.5,382.17 99.62,382.16 99.74,382.16 99.86,382.15 99.98,382.15 100.09,382.15 100.21,382.16 100.33,382.16 100.45,382.16 100.57,382.17 100.69,382.17 100.8,382.18 100.92,382.19 101.04,382.2 101.16,382.21 101.28,382.21 101.4,382.22 101.63,382.24 102.78,382.35 103.93,382.46 105.09,382.57 106.24,382.68 107.39,382.79 108.54,382.9 109.69,383 110.84,383.11 112,383.21 113.15,383.31 114.3,383.41 115.45,383.51 116.6,383.61 117.75,383.71 118.91,383.8 120.06,383.9 121.21,383.99 122.36,384.08 123.51,384.17 124.66,384.26 125.82,384.35 126.97,384.44 128.12,384.52 129.27,384.6 130.42,384.69 131.57,384.77 132.72,384.85 133.88,384.93 135.03,385.01 136.18,385.09 137.33,385.16 138.48,385.24 139.63,385.31 140.79,385.38 141.94,385.46 143.09,385.53 144.24,385.6 145.39,385.67 146.54,385.74 147.7,385.8 148.85,385.87 150,385.93 151.15,386 152.3,386.06 153.45,386.13 154.61,386.19 155.76,386.25 156.91,386.31 158.06,386.37 159.21,386.43 160.36,386.48 161.51,386.54 162.67,386.6 163.82,386.65 164.97,386.71 166.12,386.76 167.27,386.81 168.42,386.87 169.58,386.92 170.73,386.97 171.88,387.02 173.03,387.07 174.18,387.12 175.33,387.17 176.49,387.21 177.64,387.26 178.79,387.31 179.94,387.35 181.09,387.4 182.24,387.44 183.4,387.49 184.55,387.53 185.7,387.57 186.85,387.61 188,387.65 189.15,387.69 190.3,387.74 191.46,387.77 192.61,387.81 193.76,387.85 194.91,387.89 196.06,387.93 197.21,387.96 198.37,388 199.52,388.04 200.67,388.07 201.82,388.11 202.97,388.14 204.12,388.18 205.28,388.21 206.43,388.24 207.58,388.28 208.73,388.31 209.88,388.34 211.03,388.37 212.19,388.4 213.34,388.43 214.49,388.46 215.64,388.49 216.79,388.52 217.94,388.55 219.09,388.58 220.25,388.61 221.4,388.63 222.55,388.66 223.7,388.69 224.85,388.71 226,388.74 227.16,388.77 228.31,388.79 229.46,388.82 230.61,388.84 231.76,388.87 232.91,388.89 234.07,388.91 235.22,388.94 236.37,388.96 237.52,388.98 238.67,389.01 239.82,389.03 240.98,389.05 242.13,389.07 243.28,389.09 244.43,389.11 245.58,389.13 246.73,389.15 247.88,389.17 249.04,389.19 250.19,389.21 251.34,389.23 252.49,389.25 253.64,389.27 254.79,389.29 255.95,389.31 257.1,389.32 258.25,389.34 259.4,389.36 260.55,389.38 261.7,389.39 262.86,389.41 264.01,389.43 265.16,389.44 266.31,389.46 267.46,389.48 268.61,389.49 269.77,389.51 270.92,389.52 272.07,389.54 273.22,389.55 274.37,389.57 275.52,389.58 276.67,389.59 277.83,389.61 278.98,389.62 280.13,389.64 281.28,389.65 282.43,389.66 283.58,389.68 284.74,389.69 285.89,389.7 287.04,389.71 288.19,389.73 289.34,389.74 290.49,389.75 291.65,389.76 292.8,389.77 293.95,389.79 295.1,389.8 296.25,389.81 297.4,389.82 298.56,389.83 299.71,389.84 300.86,389.85 302.01,389.86 303.16,389.87 304.31,389.88 305.46,389.89 306.62,389.9 307.77,389.91 308.92,389.92 310.07,389.93 311.22,389.94 312.37,389.95 313.53,389.96 314.68,389.97 315.83,389.98 316.98,389.98 318.13,389.99 319.28,390 320.44,390.01 321.59,390.02 322.74,390.03 323.89,390.03 325.04,390.04 326.19,390.05 327.35,390.06 328.5,390.07 329.65,390.07 330.8,390.08 330.8,390.08 331.04,390.77 331.27,393.98 331.51,396.81 331.75,399.3 331.98,401.51 332.22,403.45 332.46,405.17 332.69,406.68 332.93,408.02 333.17,409.2 333.4,410.24 333.64,411.16 333.87,411.97 334.11,412.68 334.35,413.31 334.58,413.87 334.82,414.36 335.06,414.8 335.29,415.18 335.53,415.52 335.77,415.86 336,416.16 336.24,416.42 336.48,416.66 336.71,416.87 336.95,417.06 337.19,417.23 337.42,417.38 337.66,417.51 337.9,417.63 338.13,417.74 338.37,417.83 338.6,417.92 338.84,418 339.08,418.06 339.31,418.13 339.55,418.18 339.79,418.23 340.02,418.27 340.26,418.31 340.5,418.35 340.73,418.38 340.97,418.41 341.21,418.44 341.44,418.46 341.68,418.48 341.92,418.5 342.15,418.52 342.39,418.54 342.62,418.55 342.86,418.56 343.1,418.57 343.33,418.59 343.57,418.6 343.81,418.6 344.04,418.61 344.28,418.62 344.52,418.63 344.75,418.63 344.99,418.64 345.46,418.65 347.58,418.68 349.69,418.69 351.81,418.7 353.92,418.7 356.03,418.71 358.15,418.71 360.26,418.71 362.38,418.71 364.49,418.71 366.6,418.71 368.72,418.71 370.83,418.71 372.95,418.71 375.06,418.71 377.17,418.71 379.29,418.71 381.4,418.71 383.52,418.71 385.63,418.71 387.74,418.71 389.86,418.71 391.97,418.71 394.09,418.71 396.2,418.71 398.31,418.71 400.43,418.71 402.54,418.71 404.66,418.71 406.77,418.71 408.88,418.71 411,418.71 413.11,418.71 415.23,418.71 417.34,418.71 419.45,418.71 421.57,418.71 423.68,418.71 425.8,418.71 427.91,418.71 430.02,418.71 432.14,418.71 434.25,418.71 436.37,418.71 438.48,418.71 440.59,418.71 442.71,418.71 444.82,418.71 446.94,418.71 449.05,418.71" fill="none" stroke="#8e16b8" stroke-width="1.5" stroke-linejoin="round" />
<polyline points="47,418.06 94.3,418.06 94.3,420.75 94.42,415.8 94.54,411.46 94.65,407.66 94.77,404.33 94.89,401.41 95.01,398.86 95.13,396.63 95.25,394.67 95.36,392.96 95.48,391.46 95.6,390.15 95.72,389.01 95.84,388 95.96,387.13 96.07,386.36 96.19,385.69 96.31,385.11 96.43,384.6 96.55,384.15 96.67,383.76 96.78,383.43 96.9,383.13 97.02,382.88 97.14,382.66 97.26,382.46 97.37,382.3 97.49,382.15 97.61,382.03 97.73,381.92 97.85,381.83 97.97,381.75 98.08,381.69 98.2,381.63 98.32,381.58 98.44,381.55 98.56,381.51 98.68,381.49 98.79,381.47 98.91,381.45 99.03,381.44 99.15,381.43 99.27,381.42 99.38,381.42 99.5,381.42 99.62,381.42 99.74,381.42 99.86,381.43 99.98,381.43 100.09,381.44 100.21,381.45 100.33,381.46 100.45,381.47 100.57,381.48 100.69,381.49 100.8,381.5 100.92,381.52 101.04,381.53 101.16,381.54 101.28,381.56 101.4,381.57 101.63,381.6 102.78,381.74 103.93,381.89 105.09,382.03 106.24,382.18 107.39,382.32 108.54,382.45 109.69,382.59 110.84,382.72 112,382.85 113.15,382.98 114.3,383.1 115.45,383.22 116.6,383.34 117.75,383.46 118.91,383.58 120.06,383.69 121.21,383.8 122.36,383.91 123.51,384.02 124.66,384.12 125.82,384.22 126.97,384.33 128.12,384.42 129.27,384.52 130.42,384.62 131.57,384.71 132.72,384.8 133.88,384.89 135.03,384.98 136.18,385.06 137.33,385.15 138.48,385.23 139.63,385.31 140.79,385.39 141.94,385.47 143.09,385.55 144.24,385.62 145.39,385.69 146.54,385.77 147.7,385.84 148.85,385.91 150,385.98 151.15,386.04 152.3,386.11 153.45,386.17 154.61,386.23 155.76,386.3 156.91,386.36 158.06,386.42 159.21,386.47 160.36,386.53 161.51,386.59 162.67,386.64 163.82,386.7 164.97,386.75 166.12,386.8 167.27,386.85 168.42,386.9 169.58,386.95 170.73,387 171.88,387.04 173.03,387.09 174.18,387.14 175.33,387.18 176.49,387.22 177.64,387.27 178.79,387.31 179.94,387.35 181.09,387.39 182.24,387.43 183.4,387.47 184.55,387.5 185.7,387.54 186.85,387.58 188,387.61 189.15,387.65 190.3,387.68 191.46,387.72 192.61,387.75 193.76,387.78 194.91,387.81 196.06,387.85 197.21,387.88 198.37,387.91 199.52,387.94 200.67,387.96 201.82,387.99 202.97,388.02 204.12,388.05 205.28,388.07 206.43,388.1 207.58,388.13 208.73,388.15 209.88,388.18 211.03,388.2 212.19,388.22 213.34,388.25 214.49,388.27 215.64,388.29 216.79,388.31 217.94,388.33 219.09,388.36 220.25,388.38 221.4,388.4 222.55,388.42 223.7,388.44 224.85,388.46 226,388.47 227.16,388.49 228.31,388.51 229.46,388.53 230.61,388.55 231.76,388.56 232.91,388.58 234.07,388.6 235.22,388.61 236.37,388.63 237.52,388.64 238.67,388.66 239.82,388.67 240.98,388.69 242.13,388.7 243.28,388.71 244.43,388.73 245.58,388.74 246.73,388.76 247.88,388.77 249.04,388.78 250.19,388.79 251.34,388.81 252.49,388.82 253.64,388.83 254.79,388.84 255.95,388.85 257.1,388.86 258.25,388.87 259.4,388.88 260.55,388.89 261.7,388.9 262.86,388.91 264.01,388.92 265.16,388.93 266.31,388.94 267.46,388.95 268.61,388.96 269.77,388.97 270.92,388.98 272.07,388.99 273.22,389 274.37,389 275.52,389.01 276.67,389.02 277.83,389.03 278.98,389.04 280.13,389.04 281.28,389.05 282.43,389.06 283.58,389.07 284.74,389.07 285.89,389.08 287.04,389.09 288.19,389.09 289.34,389.1 290.49,389.1 291.65,389.11 292.8,389.12 293.95,389.12 295.1,389.13 296.25,389.13 297.4,389.14 298.56,389.15 299.71,389.15 300.86,389.16 302.01,389.16 303.16,389.17 304.31,389.17 305.46,389.18 306.62,389.18 307.77,389.19 308.92,389.19 310.07,389.19 311.22,389.2 312.37,389.2 313.53,389.21 314.68,389.21 315.83,389.22 316.98,389.22 318.13,389.22 319.28,389.23 320.44,389.23 321.59,389.23 322.74,389.24 323.89,389.24 325.04,389.25 326.19,389.25 327.35,389.25 328.5,389.26 329.65,389.26 330.8,389.26 330.8,389.26 331.04,389.97 331.27,393.27 331.51,396.18 331.75,398.75 331.98,401.02 332.22,403.02 332.46,404.79 332.69,406.35 332.93,407.72 333.17,408.94 333.4,410.01 333.64,410.96 333.87,411.79 334.11,412.53 334.35,413.18 334.58,413.75 334.82,414.26 335.06,414.7 335.29,415.1 335.53,415.44 335.77,415.81 336,416.14 336.24,416.43 336.48,416.69 336.71,416.92 336.95,417.13 337.19,417.31 337.42,417.48 337.66,417.63 337.9,417.76 338.13,417.88 338.37,417.99 338.6,418.09 338.84,418.17 339.08,418.25 339.31,418.32 339.55,418.39 339.79,418.44 340.02,418.49 340.26,418.54 340.5,418.58 340.73,418.62 340.97,418.66 341.21,418.69 341.44,418.72 341.68,418.74 341.92,418.77 342.15,418.79 342.39,418.81 342.62,418.83 342.86,418.84 343.1,418.86 343.33,418.87 343.57,418.88 343.81,418.89 344.04,418.9 344.28,418.91 344.52,418.92 344.75,418.93 344.99,418.94 345.46,418.95 347.58,418.99 349.69,419.01 351.81,419.02 353.92,419.03 356.03,419.03 358.15,419.03 360.26,419.04 362.38,419.04 364.49,419.04 366.6,419.04 368.72,419.04 370.83,419.04 372.95,419.04 375.06,419.04 377.17,419.04 379.29,419.04 381.4,419.04 383.52,419.04 385.63,419.04 387.74,419.04 389.86,419.04 391.97,419.04 394.09,419.04 396.2,419.04 398.31,419.04 400.43,419.04 402.54,419.04 404.66,419.04 406.77,419.04 408.88,419.04 411,419.04 413.11,419.04 415.23,419.04 417.34,419.04 419.45,419.04 421.57,419.04 423.68,419.04 425.8,419.04 427.91,419.04 430.02,419.04 432.14,419.04 434.25,419.04 436.37,419.04 438.48,419.04 440.59,419.04 442.71,419.04 444.82,419.04 446.94,419.04 449.05,419.04" fill="none" stroke="#c8107c" stroke-width="1.5" stroke-linejoin="round" />
<line x1="47" y1="373.2" x2="47" y2="423.4" stroke="#000" stroke-width="1.6" stroke-linecap="butt"/>
<line x1="46.2" y1="422.8" x2="449.2" y2="422.8" stroke="#000" stroke-width="1.6" stroke-linecap="butt"/>
<text x="34.16" y="426.17" font-size="14" font-weight="normal">0</text>
<line x1="47" y1="414.62" x2="52.5" y2="414.62" stroke="#000" stroke-width="1.1" stroke-linecap="butt"/>
<line x1="47" y1="406.44" x2="52.5" y2="406.44" stroke="#000" stroke-width="1.1" stroke-linecap="butt"/>
<text x="34.32" y="409.88" font-size="14" font-weight="normal">2</text>
<line x1="47" y1="398.26" x2="52.5" y2="398.26" stroke="#000" stroke-width="1.1" stroke-linecap="butt"/>
<line x1="47" y1="390.08" x2="52.5" y2="390.08" stroke="#000" stroke-width="1.1" stroke-linecap="butt"/>
<text x="34.02" y="393.45" font-size="14" font-weight="normal">4</text>
<line x1="47" y1="381.9" x2="52.5" y2="381.9" stroke="#000" stroke-width="1.1" stroke-linecap="butt"/>
<line x1="47" y1="373.72" x2="52.5" y2="373.72" stroke="#000" stroke-width="1.1" stroke-linecap="butt"/>
<text x="34.23" y="377.09" font-size="14" font-weight="normal">6</text>
<text x="43.11" y="438.32" font-size="14" font-weight="normal">0</text>
<line x1="94.3" y1="422.8" x2="94.3" y2="417.2" stroke="#000" stroke-width="1.1" stroke-linecap="butt"/>
<text x="86.44" y="438.32" font-size="14" font-weight="normal">20</text>
<line x1="141.6" y1="422.8" x2="141.6" y2="417.2" stroke="#000" stroke-width="1.1" stroke-linecap="butt"/>
<text x="133.93" y="438.32" font-size="14" font-weight="normal">40</text>
<line x1="188.9" y1="422.8" x2="188.9" y2="417.2" stroke="#000" stroke-width="1.1" stroke-linecap="butt"/>
<text x="181.03" y="438.32" font-size="14" font-weight="normal">60</text>
<line x1="236.2" y1="422.8" x2="236.2" y2="417.2" stroke="#000" stroke-width="1.1" stroke-linecap="butt"/>
<text x="228.38" y="438.32" font-size="14" font-weight="normal">80</text>
<line x1="283.5" y1="422.8" x2="283.5" y2="417.2" stroke="#000" stroke-width="1.1" stroke-linecap="butt"/>
<text x="271.56" y="438.32" font-size="14" font-weight="normal">100</text>
<line x1="330.8" y1="422.8" x2="330.8" y2="417.2" stroke="#000" stroke-width="1.1" stroke-linecap="butt"/>
<text x="318.86" y="438.32" font-size="14" font-weight="normal">120</text>
<line x1="378.1" y1="422.8" x2="378.1" y2="417.2" stroke="#000" stroke-width="1.1" stroke-linecap="butt"/>
<text x="366.16" y="438.32" font-size="14" font-weight="normal">140</text>
<line x1="425.4" y1="422.8" x2="425.4" y2="417.2" stroke="#000" stroke-width="1.1" stroke-linecap="butt"/>
<text x="413.46" y="438.32" font-size="14" font-weight="normal">160</text>
<text x="0" y="0" font-size="15.2" font-weight="normal" transform="translate(19.93,420.54) rotate(-90)">g (nS)</text>
<text x="2.06" y="366.57" font-size="16" font-weight="bold">b</text>
<polyline points="94.3,494.2 94.3,516 330.8,516 330.8,494.2" fill="none" stroke="#e0262a" stroke-width="1.5" stroke-linejoin="round" />
<polyline points="94.3,494.2 94.3,510.55 330.8,510.55 330.8,494.2" fill="none" stroke="#e08a22" stroke-width="1.5" stroke-linejoin="round" />
<polyline points="94.3,494.2 94.3,505.1 330.8,505.1 330.8,494.2" fill="none" stroke="#a2c80a" stroke-width="1.5" stroke-linejoin="round" />
<polyline points="94.3,494.2 94.3,499.65 330.8,499.65 330.8,494.2" fill="none" stroke="#3cc234" stroke-width="1.5" stroke-linejoin="round" />
<polyline points="94.3,494.2 94.3,494.2 330.8,494.2 330.8,494.2" fill="none" stroke="#1fb25a" stroke-width="1.5" stroke-linejoin="round" />
<polyline points="94.3,494.2 94.3,488.75 330.8,488.75 330.8,494.2" fill="none" stroke="#34c2c4" stroke-width="1.5" stroke-linejoin="round" />
<polyline points="94.3,494.2 94.3,483.3 330.8,483.3 330.8,494.2" fill="none" stroke="#2352b2" stroke-width="1.5" stroke-linejoin="round" />
<polyline points="94.3,494.2 94.3,477.85 330.8,477.85 330.8,494.2" fill="none" stroke="#3a2ea2" stroke-width="1.5" stroke-linejoin="round" />
<polyline points="94.3,494.2 94.3,472.4 330.8,472.4 330.8,494.2" fill="none" stroke="#8e16b8" stroke-width="1.5" stroke-linejoin="round" />
<polyline points="47,494.2 94.3,494.2" fill="none" stroke="#8e16b8" stroke-width="1.5" stroke-linejoin="round" />
<polyline points="94.3,494.2 94.3,472.4" fill="none" stroke="#8e16b8" stroke-width="1.5" stroke-linejoin="round" />
<polyline points="330.8,472.4 330.8,494.2" fill="none" stroke="#8e16b8" stroke-width="1.5" stroke-linejoin="round" />
<polyline points="330.8,494.2 449.05,494.2" fill="none" stroke="#8e16b8" stroke-width="1.5" stroke-linejoin="round" />
<line x1="47" y1="466.9" x2="47" y2="516.9" stroke="#000" stroke-width="1.6" stroke-linecap="butt"/>
<line x1="46.2" y1="516.1" x2="449.2" y2="516.1" stroke="#000" stroke-width="1.6" stroke-linecap="butt"/>
<line x1="47" y1="466.95" x2="52.5" y2="466.95" stroke="#000" stroke-width="1.1" stroke-linecap="butt"/>
<line x1="47" y1="472.4" x2="52.5" y2="472.4" stroke="#000" stroke-width="1.1" stroke-linecap="butt"/>
<line x1="47" y1="477.85" x2="52.5" y2="477.85" stroke="#000" stroke-width="1.1" stroke-linecap="butt"/>
<line x1="47" y1="483.3" x2="52.5" y2="483.3" stroke="#000" stroke-width="1.1" stroke-linecap="butt"/>
<line x1="47" y1="488.75" x2="52.5" y2="488.75" stroke="#000" stroke-width="1.1" stroke-linecap="butt"/>
<line x1="47" y1="494.2" x2="52.5" y2="494.2" stroke="#000" stroke-width="1.1" stroke-linecap="butt"/>
<line x1="47" y1="499.65" x2="52.5" y2="499.65" stroke="#000" stroke-width="1.1" stroke-linecap="butt"/>
<line x1="47" y1="505.1" x2="52.5" y2="505.1" stroke="#000" stroke-width="1.1" stroke-linecap="butt"/>
<line x1="47" y1="510.55" x2="52.5" y2="510.55" stroke="#000" stroke-width="1.1" stroke-linecap="butt"/>
<text x="23.08" y="473.3" font-size="12.2" font-weight="normal">−20</text>
<text x="23.08" y="484.9" font-size="12.2" font-weight="normal">−40</text>
<text x="23.08" y="496.6" font-size="12.2" font-weight="normal">−60</text>
<text x="23.08" y="507.8" font-size="12.2" font-weight="normal">−80</text>
<text x="16.3" y="519.2" font-size="12.2" font-weight="normal">−100</text>
<text x="43.11" y="532.12" font-size="14" font-weight="normal">0</text>
<line x1="94.3" y1="516.1" x2="94.3" y2="510.5" stroke="#000" stroke-width="1.1" stroke-linecap="butt"/>
<text x="86.44" y="532.12" font-size="14" font-weight="normal">20</text>
<line x1="141.6" y1="516.1" x2="141.6" y2="510.5" stroke="#000" stroke-width="1.1" stroke-linecap="butt"/>
<text x="133.93" y="532.12" font-size="14" font-weight="normal">40</text>
<line x1="188.9" y1="516.1" x2="188.9" y2="510.5" stroke="#000" stroke-width="1.1" stroke-linecap="butt"/>
<text x="181.03" y="532.12" font-size="14" font-weight="normal">60</text>
<line x1="236.2" y1="516.1" x2="236.2" y2="510.5" stroke="#000" stroke-width="1.1" stroke-linecap="butt"/>
<text x="228.38" y="532.12" font-size="14" font-weight="normal">80</text>
<line x1="283.5" y1="516.1" x2="283.5" y2="510.5" stroke="#000" stroke-width="1.1" stroke-linecap="butt"/>
<text x="271.56" y="532.12" font-size="14" font-weight="normal">100</text>
<line x1="330.8" y1="516.1" x2="330.8" y2="510.5" stroke="#000" stroke-width="1.1" stroke-linecap="butt"/>
<text x="318.86" y="532.12" font-size="14" font-weight="normal">120</text>
<line x1="378.1" y1="516.1" x2="378.1" y2="510.5" stroke="#000" stroke-width="1.1" stroke-linecap="butt"/>
<text x="366.16" y="532.12" font-size="14" font-weight="normal">140</text>
<line x1="425.4" y1="516.1" x2="425.4" y2="510.5" stroke="#000" stroke-width="1.1" stroke-linecap="butt"/>
<text x="413.46" y="532.12" font-size="14" font-weight="normal">160</text>
<text x="0" y="0" font-size="12.6" font-weight="normal" transform="translate(9.86,511.89) rotate(-90)">V (mV)</text>
<text x="0.07" y="464.83" font-size="16" font-weight="bold">c</text>
<line x1="523.3" y1="128.4" x2="528.8" y2="128.4" stroke="#000" stroke-width="1.1" stroke-linecap="butt"/>
<text x="510.56" y="131.92" font-size="14" font-weight="normal">0</text>
<line x1="523.3" y1="99.84" x2="528.8" y2="99.84" stroke="#000" stroke-width="1.1" stroke-linecap="butt"/>
<text x="510.72" y="103.43" font-size="14" font-weight="normal">2</text>
<line x1="523.3" y1="71.28" x2="528.8" y2="71.28" stroke="#000" stroke-width="1.1" stroke-linecap="butt"/>
<text x="510.42" y="74.8" font-size="14" font-weight="normal">4</text>
<line x1="523.3" y1="42.72" x2="528.8" y2="42.72" stroke="#000" stroke-width="1.1" stroke-linecap="butt"/>
<text x="510.63" y="46.24" font-size="14" font-weight="normal">6</text>
<line x1="523.3" y1="14.16" x2="528.8" y2="14.16" stroke="#000" stroke-width="1.1" stroke-linecap="butt"/>
<text x="510.62" y="17.68" font-size="14" font-weight="normal">8</text>
<clipPath id="cd"><rect x="523.3" y="0" width="150" height="143"/></clipPath>
<g clip-path="url(#cd)">
<polyline points="523.3,128.54 534.8,128.69 546.31,128.69 557.81,128.54 569.32,124.97 580.82,109.69 592.33,81.56 603.83,61 615.34,45.58 626.84,32.3" fill="none" stroke="#e02020" stroke-width="1.3" stroke-linejoin="round" />
<rect x="519.1" y="124.34" width="8.4" height="8.4" fill="#e2301f" stroke="#2a0e10" stroke-width="0.9"/>
<rect x="530.6" y="124.49" width="8.4" height="8.4" fill="#e2301f" stroke="#2a0e10" stroke-width="0.9"/>
<rect x="542.11" y="124.49" width="8.4" height="8.4" fill="#e2301f" stroke="#2a0e10" stroke-width="0.9"/>
<rect x="553.61" y="124.34" width="8.4" height="8.4" fill="#e2301f" stroke="#2a0e10" stroke-width="0.9"/>
<rect x="565.12" y="120.77" width="8.4" height="8.4" fill="#e2301f" stroke="#2a0e10" stroke-width="0.9"/>
<rect x="576.62" y="105.49" width="8.4" height="8.4" fill="#e2301f" stroke="#2a0e10" stroke-width="0.9"/>
<rect x="588.13" y="77.36" width="8.4" height="8.4" fill="#e2301f" stroke="#2a0e10" stroke-width="0.9"/>
<rect x="599.63" y="56.8" width="8.4" height="8.4" fill="#e2301f" stroke="#2a0e10" stroke-width="0.9"/>
<rect x="611.14" y="41.38" width="8.4" height="8.4" fill="#e2301f" stroke="#2a0e10" stroke-width="0.9"/>
<rect x="622.64" y="28.1" width="8.4" height="8.4" fill="#e2301f" stroke="#2a0e10" stroke-width="0.9"/>
<polyline points="523.3,128.4 534.8,128.4 546.31,128.4 557.81,126.69 569.32,124.54 580.82,108.27 592.33,75.28 603.83,47.29 615.34,26.44 626.84,8.31" fill="none" stroke="#2440a8" stroke-width="1.6" stroke-linejoin="round" />
<circle cx="523.3" cy="128.4" r="4.25" fill="#3450b2" stroke="#10123a" stroke-width="0.9"/>
<circle cx="534.8" cy="128.4" r="4.25" fill="#3450b2" stroke="#10123a" stroke-width="0.9"/>
<circle cx="546.31" cy="128.4" r="4.25" fill="#3450b2" stroke="#10123a" stroke-width="0.9"/>
<circle cx="557.81" cy="126.69" r="4.25" fill="#3450b2" stroke="#10123a" stroke-width="0.9"/>
<circle cx="569.32" cy="124.54" r="4.25" fill="#3450b2" stroke="#10123a" stroke-width="0.9"/>
<circle cx="580.82" cy="108.27" r="4.25" fill="#3450b2" stroke="#10123a" stroke-width="0.9"/>
<circle cx="592.33" cy="75.28" r="4.25" fill="#3450b2" stroke="#10123a" stroke-width="0.9"/>
<circle cx="603.83" cy="47.29" r="4.25" fill="#3450b2" stroke="#10123a" stroke-width="0.9"/>
<circle cx="615.34" cy="26.44" r="4.25" fill="#3450b2" stroke="#10123a" stroke-width="0.9"/>
<circle cx="626.84" cy="8.31" r="4.25" fill="#3450b2" stroke="#10123a" stroke-width="0.9"/>
</g>
<line x1="523.3" y1="0" x2="523.3" y2="143.4" stroke="#000" stroke-width="1.6" stroke-linecap="butt"/>
<line x1="522.5" y1="142.6" x2="661.8" y2="142.6" stroke="#000" stroke-width="1.6" stroke-linecap="butt"/>
<text x="504.76" y="158.27" font-size="14" font-weight="normal">−100</text>
<line x1="546.31" y1="142.6" x2="546.31" y2="137.1" stroke="#000" stroke-width="1.1" stroke-linecap="butt"/>
<text x="536.55" y="158.27" font-size="14" font-weight="normal">−80</text>
<line x1="569.32" y1="142.6" x2="569.32" y2="137.1" stroke="#000" stroke-width="1.1" stroke-linecap="butt"/>
<text x="559.85" y="158.27" font-size="14" font-weight="normal">−60</text>
<line x1="592.33" y1="142.6" x2="592.33" y2="137.1" stroke="#000" stroke-width="1.1" stroke-linecap="butt"/>
<text x="582.55" y="158.27" font-size="14" font-weight="normal">−40</text>
<line x1="615.34" y1="142.6" x2="615.34" y2="137.1" stroke="#000" stroke-width="1.1" stroke-linecap="butt"/>
<text x="606.05" y="158.27" font-size="14" font-weight="normal">−20</text>
<line x1="638.35" y1="142.6" x2="638.35" y2="137.1" stroke="#000" stroke-width="1.1" stroke-linecap="butt"/>
<text x="635.41" y="158.27" font-size="14" font-weight="normal">0</text>
<text x="569.93" y="173.7" font-size="13.8" font-weight="normal">V (mV)</text>
<text x="0" y="0" font-size="15.4" font-weight="normal" transform="translate(499.94,91.21) rotate(-90)">I (nA)</text>
<text x="490.61" y="13.82" font-size="16" font-weight="bold">d</text>
<polyline points="523.3,328.87 523.88,328.87 524.45,328.87 525.03,328.86 525.6,328.86 526.18,328.86 526.75,328.85 527.33,328.85 527.9,328.84 528.48,328.84 529.05,328.83 529.63,328.83 530.2,328.82 530.78,328.82 531.35,328.81 531.93,328.8 532.5,328.79 533.08,328.79 533.65,328.78 534.23,328.77 534.8,328.76 535.38,328.74 535.96,328.73 536.53,328.72 537.11,328.7 537.68,328.69 538.26,328.67 538.83,328.65 539.41,328.63 539.98,328.61 540.56,328.58 541.13,328.56 541.71,328.53 542.28,328.5 542.86,328.46 543.43,328.43 544.01,328.39 544.58,328.35 545.16,328.3 545.73,328.25 546.31,328.2 546.89,328.14 547.46,328.08 548.04,328.01 548.61,327.94 549.19,327.86 549.76,327.77 550.34,327.68 550.91,327.58 551.49,327.47 552.06,327.36 552.64,327.23 553.21,327.09 553.79,326.95 554.36,326.79 554.94,326.61 555.51,326.43 556.09,326.23 556.66,326.01 557.24,325.77 557.81,325.52 558.39,325.24 558.97,324.95 559.54,324.63 560.12,324.28 560.69,323.91 561.27,323.51 561.84,323.07 562.42,322.61 562.99,322.1 563.57,321.56 564.14,320.98 564.72,320.35 565.29,319.67 565.87,318.94 566.44,318.16 567.02,317.32 567.59,316.43 568.17,315.46 568.74,314.43 569.32,313.32 569.9,312.14 570.47,310.88 571.05,309.54 571.62,308.11 572.2,306.59 572.77,304.97 573.35,303.26 573.92,301.45 574.5,299.53 575.07,297.52 575.65,295.4 576.22,293.17 576.8,290.84 577.37,288.41 577.95,285.89 578.52,283.26 579.1,280.54 579.67,277.74 580.25,274.86 580.82,271.91 581.4,268.9 581.98,265.84 582.55,262.74 583.13,259.61 583.7,256.46 584.28,253.31 584.85,250.16 585.43,247.04 586,243.95 586.58,240.91 587.15,237.93 587.73,235.01 588.3,232.17 588.88,229.42 589.45,226.76 590.03,224.19 590.6,221.74 591.18,219.39 591.75,217.15 592.33,215.02 592.91,213 593.48,211.1 594.06,209.3 594.63,207.62 595.21,206.04 595.78,204.56 596.36,203.18 596.93,201.89 597.51,200.7 598.08,199.59 598.66,198.56 599.23,197.61 599.81,196.72 600.38,195.91 600.96,195.16 601.53,194.47 602.11,193.84 602.68,193.25 603.26,192.72 603.83,192.22 604.41,191.77 604.99,191.36 605.56,190.98 606.14,190.63 606.71,190.32 607.29,190.03 607.86,189.76 608.44,189.52 609.01,189.29 609.59,189.09 610.16,188.91 610.74,188.74 611.31,188.58 611.89,188.44 612.46,188.32 613.04,188.2 613.61,188.09 614.19,187.99 614.76,187.91 615.34,187.83 615.92,187.75 616.49,187.68 617.07,187.62 617.64,187.57 618.22,187.52 618.79,187.47 619.37,187.43 619.94,187.39 620.52,187.36 621.09,187.32 621.67,187.29 622.24,187.27 622.82,187.24 623.39,187.22 623.97,187.2 624.54,187.18 625.12,187.17 625.69,187.15 626.27,187.14 626.84,187.13 627.42,187.12 628,187.1 628.57,187.1 629.15,187.09 629.72,187.08 630.3,187.07 630.87,187.07 631.45,187.06 632.02,187.05 632.6,187.05 633.17,187.05 633.75,187.04 634.32,187.04 634.9,187.03 635.47,187.03 636.05,187.03 636.62,187.03 637.2,187.02 637.77,187.02 638.35,187.02 638.93,187.02 639.5,187.02 640.08,187.01 640.65,187.01 641.23,187.01 641.8,187.01 642.38,187.01 642.95,187.01 643.53,187.01 644.1,187.01 644.68,187.01 645.25,187.01 645.83,187.01 646.4,187.01 646.98,187 647.55,187 648.13,187 648.7,187 649.28,187 649.86,187 650.43,187 651.01,187 651.58,187 652.16,187 652.73,187 653.31,187 653.88,187 654.46,187 655.03,187 655.61,187 656.18,187 656.76,187 657.33,187 657.91,187 658.48,187 659.06,187 659.63,187 660.21,187 660.78,187 661.36,187" fill="none" stroke="#e02020" stroke-width="1.3" stroke-linejoin="round" />
<polyline points="523.3,190.78 523.88,190.94 524.45,191.11 525.03,191.29 525.6,191.48 526.18,191.67 526.75,191.87 527.33,192.08 527.9,192.3 528.48,192.52 529.05,192.76 529.63,193 530.2,193.25 530.78,193.51 531.35,193.79 531.93,194.07 532.5,194.37 533.08,194.67 533.65,194.99 534.23,195.31 534.8,195.65 535.38,196.01 535.96,196.37 536.53,196.75 537.11,197.14 537.68,197.54 538.26,197.96 538.83,198.39 539.41,198.84 539.98,199.3 540.56,199.78 541.13,200.27 541.71,200.77 542.28,201.29 542.86,201.83 543.43,202.38 544.01,202.95 544.58,203.53 545.16,204.13 545.73,204.74 546.31,205.38 546.89,206.02 547.46,206.68 548.04,207.36 548.61,208.05 549.19,208.76 549.76,209.48 550.34,210.22 550.91,210.97 551.49,211.74 552.06,212.51 552.64,213.31 553.21,214.11 553.79,214.92 554.36,215.75 554.94,216.59 555.51,217.43 556.09,218.28 556.66,219.15 557.24,220.02 557.81,220.89 558.39,221.77 558.97,222.65 559.54,223.54 560.12,224.43 560.69,225.32 561.27,226.21 561.84,227.1 562.42,227.99 562.99,228.87 563.57,229.75 564.14,230.63 564.72,231.49 565.29,232.35 565.87,233.2 566.44,234.05 567.02,234.88 567.59,235.7 568.17,236.51 568.74,237.3 569.32,238.08 569.9,238.85 570.47,239.6 571.05,240.34 571.62,241.05 572.2,241.76 572.77,242.44 573.35,243.11 573.92,243.76 574.5,244.39 575.07,245 575.65,245.6 576.22,246.17 576.8,246.73 577.37,247.27 577.95,247.78 578.52,248.29 579.1,248.77 579.67,249.23 580.25,249.68 580.82,250.11 581.4,250.52 581.98,250.91 582.55,251.29 583.13,251.65 583.7,252 584.28,252.33 584.85,252.65 585.43,252.95 586,253.23 586.58,253.51 587.15,253.77 587.73,254.02 588.3,254.25 588.88,254.47 589.45,254.68 590.03,254.89 590.6,255.08 591.18,255.26 591.75,255.43 592.33,255.59 592.91,255.74 593.48,255.89 594.06,256.02 594.63,256.15 595.21,256.27 595.78,256.39 596.36,256.5 596.93,256.6 597.51,256.69 598.08,256.79 598.66,256.87 599.23,256.95 599.81,257.03 600.38,257.1 600.96,257.16 601.53,257.23 602.11,257.29 602.68,257.34 603.26,257.39 603.83,257.44 604.41,257.49 604.99,257.53 605.56,257.57 606.14,257.61 606.71,257.64 607.29,257.68 607.86,257.71 608.44,257.74 609.01,257.77 609.59,257.79 610.16,257.82 610.74,257.84 611.31,257.86 611.89,257.88 612.46,257.9 613.04,257.91 613.61,257.93 614.19,257.95 614.76,257.96 615.34,257.97 615.92,257.99 616.49,258 617.07,258.01 617.64,258.02 618.22,258.03 618.79,258.04 619.37,258.05 619.94,258.05 620.52,258.06 621.09,258.07 621.67,258.07 622.24,258.08 622.82,258.08 623.39,258.09 623.97,258.09 624.54,258.1 625.12,258.1 625.69,258.11 626.27,258.11 626.84,258.11 627.42,258.12 628,258.12 628.57,258.12 629.15,258.13 629.72,258.13 630.3,258.13 630.87,258.13 631.45,258.13 632.02,258.14 632.6,258.14 633.17,258.14 633.75,258.14 634.32,258.14 634.9,258.14 635.47,258.15 636.05,258.15 636.62,258.15 637.2,258.15 637.77,258.15 638.35,258.15 638.93,258.15 639.5,258.15 640.08,258.15 640.65,258.15 641.23,258.15 641.8,258.15 642.38,258.16 642.95,258.16 643.53,258.16 644.1,258.16 644.68,258.16 645.25,258.16 645.83,258.16 646.4,258.16 646.98,258.16 647.55,258.16 648.13,258.16 648.7,258.16 649.28,258.16 649.86,258.16 650.43,258.16 651.01,258.16 651.58,258.16 652.16,258.16 652.73,258.16 653.31,258.16 653.88,258.16 654.46,258.16 655.03,258.16 655.61,258.16 656.18,258.16 656.76,258.16 657.33,258.16 657.91,258.16 658.48,258.16 659.06,258.16 659.63,258.16 660.21,258.16 660.78,258.16 661.36,258.16" fill="none" stroke="#2340a6" stroke-width="1.6" stroke-linejoin="round" />
<line x1="523.3" y1="186.3" x2="523.3" y2="329.7" stroke="#000" stroke-width="1.6" stroke-linecap="butt"/>
<text x="510.16" y="333.12" font-size="14" font-weight="normal">0</text>
<line x1="523.3" y1="300.52" x2="528.8" y2="300.52" stroke="#000" stroke-width="1.1" stroke-linecap="butt"/>
<text x="498.64" y="304.74" font-size="14" font-weight="normal">0.2</text>
<line x1="523.3" y1="272.14" x2="528.8" y2="272.14" stroke="#000" stroke-width="1.1" stroke-linecap="butt"/>
<text x="498.35" y="276.36" font-size="14" font-weight="normal">0.4</text>
<line x1="523.3" y1="243.76" x2="528.8" y2="243.76" stroke="#000" stroke-width="1.1" stroke-linecap="butt"/>
<text x="498.55" y="247.98" font-size="14" font-weight="normal">0.6</text>
<line x1="523.3" y1="215.38" x2="528.8" y2="215.38" stroke="#000" stroke-width="1.1" stroke-linecap="butt"/>
<text x="498.55" y="219.6" font-size="14" font-weight="normal">0.8</text>
<line x1="523.3" y1="187" x2="528.8" y2="187" stroke="#000" stroke-width="1.1" stroke-linecap="butt"/>
<text x="498.48" y="191.22" font-size="14" font-weight="normal">1.0</text>
<line x1="522.5" y1="328.9" x2="661.8" y2="328.9" stroke="#000" stroke-width="1.6" stroke-linecap="butt"/>
<text x="504.76" y="345.77" font-size="14" font-weight="normal">−100</text>
<line x1="546.31" y1="328.9" x2="546.31" y2="323.4" stroke="#000" stroke-width="1.1" stroke-linecap="butt"/>
<text x="536.55" y="345.77" font-size="14" font-weight="normal">−80</text>
<line x1="569.32" y1="328.9" x2="569.32" y2="323.4" stroke="#000" stroke-width="1.1" stroke-linecap="butt"/>
<text x="559.85" y="345.77" font-size="14" font-weight="normal">−60</text>
<line x1="592.33" y1="328.9" x2="592.33" y2="323.4" stroke="#000" stroke-width="1.1" stroke-linecap="butt"/>
<text x="582.55" y="345.77" font-size="14" font-weight="normal">−40</text>
<line x1="615.34" y1="328.9" x2="615.34" y2="323.4" stroke="#000" stroke-width="1.1" stroke-linecap="butt"/>
<text x="606.05" y="345.77" font-size="14" font-weight="normal">−20</text>
<line x1="638.35" y1="328.9" x2="638.35" y2="323.4" stroke="#000" stroke-width="1.1" stroke-linecap="butt"/>
<text x="635.41" y="345.77" font-size="14" font-weight="normal">0</text>
<line x1="661.36" y1="328.9" x2="661.36" y2="323.4" stroke="#000" stroke-width="1.1" stroke-linecap="butt"/>
<text x="654.64" y="345.77" font-size="14" font-weight="normal">20</text>
<text x="569.93" y="363.7" font-size="13.8" font-weight="normal">V (mV)</text>
<text x="0" y="0" font-size="15.3" font-weight="normal" transform="translate(491.27,276.46) rotate(-90)">state</text>
<text x="482.31" y="192.83" font-size="16" font-weight="bold">e</text>
<polyline points="523.3,514.28 523.88,514.28 524.45,514.28 525.03,514.28 525.6,514.28 526.18,514.28 526.75,514.28 527.33,514.28 527.9,514.28 528.48,514.28 529.05,514.28 529.63,514.28 530.2,514.28 530.78,514.28 531.35,514.28 531.93,514.28 532.5,514.28 533.08,514.28 533.65,514.28 534.23,514.28 534.8,514.28 535.38,514.28 535.96,514.28 536.53,514.28 537.11,514.28 537.68,514.28 538.26,514.28 538.83,514.28 539.41,514.28 539.98,514.28 540.56,514.28 541.13,514.28 541.71,514.28 542.28,514.28 542.86,514.28 543.43,514.28 544.01,514.28 544.58,514.28 545.16,514.28 545.73,514.28 546.31,514.28 546.89,514.28 547.46,514.28 548.04,514.28 548.61,514.28 549.19,514.28 549.76,514.28 550.34,514.28 550.91,514.28 551.49,514.28 552.06,514.28 552.64,514.28 553.21,514.28 553.79,514.28 554.36,514.28 554.94,514.28 555.51,514.28 556.09,514.28 556.66,514.28 557.24,514.28 557.81,514.28 558.39,514.28 558.97,514.28 559.54,514.28 560.12,514.28 560.69,514.28 561.27,514.28 561.84,514.28 562.42,514.28 562.99,514.28 563.57,514.28 564.14,514.28 564.72,514.28 565.29,514.28 565.87,514.28 566.44,514.28 567.02,514.28 567.59,514.28 568.17,514.28 568.74,514.29 569.32,514.29 569.9,514.29 570.47,514.29 571.05,514.29 571.62,514.29 572.2,514.29 572.77,514.29 573.35,514.29 573.92,514.29 574.5,514.3 575.07,514.3 575.65,514.3 576.22,514.3 576.8,514.31 577.37,514.31 577.95,514.31 578.52,514.32 579.1,514.32 579.67,514.33 580.25,514.33 580.82,514.34 581.4,514.34 581.98,514.35 582.55,514.36 583.13,514.37 583.7,514.38 584.28,514.39 584.85,514.41 585.43,514.42 586,514.44 586.58,514.46 587.15,514.48 587.73,514.5 588.3,514.52 588.88,514.54 589.45,514.57 590.03,514.6 590.6,514.63 591.18,514.66 591.75,514.69 592.33,514.73 592.91,514.76 593.48,514.8 594.06,514.84 594.63,514.87 595.21,514.91 595.78,514.95 596.36,514.98 596.93,515.02 597.51,515.05 598.08,515.08 598.66,515.12 599.23,515.15 599.81,515.17 600.38,515.2 600.96,515.22 601.53,515.25 602.11,515.27 602.68,515.29 603.26,515.31 603.83,515.32 604.41,515.34 604.99,515.35 605.56,515.36 606.14,515.37 606.71,515.38 607.29,515.39 607.86,515.4 608.44,515.41 609.01,515.41 609.59,515.42 610.16,515.42 610.74,515.43 611.31,515.43 611.89,515.44 612.46,515.44 613.04,515.44 613.61,515.44 614.19,515.45 614.76,515.45 615.34,515.45 615.92,515.45 616.49,515.45 617.07,515.45 617.64,515.46 618.22,515.46 618.79,515.46 619.37,515.46 619.94,515.46 620.52,515.46 621.09,515.46 621.67,515.46 622.24,515.46 622.82,515.46 623.39,515.46 623.97,515.46 624.54,515.46 625.12,515.46 625.69,515.46 626.27,515.46 626.84,515.46 627.42,515.46 628,515.46 628.57,515.46 629.15,515.46 629.72,515.46 630.3,515.46 630.87,515.46 631.45,515.46 632.02,515.46 632.6,515.46 633.17,515.46 633.75,515.46 634.32,515.46 634.9,515.46 635.47,515.46 636.05,515.46 636.62,515.46 637.2,515.46 637.77,515.46 638.35,515.46 638.93,515.46 639.5,515.46 640.08,515.46 640.65,515.46 641.23,515.46 641.8,515.46 642.38,515.46 642.95,515.46 643.53,515.46 644.1,515.46 644.68,515.46 645.25,515.46 645.83,515.46 646.4,515.46 646.98,515.46 647.55,515.46 648.13,515.46 648.7,515.46 649.28,515.46 649.86,515.46 650.43,515.46 651.01,515.46 651.58,515.46 652.16,515.46 652.73,515.46 653.31,515.46 653.88,515.46 654.46,515.46 655.03,515.46 655.61,515.46 656.18,515.46 656.76,515.46 657.33,515.46 657.91,515.46 658.48,515.46 659.06,515.46 659.63,515.46 660.21,515.46 660.78,515.46 661.36,515.46" fill="none" stroke="#e0202a" stroke-width="1.1" stroke-linejoin="round" />
<polyline points="523.3,502.69 523.88,502.63 524.45,502.56 525.03,502.49 525.6,502.41 526.18,502.33 526.75,502.24 527.33,502.15 527.9,502.04 528.48,501.93 529.05,501.81 529.63,501.68 530.2,501.54 530.78,501.4 531.35,501.23 531.93,501.06 532.5,500.87 533.08,500.67 533.65,500.46 534.23,500.23 534.8,499.98 535.38,499.71 535.96,499.42 536.53,499.11 537.11,498.77 537.68,498.41 538.26,498.03 538.83,497.61 539.41,497.17 539.98,496.69 540.56,496.18 541.13,495.63 541.71,495.04 542.28,494.41 542.86,493.73 543.43,493 544.01,492.22 544.58,491.39 545.16,490.5 545.73,489.55 546.31,488.54 546.89,487.45 547.46,486.3 548.04,485.07 548.61,483.76 549.19,482.37 549.76,480.89 550.34,479.32 550.91,477.66 551.49,475.9 552.06,474.04 552.64,472.09 553.21,470.02 553.79,467.86 554.36,465.58 554.94,463.2 555.51,460.72 556.09,458.13 556.66,455.43 557.24,452.64 557.81,449.75 558.39,446.77 558.97,443.71 559.54,440.58 560.12,437.38 560.69,434.13 561.27,430.84 561.84,427.52 562.42,424.18 562.99,420.85 563.57,417.54 564.14,414.27 564.72,411.04 565.29,407.89 565.87,404.83 566.44,401.88 567.02,399.05 567.59,396.36 568.17,393.83 568.74,391.46 569.32,389.28 569.9,387.29 570.47,385.5 571.05,383.91 571.62,382.54 572.2,381.38 572.77,380.44 573.35,379.71 573.92,379.19 574.5,378.89 575.07,378.78 575.65,378.87 576.22,379.14 576.8,379.6 577.37,380.22 577.95,380.99 578.52,381.92 579.1,382.98 579.67,384.16 580.25,385.46 580.82,386.86 581.4,388.35 581.98,389.93 582.55,391.58 583.13,393.29 583.7,395.05 584.28,396.86 584.85,398.7 585.43,400.58 586,402.48 586.58,404.4 587.15,406.32 587.73,408.26 588.3,410.19 588.88,412.12 589.45,414.05 590.03,415.96 590.6,417.86 591.18,419.74 591.75,421.61 592.33,423.45 592.91,425.27 593.48,427.06 594.06,428.83 594.63,430.57 595.21,432.29 595.78,433.97 596.36,435.62 596.93,437.25 597.51,438.84 598.08,440.4 598.66,441.93 599.23,443.43 599.81,444.9 600.38,446.33 600.96,447.74 601.53,449.12 602.11,450.46 602.68,451.77 603.26,453.06 603.83,454.32 604.41,455.54 604.99,456.74 605.56,457.91 606.14,459.05 606.71,460.17 607.29,461.26 607.86,462.32 608.44,463.36 609.01,464.37 609.59,465.36 610.16,466.32 610.74,467.26 611.31,468.18 611.89,469.07 612.46,469.94 613.04,470.79 613.61,471.62 614.19,472.43 614.76,473.22 615.34,473.99 615.92,474.73 616.49,475.46 617.07,476.18 617.64,476.87 618.22,477.55 618.79,478.21 619.37,478.85 619.94,479.48 620.52,480.09 621.09,480.68 621.67,481.26 622.24,481.83 622.82,482.38 623.39,482.92 623.97,483.44 624.54,483.95 625.12,484.45 625.69,484.94 626.27,485.41 626.84,485.87 627.42,486.32 628,486.76 628.57,487.18 629.15,487.6 629.72,488 630.3,488.4 630.87,488.78 631.45,489.16 632.02,489.52 632.6,489.88 633.17,490.22 633.75,490.56 634.32,490.89 634.9,491.21 635.47,491.53 636.05,491.83 636.62,492.13 637.2,492.42 637.77,492.7 638.35,492.97 638.93,493.24 639.5,493.5 640.08,493.76 640.65,494.01 641.23,494.25 641.8,494.48 642.38,494.71 642.95,494.94 643.53,495.15 644.1,495.37 644.68,495.57 645.25,495.77 645.83,495.97 646.4,496.16 646.98,496.35 647.55,496.53 648.13,496.71 648.7,496.88 649.28,497.05 649.86,497.21 650.43,497.37 651.01,497.53 651.58,497.68 652.16,497.83 652.73,497.97 653.31,498.11 653.88,498.25 654.46,498.38 655.03,498.51 655.61,498.64 656.18,498.76 656.76,498.88 657.33,499 657.91,499.12 658.48,499.23 659.06,499.33 659.63,499.44 660.21,499.54 660.78,499.64 661.36,499.74" fill="none" stroke="#2340a6" stroke-width="1.6" stroke-linejoin="round" />
<line x1="523.3" y1="373.4" x2="523.3" y2="516.5" stroke="#000" stroke-width="1.6" stroke-linecap="butt"/>
<text x="511.46" y="519.27" font-size="14" font-weight="normal">0</text>
<line x1="523.3" y1="492.05" x2="528.8" y2="492.05" stroke="#000" stroke-width="1.1" stroke-linecap="butt"/>
<text x="503.67" y="495.62" font-size="14" font-weight="normal">20</text>
<line x1="523.3" y1="468.4" x2="528.8" y2="468.4" stroke="#000" stroke-width="1.1" stroke-linecap="butt"/>
<text x="503.67" y="471.97" font-size="14" font-weight="normal">40</text>
<line x1="523.3" y1="444.75" x2="528.8" y2="444.75" stroke="#000" stroke-width="1.1" stroke-linecap="butt"/>
<text x="503.67" y="448.32" font-size="14" font-weight="normal">60</text>
<line x1="523.3" y1="421.1" x2="528.8" y2="421.1" stroke="#000" stroke-width="1.1" stroke-linecap="butt"/>
<text x="503.67" y="424.67" font-size="14" font-weight="normal">80</text>
<line x1="523.3" y1="397.45" x2="528.8" y2="397.45" stroke="#000" stroke-width="1.1" stroke-linecap="butt"/>
<text x="495.89" y="401.02" font-size="14" font-weight="normal">100</text>
<line x1="523.3" y1="373.8" x2="528.8" y2="373.8" stroke="#000" stroke-width="1.1" stroke-linecap="butt"/>
<text x="495.89" y="377.37" font-size="14" font-weight="normal">120</text>
<line x1="522.5" y1="515.7" x2="661.8" y2="515.7" stroke="#000" stroke-width="1.6" stroke-linecap="butt"/>
<text x="504.76" y="532.32" font-size="14" font-weight="normal">−100</text>
<line x1="546.31" y1="515.7" x2="546.31" y2="510.2" stroke="#000" stroke-width="1.1" stroke-linecap="butt"/>
<text x="536.55" y="532.32" font-size="14" font-weight="normal">−80</text>
<line x1="569.32" y1="515.7" x2="569.32" y2="510.2" stroke="#000" stroke-width="1.1" stroke-linecap="butt"/>
<text x="559.85" y="532.32" font-size="14" font-weight="normal">−60</text>
<line x1="592.33" y1="515.7" x2="592.33" y2="510.2" stroke="#000" stroke-width="1.1" stroke-linecap="butt"/>
<text x="582.55" y="532.32" font-size="14" font-weight="normal">−40</text>
<line x1="615.34" y1="515.7" x2="615.34" y2="510.2" stroke="#000" stroke-width="1.1" stroke-linecap="butt"/>
<text x="606.05" y="532.32" font-size="14" font-weight="normal">−20</text>
<line x1="638.35" y1="515.7" x2="638.35" y2="510.2" stroke="#000" stroke-width="1.1" stroke-linecap="butt"/>
<text x="635.41" y="532.32" font-size="14" font-weight="normal">0</text>
<line x1="661.36" y1="515.7" x2="661.36" y2="510.2" stroke="#000" stroke-width="1.1" stroke-linecap="butt"/>
<text x="654.64" y="532.32" font-size="14" font-weight="normal">20</text>
<text x="569.93" y="550.5" font-size="13.8" font-weight="normal">V (mV)</text>
<text x="0" y="0" font-size="15.3" font-weight="normal" transform="translate(485.96,475.29) rotate(-90)">tau (ms)</text>
<text x="481.48" y="382.2" font-size="16" font-weight="bold">f</text>
</svg>
</body></html>
